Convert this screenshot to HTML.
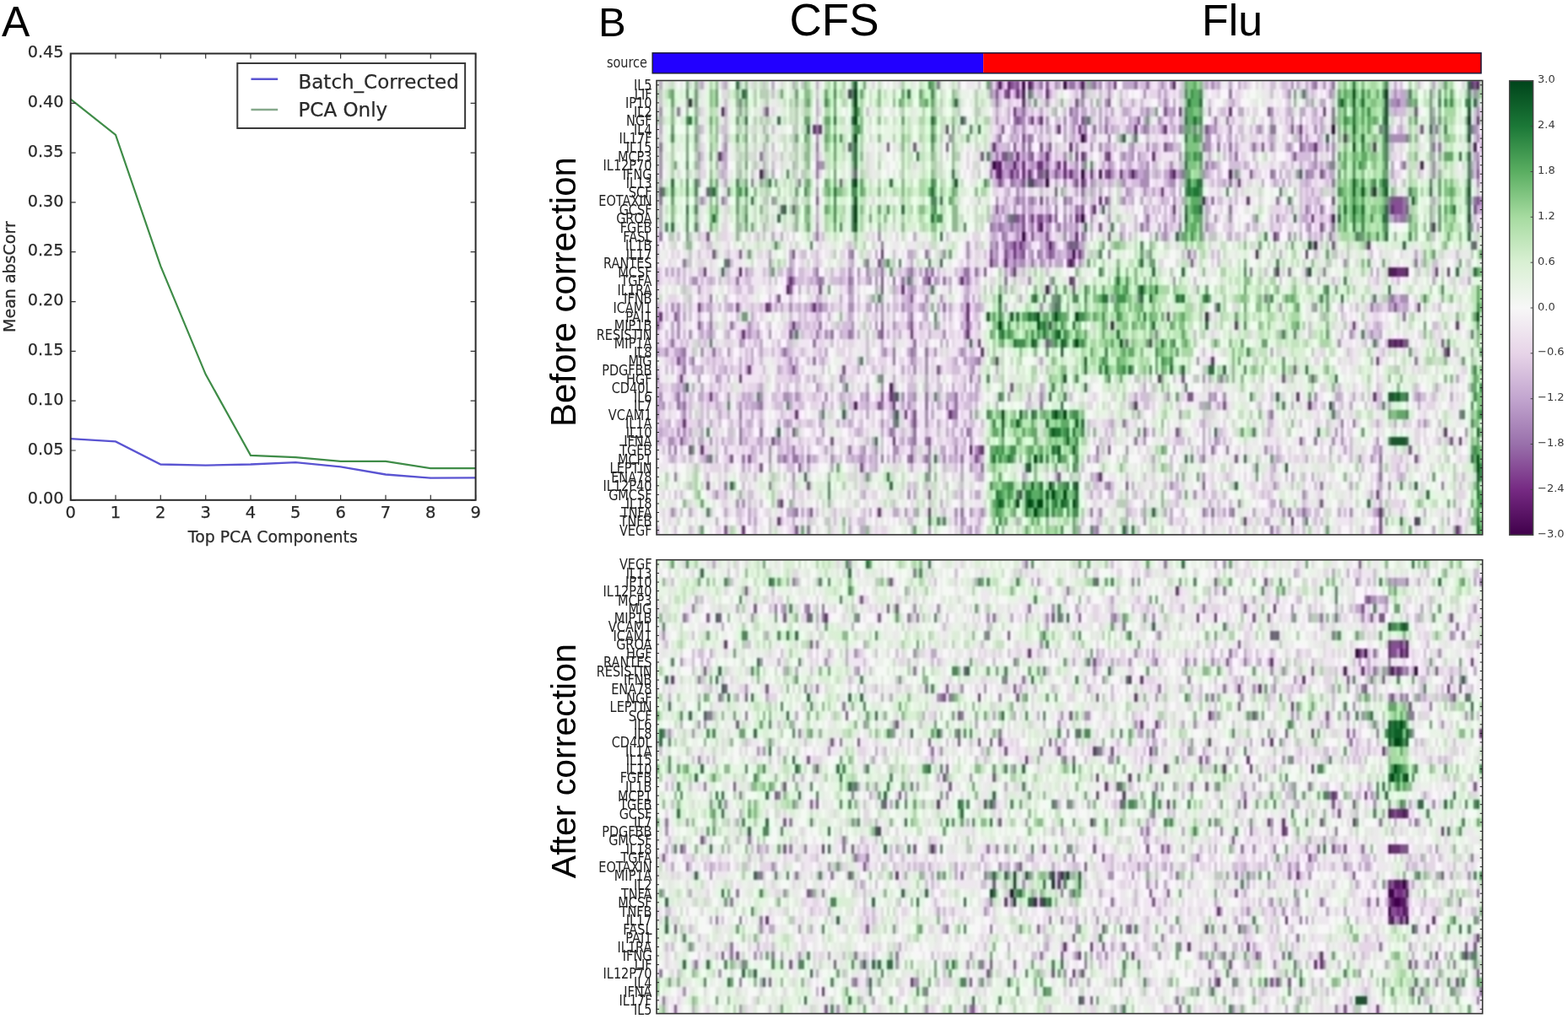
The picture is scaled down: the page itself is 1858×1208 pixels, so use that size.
<!DOCTYPE html><html><head><meta charset="utf-8"><style>html,body{margin:0;padding:0;background:#fff;width:1858px;height:1208px;overflow:hidden}svg{display:block}</style></head><body>
<svg width="1858" height="1208" viewBox="0 0 1858 1208">
<rect width="1858" height="1208" fill="#fff"/>
<defs><filter id="jpeg" filterUnits="userSpaceOnUse" x="770" y="90" width="995" height="1120" color-interpolation-filters="sRGB"><feGaussianBlur in="SourceGraphic" stdDeviation="4.5" result="c"/><feGaussianBlur in="SourceGraphic" stdDeviation="1.0" result="l"/><feBlend in="l" in2="c" mode="luminosity"/></filter></defs>
<text x="2" y="43" font-family="Liberation Sans,Arial,sans-serif" font-size="50" fill="#000">A</text>
<polyline fill="none" stroke="#3f8c48" stroke-width="2.2" points="83.7,117.6 137.0,160.0 190.3,315.4 243.7,443.8 297.0,539.9 350.3,542.2 403.6,546.9 457.0,546.9 510.3,555.2 563.6,555.2"/>
<polyline fill="none" stroke="#5a54d2" stroke-width="2.3" points="83.7,520.2 137.0,523.4 190.3,550.5 243.7,551.6 297.0,550.5 350.3,548.1 403.6,553.4 457.0,562.5 510.3,566.7 563.6,566.3"/>
<path d="M83.7 592.8v-6M83.7 63.5v6M137.0 592.8v-6M137.0 63.5v6M190.3 592.8v-6M190.3 63.5v6M243.7 592.8v-6M243.7 63.5v6M297.0 592.8v-6M297.0 63.5v6M350.3 592.8v-6M350.3 63.5v6M403.6 592.8v-6M403.6 63.5v6M457.0 592.8v-6M457.0 63.5v6M510.3 592.8v-6M510.3 63.5v6M563.6 592.8v-6M563.6 63.5v6M83.7 592.8h6M563.6 592.8h-6M83.7 534.0h6M563.6 534.0h-6M83.7 475.2h6M563.6 475.2h-6M83.7 416.4h6M563.6 416.4h-6M83.7 357.6h6M563.6 357.6h-6M83.7 298.7h6M563.6 298.7h-6M83.7 239.9h6M563.6 239.9h-6M83.7 181.1h6M563.6 181.1h-6M83.7 122.3h6M563.6 122.3h-6M83.7 63.5h6M563.6 63.5h-6" stroke="#333" stroke-width="1.2" fill="none"/>
<rect x="83.7" y="63.5" width="479.9" height="529.3" fill="none" stroke="#2a2a2a" stroke-width="2"/>
<text x="75.5" y="597.4" font-family="DejaVu Sans,sans-serif" fill="#2a2a2a" stroke="#2a2a2a" stroke-width="0.25" font-size="19.2" text-anchor="end">0.00</text>
<text x="75.5" y="538.6" font-family="DejaVu Sans,sans-serif" fill="#2a2a2a" stroke="#2a2a2a" stroke-width="0.25" font-size="19.2" text-anchor="end">0.05</text>
<text x="75.5" y="479.8" font-family="DejaVu Sans,sans-serif" fill="#2a2a2a" stroke="#2a2a2a" stroke-width="0.25" font-size="19.2" text-anchor="end">0.10</text>
<text x="75.5" y="421.0" font-family="DejaVu Sans,sans-serif" fill="#2a2a2a" stroke="#2a2a2a" stroke-width="0.25" font-size="19.2" text-anchor="end">0.15</text>
<text x="75.5" y="362.2" font-family="DejaVu Sans,sans-serif" fill="#2a2a2a" stroke="#2a2a2a" stroke-width="0.25" font-size="19.2" text-anchor="end">0.20</text>
<text x="75.5" y="303.3" font-family="DejaVu Sans,sans-serif" fill="#2a2a2a" stroke="#2a2a2a" stroke-width="0.25" font-size="19.2" text-anchor="end">0.25</text>
<text x="75.5" y="244.5" font-family="DejaVu Sans,sans-serif" fill="#2a2a2a" stroke="#2a2a2a" stroke-width="0.25" font-size="19.2" text-anchor="end">0.30</text>
<text x="75.5" y="185.7" font-family="DejaVu Sans,sans-serif" fill="#2a2a2a" stroke="#2a2a2a" stroke-width="0.25" font-size="19.2" text-anchor="end">0.35</text>
<text x="75.5" y="126.9" font-family="DejaVu Sans,sans-serif" fill="#2a2a2a" stroke="#2a2a2a" stroke-width="0.25" font-size="19.2" text-anchor="end">0.40</text>
<text x="75.5" y="68.1" font-family="DejaVu Sans,sans-serif" fill="#2a2a2a" stroke="#2a2a2a" stroke-width="0.25" font-size="19.2" text-anchor="end">0.45</text>
<text x="83.7" y="614" font-family="DejaVu Sans,sans-serif" fill="#2a2a2a" stroke="#2a2a2a" stroke-width="0.25" font-size="19.5" text-anchor="middle">0</text>
<text x="137.0" y="614" font-family="DejaVu Sans,sans-serif" fill="#2a2a2a" stroke="#2a2a2a" stroke-width="0.25" font-size="19.5" text-anchor="middle">1</text>
<text x="190.3" y="614" font-family="DejaVu Sans,sans-serif" fill="#2a2a2a" stroke="#2a2a2a" stroke-width="0.25" font-size="19.5" text-anchor="middle">2</text>
<text x="243.7" y="614" font-family="DejaVu Sans,sans-serif" fill="#2a2a2a" stroke="#2a2a2a" stroke-width="0.25" font-size="19.5" text-anchor="middle">3</text>
<text x="297.0" y="614" font-family="DejaVu Sans,sans-serif" fill="#2a2a2a" stroke="#2a2a2a" stroke-width="0.25" font-size="19.5" text-anchor="middle">4</text>
<text x="350.3" y="614" font-family="DejaVu Sans,sans-serif" fill="#2a2a2a" stroke="#2a2a2a" stroke-width="0.25" font-size="19.5" text-anchor="middle">5</text>
<text x="403.6" y="614" font-family="DejaVu Sans,sans-serif" fill="#2a2a2a" stroke="#2a2a2a" stroke-width="0.25" font-size="19.5" text-anchor="middle">6</text>
<text x="457.0" y="614" font-family="DejaVu Sans,sans-serif" fill="#2a2a2a" stroke="#2a2a2a" stroke-width="0.25" font-size="19.5" text-anchor="middle">7</text>
<text x="510.3" y="614" font-family="DejaVu Sans,sans-serif" fill="#2a2a2a" stroke="#2a2a2a" stroke-width="0.25" font-size="19.5" text-anchor="middle">8</text>
<text x="563.6" y="614" font-family="DejaVu Sans,sans-serif" fill="#2a2a2a" stroke="#2a2a2a" stroke-width="0.25" font-size="19.5" text-anchor="middle">9</text>
<text x="323.3" y="643" font-family="DejaVu Sans,sans-serif" fill="#2a2a2a" stroke="#2a2a2a" stroke-width="0.25" font-size="18.9" text-anchor="middle">Top PCA Components</text>
<text transform="translate(17.6 328.1) rotate(-90)" font-family="DejaVu Sans,sans-serif" fill="#2a2a2a" stroke="#2a2a2a" stroke-width="0.25" font-size="19" text-anchor="middle">Mean absCorr</text>
<rect x="281.3" y="75" width="269.8" height="77" fill="#fff" stroke="#3a3a3a" stroke-width="2"/>
<path d="M297.5 93.7H329.2" stroke="#5a54d2" stroke-width="2.4"/>
<path d="M297.5 130H329.2" stroke="#86a98c" stroke-width="2.6"/>
<text x="353.5" y="104.5" font-family="DejaVu Sans,sans-serif" fill="#2a2a2a" stroke="#2a2a2a" stroke-width="0.25" font-size="23">Batch_Corrected</text>
<text x="353.5" y="138" font-family="DejaVu Sans,sans-serif" fill="#2a2a2a" stroke="#2a2a2a" stroke-width="0.25" font-size="23">PCA Only</text>
<text x="709" y="43" font-family="Liberation Sans,Arial,sans-serif" fill="#000" font-size="49">B</text>
<text x="935.5" y="41.5" font-family="Liberation Sans,Arial,sans-serif" fill="#000" font-size="53">CFS</text>
<text x="1424" y="41.5" font-family="Liberation Sans,Arial,sans-serif" fill="#000" font-size="52">Flu</text>
<text transform="translate(767 80) scale(1 1.2)" font-family="DejaVu Sans,sans-serif" fill="#2a2a2a" font-size="14.5" text-anchor="end">source</text>
<rect x="773.2" y="62.8" width="392" height="24" fill="#2200ff"/>
<rect x="1165.2" y="62.8" width="590" height="24" fill="#ff0000"/>
<rect x="773.2" y="62.8" width="981.8" height="24" fill="none" stroke="#1a1a3a" stroke-width="1.5"/>
<defs><clipPath id="cl95"><rect x="778.00" y="95.50" width="978.70" height="538.40"/></clipPath></defs>
<g clip-path="url(#cl95)"><g filter="url(#jpeg)"><g transform="translate(778.00 100.78) scale(3.49536 10.55686)" fill="none" stroke-width="1" shape-rendering="crispEdges">
<path stroke="#40004b" d="M124 0h1M138 0h1M229 5h1M144 6h1M114 9h1M144 10h1M132 11h1M144 15h1M124 17h1M141 19h1"/>
<path stroke="#5b1567" d="M116 0h1M119 0h1M126 0h1M144 0h1M175 0h1M278 0h1M124 1h1M11 2h1M22 3h1M277 7h1M116 9h1M121 9h1M259 9h1M35 10h1M116 10h1M150 10h1M161 10h1M175 10h1M194 10h1M243 12h1M185 13h1M229 15h1M130 16h1M133 18h1M223 18h1M203 19h1M140 20h1M28 21h1M248 21h3M254 21h1M44 23h1M132 23h1M186 26h1M154 27h1M248 29h1M250 29h1M252 29h1M268 30h1M79 34h1M67 36h1M106 41h1"/>
<path stroke="#762a83" d="M155 0h1M276 0h1M65 1h1M119 1h1M122 1h1M132 1h1M124 2h1M121 3h1M177 3h1M194 3h1M226 3h1M127 4h1M130 4h1M278 4h1M53 5h1M55 5h1M98 5h1M136 5h1M143 5h1M162 5h1M172 5h1M218 5h1M233 6h1M114 7h1M140 7h1M223 7h1M243 7h1M21 8h1M122 8h1M132 8h1M144 8h1M153 8h1M168 8h1M115 9h1M124 9h1M129 9h2M136 9h1M138 9h1M115 10h1M120 10h1M124 10h1M126 10h1M132 10h1M138 10h1M140 10h1M147 10h1M153 10h1M157 10h1M127 11h1M144 11h1M197 11h1M171 12h1M150 13h1M200 13h1M148 14h1M175 14h1M249 14h1M127 15h1M133 15h1M142 15h1M222 15h1M263 16h1M142 17h1M209 17h1M121 18h1M123 18h1M241 18h1M76 19h1M121 19h1M143 19h1M220 19h1M113 20h1M118 20h1M16 21h1M121 21h1M210 21h1M251 21h3M264 21h1M268 21h1M45 22h1M92 22h1M103 22h1M140 22h1M83 23h1M14 25h1M37 25h1M53 25h1M105 25h1M258 25h1M1 26h1M105 26h1M173 26h1M46 27h1M133 27h1M196 27h1M236 27h1M271 27h1M29 28h1M86 28h1M105 28h1M109 29h1M167 29h1M249 29h1M251 29h1M110 30h1M115 31h1M188 31h1M244 31h1M31 32h1M8 33h1M28 33h1M170 33h1M18 35h1M79 35h1M217 35h1M243 35h1M80 36h1M162 36h1M221 36h1M47 37h1M84 37h1M99 37h1M9 38h1M267 39h1M80 40h1M272 40h1M15 41h1M110 41h1M150 44h1M123 46h1M244 46h1M42 47h1M75 48h1M92 48h1M245 48h1M41 49h1M199 49h1M215 49h1M257 49h1M29 50h1M271 50h1"/>
<path stroke="#884d97" d="M120 0h1M122 0h1M127 0h1M132 0h1M277 0h1M115 1h1M118 1h1M142 2h1M153 2h1M37 3h1M172 3h1M207 3h1M257 3h1M122 4h1M144 4h1M163 4h1M117 5h1M186 5h1M215 5h1M259 5h1M124 6h1M145 6h1M65 7h1M78 7h1M87 7h1M98 7h1M121 7h1M130 7h1M133 7h1M172 7h1M205 7h1M218 7h1M110 8h1M117 8h2M127 8h1M142 8h1M152 8h1M216 8h1M67 10h1M122 10h1M129 10h2M135 10h1M152 10h1M174 10h1M201 10h1M225 10h1M278 10h1M62 11h1M116 11h1M124 11h1M142 11h1M1 12h1M17 12h1M135 12h1M54 13h1M130 13h1M152 13h1M229 13h1M249 13h4M278 13h1M42 14h1M46 14h1M115 14h1M144 14h1M250 14h3M254 14h1M277 14h1M121 15h2M124 15h1M129 15h2M135 15h1M124 16h1M129 16h1M150 16h1M225 16h1M17 17h1M127 17h1M132 17h1M153 17h1M140 18h1M142 18h1M229 18h1M277 18h1M19 19h1M28 19h1M46 19h1M113 19h1M118 19h1M124 19h1M133 19h1M24 20h1M75 20h1M139 20h1M141 20h1M181 20h1M111 21h1M76 22h1M141 22h1M45 23h1M55 23h1M76 23h1M141 23h1M41 24h1M86 24h1M27 25h1M38 25h1M135 25h1M250 25h1M6 26h1M0 27h1M14 27h1M76 27h1M86 27h1M105 27h1M45 28h1M76 28h1M132 29h1M159 29h1M253 29h2M266 29h1M267 30h1M7 31h1M46 32h1M63 32h1M95 32h1M216 32h1M178 33h1M212 33h1M222 33h1M120 34h1M76 35h1M80 35h1M180 35h2M75 36h1M192 36h1M87 37h1M87 38h1M46 39h1M165 39h1M176 39h1M8 40h1M39 40h1M59 40h1M92 40h1M218 40h1M269 40h1M11 41h1M109 41h1M153 41h1M255 41h1M25 42h1M31 42h1M86 42h1M108 42h1M196 42h1M257 42h1M35 43h1M48 43h1M69 43h1M136 44h1M17 45h1M51 45h1M159 45h1M185 45h1M92 46h1M225 47h1M52 48h1M245 49h1M23 50h1M47 50h1M245 50h1"/>
<path stroke="#9970ab" d="M95 0h1M121 0h1M130 0h1M140 0h2M148 0h1M162 0h1M166 0h1M223 0h1M229 0h1M144 1h1M194 1h1M28 2h1M115 2h1M251 2h1M7 3h1M124 3h1M140 3h1M229 3h1M104 4h1M121 4h1M123 4h1M145 4h1M189 4h1M193 4h1M229 4h1M54 5h1M145 5h1M148 5h1M152 5h1M165 5h1M177 5h1M182 5h1M208 5h2M245 5h1M264 5h1M276 5h1M116 6h1M126 6h1M153 6h1M218 6h1M254 6h1M1 7h1M54 7h1M124 7h1M126 7h1M185 7h1M190 7h1M194 7h1M202 7h1M263 7h1M265 7h1M35 8h1M115 8h1M120 8h1M126 8h1M145 8h1M196 8h1M54 9h1M132 9h1M186 9h1M229 9h1M253 9h1M278 9h1M54 10h1M113 10h1M160 10h1M162 10h1M178 10h1M208 10h1M220 10h1M32 11h1M48 11h1M120 11h1M128 11h1M145 11h1M194 11h1M229 11h1M144 12h1M1 13h1M22 13h1M122 13h1M127 13h1M138 13h1M188 13h1M210 13h1M248 13h1M253 13h2M277 13h1M135 14h1M142 14h1M194 14h1M220 14h1M225 14h1M248 14h1M253 14h1M119 15h1M132 15h1M166 15h1M250 15h1M252 15h2M113 16h1M116 16h1M120 16h1M127 16h1M136 16h1M164 16h1M177 16h1M229 16h1M1 17h1M54 17h1M117 17h1M144 17h1M210 17h1M228 17h1M238 17h1M76 18h1M115 18h1M118 18h1M120 18h1M124 18h1M134 18h1M139 18h1M66 19h1M91 19h1M123 19h1M129 19h1M134 19h1M153 19h1M180 19h1M9 20h1M71 20h1M121 20h1M127 20h1M257 20h1M54 21h1M76 21h1M86 21h1M91 21h1M93 21h1M104 21h2M108 21h1M201 21h1M214 21h1M220 21h1M226 21h1M27 22h1M46 22h1M55 22h1M65 22h1M80 22h1M83 22h1M91 22h1M97 22h1M105 22h1M118 22h1M18 24h1M135 24h1M163 24h1M206 24h1M249 24h1M55 25h1M97 25h1M242 25h1M86 26h1M253 26h1M18 27h1M25 27h1M55 27h1M54 28h1M59 28h1M65 28h1M75 28h1M169 28h1M5 29h1M53 29h1M87 29h1M133 29h1M9 30h1M19 30h1M43 30h1M80 30h1M86 30h1M91 30h1M12 31h1M53 31h1M80 31h1M109 31h1M257 31h1M9 32h1M62 33h1M76 33h1M106 33h1M191 33h1M7 35h1M91 35h1M101 35h1M7 36h1M9 36h1M35 36h1M76 36h1M91 36h1M98 36h1M101 36h1M130 36h1M28 37h1M80 37h1M100 37h2M208 37h1M272 37h1M80 38h1M158 38h1M232 38h1M236 38h1M28 39h1M35 39h1M79 39h1M87 39h1M105 39h1M28 40h1M87 40h1M91 40h1M162 40h1M223 40h1M6 41h1M46 41h1M65 41h1M92 41h1M149 41h1M188 41h1M193 41h1M17 42h1M29 42h1M43 42h1M46 42h2M51 42h1M76 42h1M85 42h1M91 42h1M103 42h1M185 42h1M245 42h1M92 43h1M110 43h1M6 44h1M245 44h1M23 45h1M38 45h1M153 45h1M225 45h1M248 45h1M266 45h1M41 47h1M197 47h1M47 48h1M103 48h1M147 48h1M185 48h1M188 48h1M195 48h1M214 48h1M219 48h1M51 50h1M149 50h1M208 50h1"/>
<path stroke="#ae8abd" d="M113 0h1M115 0h1M135 0h1M143 0h1M147 0h1M150 0h1M153 0h1M171 0h1M174 0h1M188 0h1M215 0h1M222 0h1M226 0h1M113 1h1M127 1h1M153 1h1M165 1h1M214 1h1M228 1h1M250 1h1M277 1h1M132 2h1M144 2h1M152 2h1M172 2h1M249 2h2M254 2h1M1 3h1M28 3h1M142 3h1M166 3h1M175 3h1M187 3h1M208 3h1M278 3h1M115 4h1M124 4h1M126 4h1M129 4h1M132 4h1M138 4h1M141 4h2M152 4h1M170 4h1M215 4h1M263 4h1M121 5h1M124 5h1M141 5h1M166 5h1M171 5h1M178 5h1M187 5h1M189 5h1M194 5h1M204 5h1M223 5h1M277 5h1M54 6h1M99 6h1M127 6h1M157 6h1M186 6h2M220 6h1M248 6h6M278 6h1M23 7h1M142 7h1M147 7h1M150 7h1M161 7h1M166 7h1M173 7h2M186 7h2M208 7h1M214 7h1M219 7h1M221 7h2M227 7h1M229 7h1M1 8h1M14 8h1M22 8h1M54 8h1M124 8h1M130 8h1M138 8h1M158 8h1M161 8h1M163 8h1M177 8h1M223 8h1M229 8h1M278 8h1M1 9h1M55 9h2M118 9h3M122 9h1M127 9h1M135 9h1M142 9h1M144 9h1M153 9h1M166 9h1M174 9h1M188 9h1M223 9h1M263 9h1M1 10h1M36 10h1M117 10h1M119 10h1M121 10h1M127 10h1M136 10h1M141 10h2M154 10h1M165 10h2M177 10h1M185 10h1M209 10h1M217 10h1M221 10h2M226 10h1M263 10h1M276 10h1M14 11h1M117 11h1M121 11h1M123 11h1M129 11h2M138 11h1M141 11h1M147 11h1M158 11h1M164 11h3M174 11h2M278 11h1M54 12h1M122 12h1M159 12h1M165 12h1M15 13h1M39 13h1M115 13h1M124 13h1M126 13h1M132 13h1M140 13h1M153 13h1M158 13h1M175 13h1M279 13h1M117 14h1M121 14h1M124 14h1M147 14h1M123 15h1M126 15h1M138 15h1M140 15h1M143 15h1M147 15h1M153 15h1M175 15h1M189 15h1M194 15h1M210 15h1M251 15h1M254 15h1M54 16h1M114 16h1M117 16h1M122 16h1M132 16h1M138 16h1M142 16h1M166 16h1M172 16h1M186 16h1M221 16h1M276 16h1M278 16h1M75 17h1M118 17h1M122 17h1M138 17h1M157 17h1M172 17h1M214 17h1M105 18h1M113 18h1M119 18h1M122 18h1M132 18h1M65 19h1M97 19h1M105 19h1M115 19h1M119 19h1M122 19h1M127 19h1M130 19h1M132 19h1M139 19h2M144 19h1M38 20h1M114 20h2M123 20h2M130 20h1M133 20h1M143 20h1M233 20h1M30 21h1M45 21h1M65 21h1M68 21h1M71 21h1M85 21h1M120 21h1M12 22h2M44 22h1M54 22h1M56 22h1M66 22h1M72 22h1M74 22h1M86 22h1M90 22h1M94 22h1M126 22h1M175 22h1M14 23h1M65 23h1M86 23h1M91 24h1M96 24h1M154 24h1M248 24h1M252 24h3M5 25h1M7 25h1M45 25h1M52 25h1M65 25h2M74 25h1M76 25h1M83 25h1M90 25h1M130 25h1M189 25h1M211 25h1M223 25h1M248 25h1M7 26h1M18 26h1M76 26h1M7 27h1M31 27h1M66 27h1M74 27h1M80 27h1M85 27h1M7 28h1M11 28h1M18 28h1M31 28h1M34 28h1M38 28h1M57 28h1M66 28h1M97 28h1M104 28h1M235 28h1M242 28h1M28 29h1M231 29h1M0 30h1M3 30h1M8 30h1M15 30h1M24 30h1M77 30h1M87 30h1M94 30h1M103 30h1M9 31h1M45 31h1M86 31h1M91 31h1M104 31h1M108 31h1M183 31h1M87 32h1M91 32h1M107 32h1M0 33h1M14 33h1M20 33h1M109 33h1M185 33h1M9 34h1M54 34h1M76 34h1M1 35h1M24 35h1M35 35h1M43 35h2M47 35h1M57 35h1M71 35h1M83 35h1M87 35h1M119 35h1M130 35h1M173 35h1M187 35h1M189 35h1M192 35h1M223 35h1M258 35h1M2 36h1M28 36h1M34 36h1M56 36h1M85 36h1M187 36h1M229 36h1M0 37h1M9 37h1M91 37h1M106 37h1M177 37h1M28 38h1M44 38h1M76 38h1M86 38h1M91 38h1M260 38h1M7 39h1M9 39h1M56 39h1M80 39h1M106 39h1M230 39h1M274 39h1M4 40h2M18 40h1M41 40h1M86 40h1M106 40h1M165 40h1M189 40h1M229 40h1M232 40h1M244 40h1M4 41h1M38 41h1M70 41h1M74 41h1M80 41h2M86 41h1M101 41h1M108 41h1M159 41h1M206 41h1M245 41h1M38 42h1M41 42h1M59 42h1M69 42h1M80 42h1M92 42h1M97 42h1M109 42h1M149 42h1M238 42h1M242 42h1M106 43h1M245 43h1M46 44h1M92 44h1M149 44h1M185 44h1M152 45h1M174 45h1M209 45h1M20 46h1M85 46h1M182 46h1M219 46h1M27 47h1M29 47h1M211 47h1M5 48h1M46 48h1M84 48h1M101 48h1M106 48h1M110 48h1M150 48h1M194 48h1M212 48h1M235 48h1M244 48h1M103 49h1M165 49h1M92 50h1M106 50h1M148 50h1M159 50h1M272 50h1"/>
<path stroke="#c2a5cf" d="M1 0h1M15 0h1M23 0h1M39 0h1M46 0h1M54 0h1M117 0h1M129 0h1M136 0h1M139 0h1M145 0h1M158 0h4M186 0h1M190 0h1M194 0h1M197 0h1M217 0h1M220 0h1M250 0h1M263 0h1M114 1h1M121 1h1M123 1h1M133 1h1M170 1h1M172 1h1M220 1h1M229 1h1M252 1h3M54 2h1M126 2h1M147 2h1M157 2h1M161 2h1M175 2h1M195 2h1M220 2h1M225 2h2M248 2h1M252 2h2M278 2h1M23 3h1M36 3h1M54 3h1M115 3h1M119 3h1M122 3h2M130 3h1M135 3h1M141 3h1M144 3h2M150 3h1M154 3h1M158 3h2M164 3h1M173 3h2M197 3h2M214 3h1M218 3h2M223 3h1M250 3h1M263 3h1M1 4h1M119 4h1M150 4h1M160 4h1M162 4h1M165 4h1M174 4h1M208 4h1M218 4h1M225 4h1M1 5h1M14 5h1M36 5h1M130 5h1M132 5h1M135 5h1M138 5h1M144 5h1M150 5h1M154 5h1M159 5h2M164 5h1M175 5h1M188 5h1M203 5h1M217 5h1M225 5h1M252 5h1M263 5h1M278 5h1M23 6h1M115 6h1M120 6h1M122 6h1M138 6h1M141 6h1M161 6h1M190 6h1M194 6h1M208 6h1M224 6h1M229 6h1M263 6h1M36 7h1M115 7h1M119 7h1M132 7h1M152 7h2M160 7h1M168 7h2M196 7h1M213 7h1M23 8h1M113 8h1M131 8h1M133 8h1M157 8h1M160 8h1M187 8h1M194 8h1M215 8h1M263 8h1M277 8h1M14 9h1M23 9h1M36 9h1M46 9h1M113 9h1M126 9h1M128 9h1M131 9h1M151 9h1M154 9h1M160 9h1M164 9h1M189 9h1M199 9h1M218 9h1M222 9h1M225 9h1M227 9h1M249 9h1M252 9h1M276 9h1M22 10h1M28 10h1M39 10h1M118 10h1M134 10h1M139 10h1M145 10h1M158 10h1M163 10h2M169 10h1M172 10h2M176 10h1M186 10h1M197 10h1M211 10h1M228 10h2M249 10h1M1 11h1M23 11h1M115 11h1M122 11h1M135 11h1M148 11h1M153 11h1M157 11h1M173 11h1M192 11h1M205 11h1M209 11h1M212 11h1M220 11h1M119 12h1M124 12h1M142 12h1M147 12h1M150 12h1M160 12h1M168 12h1M175 12h1M177 12h1M222 12h1M23 13h1M118 13h1M121 13h1M123 13h1M128 13h1M135 13h1M139 13h1M144 13h1M157 13h1M161 13h1M164 13h1M171 13h1M178 13h1M186 13h1M224 13h1M263 13h1M1 14h1M54 14h1M126 14h2M132 14h1M138 14h1M143 14h1M153 14h1M165 14h1M186 14h1M215 14h1M221 14h1M278 14h2M1 15h1M54 15h1M114 15h1M116 15h1M118 15h1M131 15h1M177 15h1M186 15h1M202 15h1M219 15h2M228 15h1M248 15h2M1 16h1M28 16h1M36 16h1M115 16h1M118 16h2M121 16h1M123 16h1M126 16h1M133 16h1M135 16h1M140 16h1M147 16h1M170 16h1M200 16h1M220 16h1M226 16h1M39 17h1M42 17h1M87 17h1M114 17h1M125 17h1M130 17h1M140 17h1M145 17h1M171 17h1M177 17h1M185 17h1M194 17h1M218 17h1M221 17h1M225 17h1M114 18h1M125 18h2M130 18h1M143 18h2M38 19h1M45 19h1M74 19h1M85 19h2M114 19h1M120 19h1M126 19h1M136 19h1M142 19h1M166 19h1M182 19h1M211 19h1M257 19h1M45 20h1M66 20h1M76 20h1M86 20h1M119 20h2M122 20h1M131 20h1M135 20h3M0 21h1M3 21h1M5 21h1M7 21h1M38 21h1M44 21h1M53 21h1M74 21h1M89 21h1M118 21h1M242 21h1M244 21h1M0 22h1M18 22h1M52 22h1M62 22h1M68 22h1M71 22h1M95 22h1M99 22h1M102 22h1M104 22h1M133 22h1M224 22h1M263 22h1M275 22h1M48 23h1M66 23h1M74 23h1M80 23h1M85 23h1M87 23h1M105 23h1M118 23h1M133 23h1M54 24h1M62 24h1M65 24h2M76 24h1M85 24h1M104 24h2M107 24h1M123 24h1M250 24h1M0 25h1M15 25h1M17 25h2M24 25h2M40 25h1M42 25h1M48 25h1M50 25h1M54 25h1M56 25h2M71 25h2M78 25h1M85 25h2M89 25h1M95 25h1M99 25h1M103 25h1M108 25h2M118 25h1M133 25h1M232 25h1M244 25h1M249 25h1M251 25h1M253 25h2M0 26h1M9 26h1M14 26h1M32 26h1M54 26h1M58 26h1M65 26h1M85 26h1M91 26h1M104 26h1M226 26h1M5 27h1M15 27h1M45 27h1M47 27h2M89 27h1M95 27h1M103 27h1M106 27h1M109 27h1M244 27h1M5 28h1M15 28h1M17 28h1M24 28h1M46 28h1M62 28h1M68 28h1M78 28h1M82 28h1M92 28h1M211 28h1M245 28h1M29 29h1M35 29h1M76 29h1M96 29h1M98 29h1M244 29h1M6 30h2M32 30h1M35 30h1M42 30h1M44 30h1M57 30h1M76 30h1M85 30h1M104 30h1M208 30h1M8 31h1M11 31h1M28 31h1M32 31h1M47 31h1M56 31h1M68 31h1M87 31h1M101 31h1M106 31h2M130 31h1M12 32h1M15 32h1M23 32h1M28 32h1M30 32h1M41 32h1M45 32h1M47 32h1M68 32h1M83 32h1M106 32h1M115 32h1M21 33h1M24 33h1M53 33h1M63 33h1M80 33h1M91 33h1M187 33h1M271 33h1M7 34h1M12 34h1M15 34h1M35 34h1M63 34h1M71 34h1M80 34h1M91 34h1M100 34h1M104 34h1M108 34h1M130 34h1M165 34h1M264 34h1M6 35h1M9 35h1M14 35h2M20 35h1M29 35h1M31 35h1M45 35h1M48 35h1M62 35h1M69 35h1M85 35h2M95 35h1M98 35h3M106 35h1M108 35h1M126 35h1M162 35h1M188 35h1M230 35h2M236 35h1M257 35h1M269 35h1M0 36h2M8 36h1M20 36h1M30 36h1M32 36h2M45 36h1M71 36h1M79 36h1M83 36h1M95 36h1M115 36h1M184 36h2M190 36h1M215 36h1M235 36h1M248 36h1M258 36h1M21 37h1M24 37h1M32 37h1M55 37h1M71 37h1M86 37h1M93 37h1M207 37h1M4 38h1M14 38h1M18 38h1M31 38h1M35 38h1M41 38h1M43 38h1M45 38h1M55 38h1M61 38h1M65 38h1M95 38h1M101 38h1M104 38h1M154 38h1M185 38h1M244 38h1M250 38h1M258 38h1M1 39h1M11 39h1M15 39h1M68 39h1M76 39h1M98 39h1M100 39h1M103 39h1M168 39h1M177 39h1M185 39h1M207 39h1M232 39h1M0 40h1M9 40h1M14 40h2M22 40h1M30 40h1M34 40h2M40 40h1M44 40h1M54 40h1M73 40h1M83 40h1M85 40h1M101 40h1M104 40h1M185 40h1M190 40h1M23 41h1M32 41h1M35 41h1M44 41h1M57 41h1M69 41h1M96 41h2M175 41h1M185 41h1M228 41h1M233 41h1M243 41h1M5 42h1M16 42h1M20 42h1M42 42h1M44 42h1M49 42h1M53 42h1M66 42h1M68 42h1M70 42h1M72 42h1M74 42h1M78 42h1M90 42h1M99 42h1M101 42h1M146 42h1M168 42h1M184 42h1M210 42h1M220 42h1M29 43h1M38 43h1M51 43h1M59 43h1M74 43h1M86 43h1M103 43h1M209 43h1M103 44h1M109 44h2M124 44h1M135 44h1M147 44h1M176 44h1M215 44h1M222 44h1M252 44h1M46 45h1M161 45h1M235 45h1M245 45h1M46 46h1M70 46h1M87 46h1M103 46h1M108 46h2M147 46h1M177 46h1M242 46h1M96 47h1M165 47h1M187 47h1M208 47h2M245 47h1M11 48h1M23 48h1M31 48h1M44 48h2M49 48h1M51 48h1M72 48h1M80 48h2M87 48h1M159 48h1M172 48h1M174 48h1M186 48h1M192 48h1M202 48h1M217 48h1M220 48h1M231 48h1M243 48h1M260 48h1M272 48h1M20 49h1M31 49h1M33 49h1M46 49h1M101 49h1M104 49h1M109 49h1M122 49h1M159 49h1M174 49h1M206 49h2M219 49h1M268 49h1M0 50h1M65 50h1M69 50h2M103 50h1M108 50h1M143 50h1M185 50h1M210 50h1M215 50h1M263 50h1"/>
<path stroke="#d4bcdc" d="M14 0h1M22 0h1M28 0h1M36 0h1M49 0h1M102 0h1M109 0h1M128 0h1M142 0h1M149 0h1M152 0h1M154 0h1M164 0h2M170 0h1M172 0h1M178 0h1M185 0h1M189 0h1M199 0h1M208 0h2M212 0h2M228 0h1M252 0h1M258 0h1M266 0h1M1 1h1M36 1h1M39 1h1M54 1h1M116 1h1M129 1h2M142 1h1M145 1h1M150 1h1M157 1h1M177 1h2M208 1h1M213 1h1M218 1h1M222 1h1M249 1h1M251 1h1M263 1h1M276 1h1M1 2h1M23 2h1M102 2h1M114 2h1M116 2h1M119 2h1M150 2h1M164 2h1M170 2h1M173 2h1M187 2h1M194 2h1M214 2h1M221 2h1M229 2h1M14 3h1M71 3h1M102 3h1M109 3h1M125 3h1M127 3h1M138 3h1M147 3h2M152 3h1M160 3h1M165 3h1M167 3h2M178 3h1M191 3h2M213 3h1M215 3h1M222 3h1M248 3h2M251 3h3M277 3h1M23 4h1M54 4h1M135 4h2M140 4h1M147 4h1M153 4h1M161 4h1M171 4h1M177 4h2M195 4h1M213 4h1M222 4h2M252 4h1M277 4h1M15 5h1M22 5h2M28 5h1M39 5h1M46 5h1M102 5h1M116 5h1M120 5h1M122 5h1M128 5h1M133 5h1M140 5h1M155 5h2M161 5h1M168 5h1M170 5h1M174 5h1M185 5h1M197 5h2M201 5h1M205 5h1M214 5h1M220 5h1M226 5h1M248 5h1M251 5h1M1 6h1M14 6h1M46 6h1M121 6h1M125 6h1M129 6h2M133 6h1M140 6h1M143 6h1M147 6h2M166 6h1M175 6h1M193 6h1M196 6h1M198 6h1M207 6h1M209 6h1M217 6h1M225 6h1M277 6h1M14 7h1M22 7h1M39 7h1M46 7h1M113 7h1M116 7h3M135 7h1M155 7h1M175 7h3M192 7h1M201 7h1M203 7h1M209 7h1M215 7h1M220 7h1M224 7h2M248 7h2M279 7h1M15 8h1M28 8h1M36 8h1M42 8h1M102 8h1M114 8h1M116 8h1M121 8h1M123 8h1M125 8h1M129 8h1M135 8h1M159 8h1M164 8h2M192 8h1M202 8h1M217 8h5M248 8h1M22 9h1M28 9h1M39 9h1M117 9h1M123 9h1M133 9h1M140 9h2M157 9h1M159 9h1M163 9h1M165 9h1M168 9h2M177 9h2M187 9h1M190 9h1M194 9h4M200 9h1M203 9h1M212 9h1M215 9h1M221 9h1M277 9h1M14 10h1M21 10h1M23 10h1M32 10h1M46 10h1M49 10h1M109 10h1M114 10h1M125 10h1M133 10h1M137 10h1M148 10h1M155 10h1M159 10h1M168 10h1M170 10h1M187 10h1M190 10h1M195 10h1M202 10h1M213 10h2M258 10h1M277 10h1M28 11h1M36 11h1M54 11h1M114 11h1M125 11h1M131 11h1M150 11h2M154 11h1M161 11h3M172 11h1M177 11h2M188 11h1M190 11h2M196 11h1M210 11h1M214 11h1M218 11h2M221 11h1M227 11h1M250 11h1M253 11h1M118 12h1M130 12h1M138 12h1M145 12h1M148 12h1M153 12h1M161 12h1M166 12h1M170 12h1M174 12h1M196 12h1M218 12h1M220 12h1M225 12h1M229 12h1M278 12h1M14 13h1M16 13h1M36 13h1M46 13h1M109 13h1M134 13h1M145 13h1M147 13h2M160 13h1M167 13h1M172 13h2M190 13h2M194 13h1M196 13h1M215 13h1M218 13h1M220 13h2M223 13h1M276 13h1M114 14h1M116 14h1M118 14h2M130 14h1M133 14h1M140 14h1M150 14h1M166 14h1M168 14h1M170 14h1M172 14h1M174 14h1M177 14h1M187 14h1M213 14h1M218 14h1M223 14h1M226 14h1M229 14h1M263 14h1M113 15h1M115 15h1M128 15h1M134 15h1M145 15h1M162 15h1M165 15h1M169 15h1M172 15h1M174 15h1M208 15h1M212 15h1M218 15h1M225 15h1M263 15h1M277 15h1M14 16h1M46 16h1M139 16h1M141 16h1M144 16h1M157 16h2M162 16h1M165 16h1M174 16h1M187 16h2M194 16h1M202 16h2M208 16h1M211 16h1M218 16h1M228 16h1M4 17h1M7 17h1M11 17h1M14 17h1M34 17h1M36 17h1M53 17h1M56 17h1M98 17h1M113 17h1M115 17h1M121 17h1M123 17h1M128 17h2M131 17h1M133 17h1M141 17h1M147 17h1M158 17h1M160 17h1M167 17h1M173 17h1M187 17h1M189 17h1M193 17h1M196 17h2M199 17h1M223 17h1M229 17h1M263 17h1M0 18h1M17 18h2M65 18h1M108 18h1M117 18h1M131 18h1M135 18h1M138 18h1M0 19h1M11 19h1M14 19h1M24 19h1M49 19h2M54 19h1M80 19h1M87 19h1M92 19h1M111 19h1M135 19h1M137 19h2M147 19h1M149 19h1M178 19h1M188 19h1M190 19h1M223 19h1M229 19h1M242 19h1M271 19h1M11 20h1M25 20h1M46 20h1M54 20h1M65 20h1M80 20h1M105 20h1M117 20h1M126 20h1M128 20h1M144 20h1M190 20h1M228 20h1M259 20h1M263 20h2M275 20h1M9 21h1M14 21h2M23 21h2M31 21h2M36 21h1M41 21h2M46 21h1M48 21h2M59 21h1M62 21h2M66 21h1M72 21h1M75 21h1M82 21h1M84 21h1M87 21h1M92 21h1M95 21h1M101 21h1M103 21h1M109 21h1M124 21h1M132 21h1M206 21h1M258 21h1M263 21h1M7 22h1M9 22h1M11 22h1M15 22h1M17 22h1M19 22h1M21 22h1M24 22h1M30 22h2M38 22h1M40 22h1M47 22h3M51 22h1M53 22h1M59 22h3M63 22h1M84 22h1M106 22h1M108 22h1M121 22h1M182 22h1M211 22h1M220 22h1M229 22h1M244 22h1M251 22h1M9 23h1M27 23h2M31 23h2M51 23h1M81 23h1M90 23h1M92 23h1M99 23h1M104 23h1M113 23h1M11 24h1M23 24h1M38 24h1M40 24h1M45 24h1M55 24h1M68 24h1M72 24h1M80 24h1M83 24h2M109 24h1M242 24h1M251 24h1M3 25h1M9 25h1M11 25h1M21 25h1M23 25h1M28 25h1M32 25h1M35 25h1M47 25h1M51 25h1M59 25h1M62 25h1M68 25h1M80 25h2M84 25h1M91 25h1M104 25h1M110 25h1M237 25h1M243 25h1M245 25h1M252 25h1M257 25h1M265 25h1M3 26h1M11 26h1M27 26h1M45 26h1M48 26h1M50 26h1M55 26h1M66 26h1M74 26h1M80 26h1M90 26h1M97 26h1M99 26h1M108 26h1M232 26h1M1 27h1M17 27h1M26 27h1M32 27h1M34 27h1M38 27h1M50 27h2M53 27h1M61 27h1M63 27h3M72 27h1M81 27h1M92 27h1M104 27h1M221 27h1M240 27h1M243 27h1M245 27h1M263 27h2M0 28h1M3 28h1M9 28h1M14 28h1M19 28h1M23 28h1M28 28h1M30 28h1M32 28h2M49 28h1M52 28h1M55 28h1M58 28h1M63 28h2M71 28h1M80 28h1M182 28h1M221 28h1M232 28h1M236 28h1M241 28h1M243 28h2M0 29h1M4 29h1M8 29h1M10 29h1M14 29h1M16 29h1M33 29h1M41 29h1M44 29h2M59 29h1M71 29h1M80 29h1M91 29h1M104 29h1M240 29h1M247 29h1M1 30h2M12 30h1M21 30h1M30 30h1M39 30h1M45 30h1M49 30h1M55 30h1M71 30h1M102 30h1M106 30h2M185 30h1M234 30h1M246 30h1M271 30h1M5 31h1M17 31h1M19 31h1M22 31h1M30 31h1M35 31h1M44 31h1M51 31h1M55 31h1M71 31h1M100 31h1M105 31h1M203 31h1M0 32h1M3 32h1M5 32h1M8 32h1M13 32h2M19 32h1M21 32h2M25 32h1M36 32h1M42 32h1M44 32h1M56 32h1M73 32h1M76 32h1M85 32h1M96 32h1M100 32h3M185 32h1M250 32h1M7 33h1M45 33h1M47 33h2M51 33h1M86 33h1M95 33h1M104 33h1M162 33h1M165 33h1M175 33h1M182 33h1M192 33h1M0 34h2M5 34h2M8 34h1M18 34h1M21 34h1M34 34h1M41 34h1M44 34h1M47 34h1M55 34h1M59 34h1M85 34h3M95 34h2M106 34h1M109 34h1M131 34h1M168 34h1M231 34h1M244 34h1M257 34h1M275 34h1M0 35h1M11 35h1M17 35h1M19 35h1M30 35h1M32 35h1M39 35h2M53 35h1M63 35h1M65 35h1M70 35h1M78 35h1M103 35h1M105 35h1M107 35h1M131 35h1M140 35h1M164 35h3M172 35h1M208 35h1M232 35h1M239 35h1M244 35h2M259 35h2M263 35h1M4 36h1M11 36h1M15 36h1M17 36h1M21 36h1M27 36h1M31 36h1M40 36h3M48 36h2M59 36h1M62 36h1M65 36h2M69 36h2M74 36h1M86 36h2M93 36h1M96 36h1M100 36h1M104 36h3M108 36h1M125 36h2M160 36h1M165 36h2M204 36h1M222 36h2M226 36h1M232 36h1M240 36h1M244 36h2M8 37h1M11 37h1M15 37h1M17 37h1M35 37h1M42 37h1M64 37h1M66 37h1M76 37h1M79 37h1M98 37h1M185 37h1M230 37h2M1 38h1M3 38h1M7 38h2M15 38h1M21 38h1M25 38h1M30 38h1M32 38h1M48 38h1M51 38h2M56 38h1M63 38h1M66 38h1M69 38h1M78 38h1M98 38h1M100 38h1M106 38h2M110 38h1M146 38h1M153 38h1M159 38h1M165 38h1M184 38h1M207 38h2M218 38h1M227 38h1M253 38h1M261 38h1M265 38h1M0 39h1M2 39h2M5 39h1M24 39h2M29 39h1M31 39h1M40 39h1M44 39h1M67 39h1M69 39h1M78 39h1M83 39h1M86 39h1M91 39h1M95 39h1M146 39h1M152 39h1M154 39h1M159 39h1M166 39h1M187 39h1M190 39h2M1 40h1M6 40h1M10 40h1M12 40h1M20 40h1M24 40h2M29 40h1M37 40h1M48 40h1M55 40h1M71 40h1M76 40h1M82 40h1M100 40h1M150 40h1M153 40h1M176 40h3M180 40h1M187 40h1M192 40h1M219 40h1M235 40h1M265 40h1M268 40h1M2 41h1M8 41h1M20 41h1M33 41h1M41 41h2M45 41h1M49 41h1M51 41h1M59 41h1M73 41h1M76 41h1M87 41h1M103 41h2M181 41h1M183 41h1M189 41h1M208 41h1M210 41h1M235 41h1M244 41h1M250 41h1M4 42h1M6 42h1M9 42h1M11 42h1M15 42h1M24 42h1M32 42h2M48 42h1M52 42h1M54 42h1M60 42h1M62 42h1M64 42h2M67 42h1M73 42h1M82 42h1M87 42h1M95 42h1M100 42h1M106 42h2M110 42h1M148 42h1M159 42h1M174 42h1M209 42h1M211 42h1M228 42h1M231 42h1M235 42h1M243 42h1M252 42h1M258 42h1M268 42h1M23 43h1M31 43h1M44 43h3M49 43h1M70 43h1M72 43h2M97 43h1M101 43h1M107 43h2M144 43h1M168 43h1M174 43h1M202 43h1M208 43h1M239 43h1M251 43h1M254 43h1M17 44h1M33 44h1M70 44h1M72 44h1M108 44h1M125 44h1M140 44h1M143 44h1M148 44h1M159 44h1M165 44h1M193 44h1M208 44h1M213 44h1M219 44h1M238 44h1M244 44h1M251 44h1M253 44h1M273 44h1M11 45h1M29 45h1M85 45h1M87 45h1M91 45h1M103 45h1M145 45h1M148 45h2M154 45h1M172 45h1M175 45h2M195 45h1M210 45h1M215 45h1M223 45h1M244 45h1M255 45h1M272 45h1M6 46h1M8 46h1M19 46h1M23 46h1M31 46h2M69 46h1M101 46h1M106 46h1M150 46h1M153 46h2M159 46h1M162 46h1M176 46h1M185 46h1M188 46h2M192 46h1M205 46h1M207 46h1M220 46h1M245 46h1M248 46h1M31 47h1M35 47h1M46 47h1M80 47h1M92 47h1M103 47h1M156 47h1M159 47h1M176 47h1M190 47h1M194 47h1M219 47h1M253 47h1M6 48h1M8 48h1M18 48h1M27 48h2M33 48h1M54 48h1M60 48h1M70 48h1M97 48h1M107 48h1M109 48h1M111 48h1M160 48h1M164 48h1M169 48h1M178 48h1M190 48h1M208 48h1M218 48h1M221 48h1M223 48h2M233 48h1M248 48h1M252 48h1M275 48h1M28 49h1M38 49h1M42 49h1M51 49h1M57 49h1M60 49h1M65 49h1M68 49h3M85 49h2M96 49h1M144 49h1M149 49h2M179 49h1M188 49h1M223 49h1M225 49h1M6 50h1M11 50h1M14 50h1M33 50h1M38 50h1M46 50h1M86 50h1M105 50h1M109 50h1M154 50h1M163 50h1M178 50h1M194 50h1M199 50h1M219 50h1M239 50h1M242 50h2M252 50h1"/>
<path stroke="#e7d4e8" d="M4 0h1M11 0h1M32 0h1M42 0h1M73 0h1M82 0h1M114 0h1M118 0h1M123 0h1M133 0h2M163 0h1M167 0h1M177 0h1M187 0h1M198 0h1M200 0h1M203 0h1M205 0h1M211 0h1M214 0h1M218 0h1M221 0h1M225 0h1M248 0h1M273 0h1M14 1h1M22 1h2M28 1h1M46 1h1M102 1h1M117 1h1M120 1h1M128 1h1M134 1h2M141 1h1M147 1h2M152 1h1M154 1h1M159 1h1M167 1h3M173 1h1M175 1h1M185 1h1M190 1h1M196 1h2M212 1h1M221 1h1M223 1h1M227 1h1M248 1h1M36 2h1M46 2h1M49 2h1M120 2h1M122 2h1M130 2h1M133 2h1M135 2h2M140 2h1M158 2h1M160 2h1M162 2h1M171 2h1M177 2h2M193 2h1M196 2h2M213 2h1M263 2h1M15 3h1M39 3h1M46 3h1M49 3h1M55 3h1M82 3h1M95 3h1M114 3h1M116 3h1M118 3h1M126 3h1M129 3h1M132 3h1M157 3h1M185 3h1M190 3h1M200 3h1M202 3h2M210 3h1M254 3h1M279 3h1M28 4h1M36 4h1M46 4h1M113 4h2M116 4h3M128 4h1M148 4h1M154 4h2M157 4h2M167 4h1M173 4h1M175 4h1M188 4h1M190 4h1M194 4h1M198 4h1M205 4h1M209 4h1M211 4h1M214 4h1M220 4h1M224 4h1M226 4h1M266 4h1M21 5h1M32 5h1M49 5h1M107 5h1M113 5h1M115 5h1M123 5h1M125 5h1M142 5h1M147 5h1M151 5h1M153 5h1M158 5h1M167 5h1M169 5h1M176 5h1M190 5h2M193 5h1M213 5h1M219 5h1M228 5h1M249 5h1M253 5h1M258 5h1M22 6h1M32 6h1M36 6h1M42 6h1M114 6h1M119 6h1M132 6h1M142 6h1M169 6h1M172 6h2M185 6h1M191 6h1M199 6h1M201 6h3M205 6h1M212 6h2M215 6h1M221 6h1M258 6h1M279 6h1M15 7h1M28 7h1M49 7h1M82 7h1M109 7h1M122 7h2M136 7h1M138 7h1M144 7h1M151 7h1M154 7h1M157 7h1M162 7h3M170 7h1M188 7h1M197 7h1M204 7h1M207 7h1M230 7h1M252 7h1M258 7h1M276 7h1M31 8h2M39 8h2M46 8h1M49 8h1M55 8h1M71 8h1M98 8h1M105 8h1M109 8h1M136 8h2M139 8h1M147 8h1M150 8h1M154 8h1M166 8h1M169 8h2M175 8h1M178 8h1M186 8h1M195 8h1M198 8h2M209 8h1M225 8h1M227 8h1M249 8h2M252 8h1M254 8h1M266 8h1M276 8h1M15 9h1M21 9h1M32 9h1M34 9h1M42 9h1M71 9h1M87 9h1M95 9h1M105 9h1M107 9h1M109 9h1M125 9h1M134 9h1M148 9h1M150 9h1M152 9h1M155 9h1M161 9h1M172 9h2M175 9h1M185 9h1M198 9h1M208 9h1M211 9h1M213 9h1M219 9h1M224 9h1M226 9h1M230 9h1M254 9h1M258 9h1M264 9h1M273 9h1M7 10h1M11 10h1M15 10h2M42 10h1M55 10h1M71 10h1M82 10h1M95 10h1M102 10h1M107 10h1M146 10h1M156 10h1M188 10h1M191 10h1M203 10h2M219 10h1M223 10h1M227 10h1M248 10h1M250 10h2M259 10h1M264 10h1M266 10h1M22 11h1M118 11h1M133 11h1M136 11h1M140 11h1M152 11h1M155 11h1M159 11h2M169 11h1M185 11h1M187 11h1M193 11h1M198 11h1M200 11h2M208 11h1M223 11h1M226 11h1M228 11h1M248 11h2M263 11h1M23 12h1M36 12h1M114 12h2M123 12h1M126 12h2M132 12h1M141 12h1M157 12h1M164 12h1M167 12h1M169 12h1M172 12h1M190 12h1M198 12h1M212 12h1M219 12h1M221 12h1M223 12h2M228 12h1M254 12h1M263 12h1M28 13h1M49 13h1M73 13h1M82 13h1M95 13h1M102 13h1M117 13h1M119 13h2M142 13h1M159 13h1M166 13h1M170 13h1M176 13h2M204 13h1M211 13h1M219 13h1M222 13h1M225 13h1M264 13h1M14 14h1M23 14h1M28 14h1M36 14h1M122 14h1M125 14h1M128 14h2M141 14h1M159 14h1M161 14h1M169 14h1M185 14h1M191 14h1M208 14h4M214 14h1M219 14h1M228 14h1M14 15h1M23 15h1M28 15h1M36 15h1M39 15h1M46 15h1M102 15h1M109 15h1M148 15h1M152 15h1M157 15h1M167 15h1M171 15h1M185 15h1M190 15h1M211 15h1M213 15h1M217 15h1M221 15h1M223 15h2M226 15h2M276 15h1M22 16h2M39 16h1M102 16h1M128 16h1M131 16h1M137 16h1M153 16h1M173 16h1M175 16h2M185 16h1M189 16h1M192 16h2M195 16h1M199 16h1M205 16h1M209 16h2M214 16h2M223 16h1M15 17h2M21 17h3M28 17h1M31 17h1M33 17h1M44 17h1M46 17h1M55 17h1M71 17h1M73 17h1M81 17h1M107 17h3M119 17h2M126 17h1M135 17h2M170 17h1M203 17h1M222 17h1M224 17h1M230 17h1M277 17h1M2 18h1M5 18h1M9 18h1M15 18h1M24 18h1M45 18h1M55 18h1M64 18h1M66 18h1M90 18h1M92 18h1M109 18h1M176 18h1M202 18h1M235 18h1M5 19h1M7 19h1M17 19h1M23 19h1M27 19h1M30 19h1M32 19h1M34 19h2M37 19h1M48 19h1M52 19h2M59 19h1M62 19h2M71 19h2M95 19h1M106 19h1M108 19h2M117 19h1M131 19h1M181 19h1M208 19h1M224 19h1M232 19h1M241 19h1M245 19h1M252 19h1M259 19h1M265 19h1M4 20h1M14 20h2M18 20h1M49 20h1M53 20h1M55 20h1M62 20h1M85 20h1M95 20h1M103 20h1M108 20h1M112 20h1M125 20h1M132 20h1M134 20h1M166 20h1M170 20h2M176 20h1M182 20h1M188 20h1M194 20h1M237 20h1M248 20h1M271 20h1M1 21h1M11 21h1M18 21h1M21 21h1M27 21h1M37 21h1M50 21h2M57 21h1M77 21h1M80 21h2M83 21h1M97 21h1M102 21h1M106 21h1M119 21h1M123 21h1M153 21h1M219 21h1M224 21h1M275 21h1M1 22h1M4 22h1M6 22h1M23 22h1M25 22h2M29 22h1M36 22h1M50 22h1M58 22h1M64 22h1M69 22h2M78 22h1M82 22h1M87 22h1M98 22h1M109 22h1M113 22h2M123 22h2M144 22h1M191 22h1M205 22h1M231 22h1M235 22h1M241 22h1M243 22h1M249 22h1M257 22h1M269 22h1M272 22h2M0 23h1M11 23h1M15 23h1M17 23h2M24 23h1M26 23h1M38 23h1M46 23h1M53 23h1M62 23h1M64 23h1M68 23h1M82 23h1M89 23h1M91 23h1M94 23h1M106 23h1M108 23h2M121 23h1M182 23h1M0 24h1M4 24h3M9 24h1M14 24h2M17 24h1M27 24h1M29 24h2M48 24h1M52 24h1M57 24h1M71 24h1M74 24h1M81 24h1M87 24h1M92 24h1M97 24h1M226 24h1M245 24h1M257 24h1M1 25h1M6 25h1M16 25h1M19 25h1M30 25h2M33 25h2M36 25h1M39 25h1M41 25h1M43 25h2M46 25h1M49 25h1M60 25h2M75 25h1M87 25h2M92 25h1M100 25h1M106 25h2M121 25h1M141 25h1M182 25h1M195 25h2M228 25h1M231 25h1M235 25h1M240 25h2M246 25h2M263 25h1M272 25h1M23 26h1M28 26h1M33 26h1M35 26h1M42 26h1M49 26h1M52 26h2M64 26h1M68 26h1M71 26h1M73 26h1M78 26h1M83 26h1M95 26h1M103 26h1M107 26h1M109 26h1M189 26h1M233 26h1M243 26h2M9 27h1M19 27h1M23 27h1M30 27h1M33 27h1M37 27h1M43 27h2M49 27h1M52 27h1M54 27h1M57 27h1M59 27h1M62 27h1M69 27h1M78 27h1M82 27h3M87 27h1M90 27h2M97 27h1M99 27h1M108 27h1M147 27h1M229 27h1M235 27h1M237 27h1M241 27h1M265 27h1M16 28h1M27 28h1M35 28h1M42 28h2M48 28h1M50 28h2M53 28h1M74 28h1M81 28h1M85 28h1M87 28h1M89 28h2M93 28h4M99 28h2M102 28h1M106 28h1M108 28h2M188 28h1M201 28h1M217 28h1M228 28h1M240 28h1M258 28h2M263 28h1M265 28h1M268 28h1M275 28h1M277 28h1M1 29h1M3 29h1M6 29h1M9 29h1M12 29h1M15 29h1M17 29h1M20 29h1M23 29h3M31 29h1M34 29h1M39 29h1M47 29h1M55 29h2M61 29h1M63 29h1M65 29h2M73 29h1M86 29h1M89 29h1M100 29h1M105 29h1M107 29h2M239 29h1M242 29h1M264 29h1M4 30h2M17 30h2M20 30h1M25 30h1M28 30h1M31 30h1M34 30h1M36 30h2M41 30h1M46 30h1M48 30h1M50 30h1M53 30h2M61 30h3M65 30h1M78 30h2M92 30h2M96 30h1M98 30h1M188 30h1M192 30h1M211 30h1M225 30h2M235 30h1M245 30h1M253 30h1M256 30h2M3 31h2M6 31h1M15 31h2M18 31h1M20 31h2M24 31h2M31 31h1M41 31h1M43 31h1M57 31h1M64 31h2M72 31h2M75 31h3M82 31h2M85 31h1M88 31h2M93 31h1M98 31h2M110 31h1M129 31h1M187 31h1M223 31h2M231 31h1M235 31h1M245 31h1M250 31h1M260 31h1M264 31h1M272 31h1M7 32h1M17 32h2M26 32h2M32 32h1M43 32h1M49 32h1M66 32h2M70 32h1M74 32h1M77 32h1M80 32h1M89 32h1M93 32h1M98 32h2M105 32h1M109 32h1M130 32h1M133 32h1M194 32h1M244 32h1M253 32h1M256 32h1M258 32h1M260 32h1M264 32h1M273 32h2M9 33h1M18 33h1M35 33h1M37 33h1M40 33h5M46 33h1M50 33h1M55 33h1M59 33h1M65 33h2M71 33h1M74 33h1M83 33h1M85 33h1M87 33h1M93 33h1M100 33h2M103 33h1M107 33h2M114 33h2M155 33h1M204 33h1M214 33h1M244 33h1M2 34h2M19 34h1M23 34h1M25 34h1M29 34h1M31 34h3M36 34h1M40 34h1M43 34h1M48 34h1M50 34h1M56 34h1M66 34h1M68 34h1M92 34h1M98 34h1M102 34h2M126 34h1M139 34h1M146 34h1M164 34h1M178 34h1M185 34h1M187 34h1M189 34h3M203 34h1M208 34h1M225 34h2M230 34h1M236 34h1M245 34h1M258 34h1M265 34h1M269 34h1M5 35h1M12 35h1M16 35h1M23 35h1M27 35h2M33 35h1M36 35h1M41 35h2M46 35h1M49 35h1M51 35h2M54 35h2M59 35h1M61 35h1M64 35h1M66 35h1M74 35h2M82 35h1M92 35h2M96 35h1M109 35h1M115 35h1M129 35h1M139 35h1M148 35h1M154 35h1M160 35h2M168 35h1M177 35h2M205 35h1M209 35h1M211 35h2M235 35h1M256 35h1M262 35h1M264 35h1M271 35h1M273 35h1M5 36h1M10 36h1M12 36h1M14 36h1M18 36h2M22 36h2M29 36h1M36 36h1M39 36h1M46 36h2M52 36h3M57 36h1M68 36h1M72 36h2M77 36h2M82 36h1M99 36h1M102 36h2M127 36h1M143 36h1M146 36h2M153 36h1M158 36h1M168 36h1M176 36h2M189 36h1M191 36h1M193 36h1M203 36h1M208 36h1M218 36h1M220 36h1M225 36h1M231 36h1M242 36h1M247 36h1M254 36h1M261 36h3M269 36h1M1 37h2M4 37h1M14 37h1M20 37h1M22 37h2M30 37h1M34 37h1M43 37h1M45 37h2M59 37h1M69 37h1M73 37h1M78 37h1M82 37h2M103 37h1M109 37h1M154 37h1M162 37h1M164 37h1M168 37h1M187 37h2M214 37h1M224 37h1M228 37h1M235 37h1M260 37h1M264 37h1M0 38h1M2 38h1M6 38h1M10 38h4M17 38h1M19 38h1M24 38h1M27 38h1M34 38h1M36 38h1M47 38h1M49 38h2M53 38h1M64 38h1M68 38h1M73 38h1M75 38h1M77 38h1M82 38h2M85 38h1M88 38h1M92 38h2M96 38h1M105 38h1M130 38h1M147 38h2M151 38h2M155 38h1M162 38h1M173 38h1M177 38h1M186 38h2M192 38h1M202 38h1M213 38h1M223 38h2M228 38h1M231 38h1M234 38h1M237 38h1M242 38h2M245 38h1M249 38h1M254 38h2M259 38h1M4 39h1M10 39h1M12 39h1M14 39h1M19 39h2M30 39h1M32 39h1M43 39h1M48 39h1M53 39h1M65 39h1M71 39h1M82 39h1M84 39h1M92 39h1M99 39h1M109 39h2M130 39h1M173 39h1M183 39h1M192 39h1M196 39h1M203 39h1M206 39h1M208 39h1M213 39h1M223 39h1M228 39h1M234 39h2M244 39h1M250 39h1M257 39h2M260 39h1M264 39h1M3 40h1M7 40h1M11 40h1M23 40h1M26 40h1M31 40h3M36 40h1M42 40h2M45 40h1M49 40h1M51 40h1M56 40h1M62 40h1M66 40h1M70 40h1M93 40h1M95 40h2M98 40h2M102 40h2M107 40h1M130 40h1M148 40h1M152 40h1M155 40h1M164 40h1M172 40h2M175 40h1M194 40h1M210 40h1M225 40h1M233 40h1M243 40h1M257 40h2M260 40h1M264 40h1M274 40h1M14 41h1M16 41h3M27 41h1M29 41h1M31 41h1M43 41h1M47 41h2M56 41h1M62 41h1M64 41h1M66 41h1M68 41h1M72 41h1M78 41h1M82 41h2M88 41h1M91 41h1M99 41h2M107 41h1M150 41h1M163 41h1M166 41h1M197 41h1M199 41h1M207 41h1M211 41h1M214 41h1M219 41h1M225 41h1M239 41h1M254 41h1M261 41h1M8 42h1M12 42h1M14 42h1M19 42h1M23 42h1M45 42h1M57 42h1M61 42h1M71 42h1M81 42h1M89 42h1M96 42h1M102 42h1M150 42h1M156 42h1M165 42h1M180 42h1M188 42h1M200 42h1M204 42h1M212 42h1M214 42h1M216 42h2M219 42h1M222 42h1M224 42h3M239 42h1M249 42h3M254 42h1M265 42h1M272 42h1M275 42h1M6 43h1M12 43h1M14 43h1M16 43h1M18 43h4M24 43h1M33 43h2M41 43h1M80 43h2M85 43h1M91 43h1M99 43h2M109 43h1M124 43h1M131 43h1M137 43h1M178 43h1M194 43h1M228 43h1M249 43h2M257 43h1M262 43h1M16 44h1M21 44h1M23 44h1M28 44h2M38 44h1M41 44h1M51 44h1M65 44h2M69 44h1M80 44h1M97 44h1M100 44h1M132 44h1M168 44h1M172 44h1M184 44h1M188 44h1M192 44h1M194 44h1M199 44h1M205 44h1M209 44h1M216 44h1M226 44h1M235 44h1M242 44h1M248 44h1M261 44h1M271 44h1M277 44h1M21 45h1M31 45h1M45 45h1M69 45h2M86 45h1M92 45h1M97 45h1M106 45h1M150 45h1M163 45h1M168 45h2M178 45h1M188 45h1M201 45h2M205 45h2M208 45h1M219 45h1M228 45h1M242 45h1M259 45h1M275 45h1M2 46h1M4 46h1M21 46h2M27 46h1M29 46h1M41 46h2M44 46h1M48 46h2M51 46h1M65 46h1M73 46h2M78 46h1M82 46h1M91 46h1M96 46h1M102 46h1M146 46h1M149 46h1M164 46h1M168 46h1M186 46h1M202 46h1M204 46h1M206 46h1M208 46h1M224 46h2M235 46h1M241 46h1M250 46h1M258 46h2M271 46h3M11 47h1M22 47h2M33 47h1M49 47h1M54 47h1M59 47h1M68 47h1M86 47h1M148 47h1M152 47h1M160 47h1M172 47h1M174 47h2M188 47h1M207 47h1M220 47h1M231 47h1M243 47h1M248 47h4M272 47h1M2 48h1M4 48h1M12 48h1M24 48h1M29 48h1M32 48h1M37 48h2M42 48h1M56 48h1M59 48h1M62 48h1M64 48h2M69 48h1M74 48h1M76 48h1M82 48h1M85 48h1M91 48h1M96 48h1M108 48h1M146 48h1M149 48h1M155 48h1M161 48h2M166 48h1M191 48h1M205 48h1M210 48h1M226 48h1M228 48h1M239 48h1M241 48h2M266 48h1M268 48h1M271 48h1M2 49h1M4 49h1M23 49h1M27 49h1M44 49h1M49 49h1M53 49h1M74 49h1M82 49h1M99 49h1M106 49h1M108 49h1M110 49h1M134 49h1M147 49h1M173 49h1M176 49h2M185 49h1M190 49h2M195 49h1M200 49h2M204 49h1M211 49h1M222 49h1M235 49h1M243 49h1M271 49h1M274 49h2M12 50h1M20 50h2M24 50h1M45 50h1M54 50h1M59 50h1M72 50h1M74 50h1M76 50h2M101 50h1M168 50h1M181 50h1M188 50h1M196 50h1M202 50h1M205 50h1M211 50h1M217 50h1M224 50h1M226 50h1M231 50h1M235 50h1M257 50h1"/>
<path stroke="#efe6f0" d="M6 0h1M8 0h1M16 0h1M21 0h1M31 0h1M34 0h1M55 0h1M65 0h1M71 0h1M76 0h1M78 0h1M81 0h1M87 0h1M99 0h1M105 0h3M168 0h2M191 0h1M193 0h1M195 0h1M201 0h1M206 0h2M219 0h1M224 0h1M227 0h1M249 0h1M251 0h1M259 0h1M264 0h1M15 1h1M32 1h1M40 1h1M107 1h1M109 1h1M140 1h1M158 1h1M164 1h1M166 1h1M171 1h1M174 1h1M176 1h1M186 1h1M188 1h2M198 1h1M205 1h2M210 1h1M217 1h1M225 1h1M273 1h1M14 2h2M22 2h1M39 2h2M42 2h1M55 2h1M95 2h1M106 2h1M109 2h1M118 2h1M121 2h1M127 2h1M129 2h1M138 2h1M141 2h1M145 2h2M159 2h1M165 2h2M186 2h1M188 2h1M202 2h1M206 2h3M211 2h1M217 2h1M223 2h1M8 3h1M16 3h1M21 3h1M31 3h1M34 3h1M40 3h1M42 3h1M64 3h1M73 3h1M76 3h1M79 3h1M87 3h1M107 3h1M111 3h1M120 3h1M128 3h1M131 3h1M133 3h1M143 3h1M146 3h1M151 3h1M153 3h1M155 3h1M161 3h3M171 3h1M186 3h1M193 3h1M209 3h1M211 3h2M220 3h2M224 3h2M228 3h1M258 3h1M14 4h3M22 4h1M32 4h1M34 4h1M39 4h1M42 4h1M49 4h1M65 4h1M87 4h1M102 4h1M109 4h1M125 4h1M133 4h1M156 4h1M164 4h1M169 4h1M172 4h1M176 4h1M196 4h2M201 4h1M204 4h1M212 4h1M221 4h1M248 4h1M250 4h1M253 4h2M273 4h1M276 4h1M16 5h1M31 5h1M34 5h1M40 5h1M42 5h1M64 5h2M71 5h1M82 5h1M114 5h1M118 5h1M126 5h2M129 5h1M157 5h1M163 5h1M173 5h1M192 5h1M196 5h1M200 5h1M202 5h1M212 5h1M221 5h2M224 5h1M230 5h1M254 5h1M266 5h1M11 6h1M15 6h1M28 6h1M39 6h1M55 6h1M73 6h1M95 6h1M102 6h1M106 6h1M113 6h1M131 6h1M135 6h1M146 6h1M150 6h1M152 6h1M155 6h1M163 6h1M168 6h1M170 6h2M178 6h1M189 6h1M206 6h1M219 6h1M222 6h2M226 6h1M266 6h1M273 6h1M7 7h1M16 7h1M26 7h1M31 7h2M34 7h1M44 7h1M53 7h1M55 7h1M68 7h1M71 7h1M73 7h1M76 7h1M81 7h1M88 7h1M95 7h1M102 7h1M105 7h2M127 7h1M141 7h1M145 7h2M148 7h1M156 7h1M158 7h1M165 7h1M167 7h1M193 7h1M195 7h1M198 7h3M206 7h1M211 7h2M226 7h1M228 7h1M250 7h1M253 7h1M259 7h1M264 7h1M266 7h1M273 7h1M4 8h1M16 8h1M26 8h1M44 8h1M53 8h1M65 8h1M68 8h1M73 8h1M76 8h1M82 8h1M92 8h1M95 8h1M107 8h1M128 8h1M134 8h1M146 8h1M171 8h4M185 8h1M208 8h1M213 8h2M251 8h1M258 8h1M279 8h1M4 9h1M7 9h1M16 9h1M40 9h1M44 9h1M49 9h1M65 9h1M73 9h1M78 9h1M88 9h1M102 9h1M137 9h1M139 9h1M158 9h1M162 9h1M191 9h1M202 9h1M205 9h3M209 9h1M214 9h1M217 9h1M220 9h1M266 9h1M271 9h1M4 10h1M25 10h1M53 10h1M65 10h1M73 10h2M78 10h1M87 10h1M99 10h1M104 10h1M106 10h1M112 10h1M123 10h1M128 10h1M143 10h1M171 10h1M193 10h1M198 10h1M200 10h1M206 10h1M215 10h1M252 10h1M254 10h1M261 10h1M271 10h1M273 10h1M279 10h1M15 11h1M21 11h1M34 11h1M39 11h1M42 11h1M46 11h1M49 11h1M73 11h1M102 11h1M106 11h2M113 11h1M119 11h1M139 11h1M146 11h1M168 11h1M170 11h2M186 11h1M189 11h1M204 11h1M211 11h1M215 11h1M217 11h1M222 11h1M224 11h2M273 11h1M276 11h2M279 11h1M14 12h1M22 12h1M46 12h1M102 12h1M116 12h2M120 12h1M133 12h1M140 12h1M154 12h1M158 12h1M162 12h1M173 12h1M187 12h2M191 12h1M202 12h2M217 12h1M251 12h1M17 13h1M21 13h1M31 13h1M42 13h1M55 13h1M71 13h1M76 13h1M79 13h1M92 13h1M106 13h2M111 13h1M116 13h1M125 13h1M133 13h1M141 13h1M169 13h1M187 13h1M192 13h2M195 13h1M198 13h2M201 13h1M205 13h1M213 13h1M226 13h1M273 13h1M15 14h1M22 14h1M32 14h1M39 14h1M65 14h1M76 14h1M102 14h1M107 14h1M113 14h1M120 14h1M123 14h1M131 14h1M136 14h1M146 14h1M152 14h1M156 14h1M158 14h1M160 14h1M167 14h1M178 14h1M189 14h2M195 14h2M199 14h1M202 14h1M212 14h1M224 14h1M15 15h1M22 15h1M32 15h1M42 15h1M53 15h1M55 15h1M65 15h1M71 15h1M82 15h1M111 15h1M117 15h1M139 15h1M154 15h1M161 15h1M168 15h1M173 15h1M176 15h1M178 15h1M192 15h1M195 15h1M197 15h1M201 15h1M207 15h1M214 15h2M230 15h1M258 15h1M266 15h1M278 15h2M7 16h1M16 16h1M31 16h1M42 16h1M44 16h1M49 16h1M55 16h1M65 16h1M76 16h1M79 16h1M82 16h1M109 16h1M125 16h1M143 16h1M148 16h2M151 16h2M155 16h1M160 16h2M167 16h2M204 16h1M207 16h1M213 16h1M217 16h1M224 16h1M248 16h1M277 16h1M0 17h1M6 17h1M12 17h1M24 17h3M40 17h2M65 17h1M68 17h1M72 17h1M79 17h1M84 17h1M88 17h1M91 17h1M99 17h1M102 17h1M105 17h1M112 17h1M116 17h1M134 17h1M150 17h1M152 17h1M161 17h1M164 17h1M168 17h1M174 17h2M186 17h1M190 17h1M198 17h1M208 17h1M215 17h1M217 17h1M220 17h1M249 17h1M12 18h1M21 18h1M23 18h1M31 18h1M38 18h1M42 18h1M48 18h1M54 18h1M57 18h1M59 18h1M74 18h1M80 18h2M85 18h3M91 18h1M95 18h1M97 18h1M104 18h1M106 18h1M116 18h1M127 18h2M136 18h1M153 18h1M174 18h1M188 18h2M205 18h1M211 18h1M214 18h1M224 18h1M226 18h1M242 18h1M245 18h1M252 18h1M255 18h1M257 18h1M263 18h1M275 18h1M3 19h1M6 19h1M9 19h1M13 19h1M15 19h2M18 19h1M21 19h1M25 19h2M29 19h1M40 19h1M55 19h1M57 19h2M68 19h1M81 19h1M83 19h1M101 19h1M104 19h1M110 19h1M112 19h1M116 19h1M145 19h1M158 19h1M163 19h1M173 19h1M187 19h1M189 19h1M193 19h1M196 19h1M202 19h1M212 19h1M218 19h1M226 19h1M231 19h1M233 19h1M235 19h1M237 19h1M246 19h1M248 19h2M253 19h2M256 19h1M258 19h1M267 19h4M273 19h3M0 20h2M5 20h1M8 20h1M19 20h1M27 20h2M34 20h3M48 20h1M50 20h1M64 20h1M84 20h1M99 20h1M102 20h1M106 20h2M110 20h1M116 20h1M129 20h1M142 20h1M155 20h1M208 20h1M221 20h1M225 20h2M232 20h1M242 20h2M245 20h1M265 20h1M270 20h1M279 20h1M4 21h1M6 21h1M8 21h1M12 21h1M19 21h1M25 21h1M29 21h1M33 21h1M35 21h1M40 21h1M43 21h1M52 21h1M60 21h2M64 21h1M69 21h1M88 21h1M90 21h1M96 21h1M99 21h1M107 21h1M110 21h1M113 21h1M127 21h1M133 21h1M145 21h1M147 21h1M169 21h1M172 21h1M175 21h1M181 21h1M183 21h1M186 21h1M188 21h1M207 21h1M211 21h1M238 21h1M245 21h1M259 21h1M262 21h1M272 21h1M274 21h1M2 22h2M5 22h1M8 22h1M14 22h1M16 22h1M28 22h1M32 22h4M37 22h1M42 22h1M93 22h1M107 22h1M125 22h1M127 22h1M135 22h1M137 22h1M166 22h1M186 22h1M217 22h1M221 22h1M226 22h1M228 22h1M230 22h1M237 22h1M242 22h1M245 22h1M250 22h1M254 22h1M268 22h1M274 22h1M1 23h1M5 23h1M13 23h1M16 23h1M21 23h1M25 23h1M29 23h2M33 23h2M37 23h1M39 23h1M43 23h1M50 23h1M54 23h1M57 23h1M60 23h1M63 23h1M78 23h1M84 23h1M88 23h1M97 23h1M103 23h1M107 23h1M110 23h1M123 23h1M129 23h1M195 23h1M211 23h1M214 23h1M229 23h1M237 23h1M242 23h4M250 23h1M259 23h1M268 23h1M271 23h1M273 23h1M3 24h1M7 24h1M24 24h1M28 24h1M31 24h2M46 24h1M53 24h1M59 24h1M61 24h1M63 24h1M78 24h1M89 24h2M95 24h1M103 24h1M108 24h1M113 24h1M124 24h2M182 24h1M188 24h1M191 24h1M223 24h1M228 24h1M237 24h1M244 24h1M265 24h1M8 25h1M12 25h2M20 25h1M26 25h1M29 25h1M58 25h1M63 25h2M67 25h1M69 25h2M79 25h1M82 25h1M96 25h1M98 25h1M101 25h2M111 25h1M131 25h1M147 25h1M174 25h1M220 25h2M238 25h1M255 25h1M261 25h1M264 25h1M268 25h2M271 25h1M275 25h1M4 26h2M13 26h1M15 26h1M19 26h1M25 26h1M31 26h1M36 26h1M46 26h1M51 26h1M57 26h1M59 26h1M63 26h1M72 26h1M77 26h1M82 26h1M87 26h1M100 26h1M102 26h1M118 26h1M188 26h1M190 26h1M211 26h1M220 26h1M224 26h1M235 26h1M237 26h1M240 26h3M245 26h1M247 26h1M252 26h1M258 26h1M269 26h1M2 27h1M8 27h1M11 27h1M13 27h1M21 27h1M24 27h1M27 27h3M41 27h1M68 27h1M71 27h1M79 27h1M93 27h1M100 27h1M107 27h1M112 27h1M188 27h1M211 27h1M231 27h2M234 27h1M242 27h1M246 27h3M250 27h1M253 27h2M268 27h1M272 27h1M1 28h1M6 28h1M12 28h1M25 28h1M37 28h1M40 28h1M44 28h1M56 28h1M61 28h1M67 28h1M77 28h1M79 28h1M83 28h1M88 28h1M91 28h1M101 28h1M103 28h1M107 28h1M147 28h1M186 28h2M189 28h2M196 28h1M202 28h1M214 28h1M219 28h1M231 28h1M237 28h2M251 28h1M254 28h1M256 28h1M264 28h1M272 28h1M274 28h1M7 29h1M11 29h1M19 29h1M21 29h1M27 29h1M32 29h1M40 29h1M48 29h4M54 29h1M57 29h1M67 29h1M69 29h2M75 29h1M77 29h1M79 29h1M82 29h2M85 29h1M90 29h1M101 29h3M130 29h1M183 29h1M204 29h1M232 29h4M237 29h1M245 29h1M257 29h1M259 29h2M265 29h1M10 30h2M22 30h1M29 30h1M38 30h1M40 30h1M47 30h1M51 30h1M56 30h1M66 30h1M68 30h3M75 30h1M82 30h1M84 30h1M95 30h1M99 30h3M105 30h1M108 30h1M116 30h1M119 30h1M177 30h1M184 30h1M203 30h1M212 30h2M223 30h2M236 30h2M240 30h1M243 30h2M247 30h1M258 30h1M264 30h1M275 30h1M277 30h1M2 31h1M23 31h1M27 31h1M29 31h1M33 31h2M36 31h1M39 31h2M42 31h1M46 31h1M48 31h1M50 31h1M52 31h1M58 31h1M63 31h1M66 31h2M79 31h1M94 31h1M96 31h2M103 31h1M131 31h1M185 31h2M200 31h1M214 31h1M218 31h1M221 31h1M232 31h1M234 31h1M236 31h2M243 31h1M247 31h1M268 31h2M271 31h1M278 31h1M1 32h1M11 32h1M20 32h1M24 32h1M29 32h1M33 32h3M37 32h1M40 32h1M48 32h1M52 32h2M55 32h1M61 32h1M64 32h2M69 32h1M72 32h1M75 32h1M79 32h1M82 32h1M84 32h1M86 32h1M90 32h1M97 32h1M103 32h2M108 32h1M120 32h1M140 32h1M218 32h1M228 32h1M232 32h2M235 32h1M237 32h1M257 32h1M272 32h1M1 33h1M3 33h1M10 33h1M13 33h1M19 33h1M22 33h2M27 33h1M29 33h6M36 33h1M52 33h1M56 33h1M61 33h1M67 33h1M69 33h1M79 33h1M82 33h1M89 33h1M94 33h1M102 33h1M119 33h1M122 33h1M129 33h1M131 33h1M145 33h1M148 33h1M160 33h1M166 33h1M177 33h1M186 33h1M196 33h1M207 33h1M211 33h1M216 33h1M218 33h1M226 33h1M236 33h1M242 33h1M245 33h2M272 33h2M4 34h1M11 34h1M14 34h1M17 34h1M20 34h1M22 34h1M24 34h1M28 34h1M30 34h1M51 34h1M57 34h1M65 34h1M70 34h1M83 34h1M93 34h1M101 34h1M118 34h1M124 34h1M136 34h1M155 34h1M195 34h2M202 34h1M207 34h1M213 34h1M215 34h1M218 34h1M228 34h1M232 34h1M237 34h1M239 34h2M249 34h1M253 34h1M267 34h1M271 34h1M2 35h3M8 35h1M10 35h1M21 35h1M25 35h1M37 35h1M50 35h1M67 35h1M72 35h1M77 35h1M89 35h1M102 35h1M104 35h1M110 35h1M114 35h1M125 35h1M143 35h1M146 35h2M149 35h1M159 35h1M163 35h1M169 35h1M179 35h1M182 35h3M186 35h1M191 35h1M195 35h1M198 35h2M203 35h1M206 35h1M219 35h1M224 35h2M237 35h1M242 35h1M3 36h1M16 36h1M25 36h1M37 36h1M43 36h1M50 36h1M55 36h1M58 36h1M61 36h1M64 36h1M81 36h1M84 36h1M89 36h1M97 36h1M107 36h1M110 36h1M129 36h1M136 36h1M140 36h1M164 36h1M167 36h1M170 36h1M179 36h2M183 36h1M188 36h1M194 36h1M200 36h1M207 36h1M211 36h1M213 36h1M234 36h1M243 36h1M250 36h1M256 36h1M259 36h2M265 36h1M268 36h1M270 36h3M5 37h2M10 37h1M25 37h1M27 37h1M29 37h1M31 37h1M33 37h1M36 37h1M40 37h2M44 37h1M48 37h1M50 37h1M53 37h1M57 37h1M62 37h1M65 37h1M68 37h1M85 37h1M89 37h2M95 37h2M104 37h2M107 37h1M126 37h1M192 37h1M194 37h1M200 37h1M206 37h1M218 37h1M222 37h2M234 37h1M236 37h1M244 37h2M258 37h2M269 37h2M275 37h1M20 38h1M26 38h1M29 38h1M38 38h3M57 38h1M59 38h2M62 38h1M71 38h2M79 38h1M89 38h1M97 38h1M102 38h2M108 38h1M111 38h1M149 38h2M160 38h2M181 38h2M189 38h2M196 38h1M203 38h1M209 38h2M216 38h2M221 38h1M225 38h1M230 38h1M238 38h1M246 38h1M257 38h1M271 38h2M275 38h1M6 39h1M8 39h1M21 39h1M36 39h1M38 39h1M45 39h1M49 39h1M52 39h1M55 39h1M58 39h1M62 39h1M66 39h1M70 39h1M73 39h1M75 39h1M77 39h1M81 39h1M89 39h2M93 39h2M97 39h1M101 39h2M107 39h2M149 39h2M153 39h1M161 39h2M182 39h1M193 39h1M209 39h1M211 39h1M221 39h1M229 39h1M245 39h1M254 39h1M269 39h1M2 40h1M17 40h1M19 40h1M21 40h1M46 40h2M50 40h1M52 40h2M58 40h1M61 40h1M63 40h1M65 40h1M68 40h1M78 40h2M84 40h1M88 40h3M97 40h1M109 40h2M146 40h1M154 40h1M158 40h2M163 40h1M169 40h2M174 40h1M188 40h1M191 40h1M200 40h1M202 40h2M206 40h4M211 40h1M213 40h1M216 40h2M226 40h1M228 40h1M230 40h2M237 40h1M240 40h1M246 40h2M255 40h1M261 40h1M263 40h1M266 40h1M270 40h1M273 40h1M279 40h1M0 41h2M5 41h1M21 41h1M24 41h3M28 41h1M30 41h1M34 41h1M36 41h2M52 41h1M55 41h1M67 41h1M84 41h2M90 41h1M93 41h1M95 41h1M102 41h1M152 41h1M168 41h1M177 41h2M184 41h1M186 41h1M192 41h1M196 41h1M200 41h2M204 41h1M216 41h1M220 41h1M231 41h2M234 41h1M236 41h1M238 41h1M242 41h1M246 41h1M249 41h1M271 41h2M275 41h1M0 42h1M2 42h2M7 42h1M22 42h1M27 42h2M30 42h1M34 42h1M36 42h2M55 42h2M79 42h1M98 42h1M104 42h2M122 42h1M147 42h1M152 42h1M164 42h1M166 42h1M169 42h1M172 42h1M176 42h1M178 42h1M182 42h2M187 42h1M190 42h1M192 42h1M194 42h1M197 42h1M206 42h1M215 42h1M218 42h1M232 42h1M234 42h1M236 42h1M240 42h2M244 42h1M248 42h1M253 42h1M259 42h1M264 42h1M271 42h1M273 42h2M1 43h3M11 43h1M17 43h1M25 43h1M28 43h1M30 43h1M43 43h1M52 43h3M65 43h2M68 43h1M71 43h1M75 43h1M78 43h1M87 43h3M96 43h1M122 43h1M127 43h1M143 43h1M159 43h1M162 43h1M187 43h1M189 43h1M199 43h1M204 43h1M207 43h1M210 43h1M215 43h2M219 43h1M222 43h1M225 43h2M234 43h1M241 43h1M244 43h1M248 43h1M252 43h2M271 43h1M4 44h1M11 44h1M31 44h2M45 44h1M49 44h1M57 44h1M68 44h1M87 44h1M96 44h1M101 44h1M106 44h2M134 44h1M145 44h1M153 44h3M160 44h1M166 44h1M179 44h2M186 44h2M190 44h2M195 44h1M197 44h1M201 44h2M206 44h2M211 44h1M220 44h1M223 44h1M225 44h1M228 44h2M234 44h1M243 44h1M249 44h2M259 44h1M266 44h2M272 44h1M275 44h1M2 45h1M24 45h1M33 45h1M41 45h1M44 45h1M57 45h1M64 45h1M66 45h1M68 45h1M72 45h1M76 45h1M78 45h1M82 45h1M95 45h1M101 45h1M109 45h2M155 45h1M165 45h2M173 45h1M177 45h1M181 45h1M187 45h1M199 45h2M203 45h1M211 45h1M213 45h1M221 45h1M226 45h1M230 45h2M236 45h1M240 45h1M271 45h1M1 46h1M7 46h1M9 46h1M12 46h1M17 46h2M24 46h1M33 46h1M35 46h1M47 46h1M52 46h1M54 46h1M56 46h1M59 46h1M62 46h1M71 46h2M76 46h1M80 46h1M99 46h1M107 46h1M110 46h1M145 46h1M148 46h1M156 46h1M163 46h1M165 46h1M173 46h1M175 46h1M178 46h1M181 46h1M183 46h2M190 46h1M193 46h1M215 46h1M217 46h1M223 46h1M231 46h1M233 46h1M240 46h1M274 46h1M4 47h1M6 47h1M12 47h1M24 47h1M28 47h1M47 47h1M57 47h1M65 47h2M70 47h1M73 47h2M76 47h1M87 47h1M97 47h1M99 47h1M106 47h1M108 47h3M149 47h1M153 47h2M161 47h1M166 47h1M168 47h2M178 47h1M182 47h1M185 47h1M192 47h1M203 47h1M221 47h1M223 47h1M226 47h1M233 47h3M238 47h1M244 47h1M252 47h1M269 47h1M271 47h1M1 48h1M13 48h1M15 48h2M19 48h1M22 48h1M25 48h1M34 48h1M36 48h1M41 48h1M50 48h1M53 48h1M61 48h1M66 48h1M71 48h1M78 48h2M86 48h1M89 48h1M95 48h1M99 48h2M104 48h1M151 48h1M177 48h1M184 48h1M198 48h1M200 48h1M204 48h1M206 48h2M211 48h1M213 48h1M216 48h1M232 48h1M236 48h1M247 48h1M250 48h2M253 48h2M259 48h1M264 48h2M5 49h2M11 49h1M15 49h3M29 49h1M32 49h1M34 49h2M40 49h1M43 49h1M45 49h1M48 49h1M59 49h1M61 49h1M66 49h2M72 49h1M78 49h1M80 49h1M87 49h1M100 49h1M107 49h1M119 49h1M133 49h1M140 49h1M143 49h1M148 49h1M154 49h3M162 49h1M164 49h1M175 49h1M178 49h1M184 49h1M186 49h1M192 49h2M202 49h1M209 49h1M226 49h1M230 49h5M236 49h1M239 49h1M255 49h1M259 49h1M265 49h1M270 49h1M272 49h2M2 50h1M5 50h1M18 50h1M28 50h1M32 50h1M35 50h1M41 50h2M44 50h1M48 50h1M57 50h1M60 50h2M66 50h1M73 50h1M75 50h1M78 50h1M90 50h1M99 50h1M104 50h1M110 50h1M118 50h1M123 50h1M140 50h1M144 50h1M146 50h1M150 50h1M175 50h1M182 50h1M190 50h2M209 50h1M213 50h1M216 50h1M222 50h2M228 50h2M238 50h1M244 50h1M246 50h1M258 50h2M267 50h3M273 50h1M275 50h1"/>
<path stroke="#f7f7f7" d="M7 0h1M9 0h1M25 0h2M38 0h1M40 0h1M44 0h1M48 0h1M56 0h1M64 0h1M68 0h1M74 0h1M77 0h1M79 0h1M88 0h1M98 0h1M103 0h2M110 0h1M125 0h1M131 0h1M151 0h1M156 0h2M173 0h1M196 0h1M202 0h1M216 0h1M230 0h1M253 0h2M256 0h1M260 0h2M271 0h2M21 1h1M31 1h1M34 1h1M44 1h1M71 1h1M82 1h1M88 1h1M95 1h1M98 1h2M106 1h1M125 1h1M131 1h1M138 1h2M155 1h1M160 1h1M162 1h2M187 1h1M191 1h3M195 1h1M199 1h1M201 1h2M211 1h1M215 1h1M224 1h1M226 1h1M258 1h2M266 1h1M271 1h1M34 2h1M44 2h1M53 2h1M61 2h1M65 2h1M71 2h1M79 2h1M87 2h2M98 2h1M105 2h1M155 2h1M168 2h2M174 2h1M185 2h1M189 2h3M198 2h3M204 2h1M209 2h1M212 2h1M215 2h1M218 2h1M227 2h1M258 2h1M264 2h1M266 2h1M273 2h1M9 3h1M11 3h1M26 3h1M32 3h1M44 3h1M53 3h1M56 3h1M63 3h1M65 3h1M70 3h1M77 3h2M81 3h1M84 3h1M92 3h1M98 3h2M104 3h3M113 3h1M136 3h1M139 3h1M170 3h1M176 3h1M189 3h1M195 3h1M201 3h1M204 3h2M234 3h1M259 3h2M264 3h1M266 3h1M273 3h1M7 4h1M31 4h1M55 4h1M64 4h1M73 4h1M76 4h1M79 4h1M82 4h1M107 4h1M120 4h1M134 4h1M139 4h1M143 4h1M159 4h1M185 4h3M200 4h1M203 4h1M206 4h1M217 4h1M219 4h1M258 4h1M0 5h1M4 5h1M6 5h4M11 5h1M25 5h2M38 5h1M44 5h2M48 5h1M52 5h1M70 5h1M73 5h1M76 5h1M87 5h1M95 5h1M99 5h1M104 5h1M119 5h1M137 5h1M146 5h1M195 5h1M206 5h1M211 5h1M250 5h1M271 5h1M273 5h1M279 5h1M16 6h1M21 6h1M31 6h1M34 6h1M49 6h1M53 6h1M65 6h1M71 6h1M87 6h1M109 6h1M117 6h1M123 6h1M128 6h1M136 6h2M154 6h1M164 6h1M174 6h1M177 6h1M188 6h1M192 6h1M195 6h1M211 6h1M214 6h1M228 6h1M230 6h1M259 6h1M276 6h1M4 7h1M11 7h1M17 7h1M21 7h1M38 7h1M40 7h1M42 7h1M74 7h1M79 7h1M92 7h1M97 7h1M99 7h1M104 7h1M107 7h1M120 7h1M128 7h2M139 7h1M178 7h1M189 7h1M191 7h1M216 7h2M254 7h1M261 7h1M278 7h1M7 8h1M9 8h1M11 8h2M34 8h1M74 8h1M78 8h2M81 8h1M87 8h1M97 8h1M99 8h1M104 8h1M106 8h1M141 8h1M143 8h1M148 8h2M155 8h1M162 8h1M167 8h1M189 8h1M197 8h1M201 8h1M204 8h1M207 8h1M210 8h3M228 8h1M230 8h1M253 8h1M264 8h1M8 9h1M11 9h1M17 9h1M24 9h3M31 9h1M38 9h1M52 9h2M64 9h1M74 9h1M76 9h1M79 9h2M82 9h1M92 9h1M98 9h2M104 9h1M106 9h1M110 9h1M143 9h1M149 9h1M156 9h1M167 9h1M171 9h1M192 9h2M201 9h1M248 9h1M250 9h2M272 9h1M279 9h1M2 10h1M9 10h1M17 10h1M26 10h1M31 10h1M34 10h1M40 10h2M48 10h1M56 10h1M59 10h1M61 10h1M64 10h1M68 10h1M76 10h2M79 10h1M81 10h1M84 10h1M92 10h1M98 10h1M103 10h1M105 10h1M110 10h1M149 10h1M189 10h1M192 10h1M205 10h1M207 10h1M210 10h1M230 10h1M253 10h1M260 10h1M11 11h1M16 11h1M31 11h1M53 11h1M55 11h2M74 11h1M76 11h1M82 11h1M87 11h1M95 11h1M98 11h1M104 11h2M109 11h1M137 11h1M167 11h1M206 11h2M213 11h1M251 11h1M258 11h1M15 12h1M21 12h1M32 12h1M39 12h1M42 12h1M49 12h1M55 12h1M76 12h1M106 12h1M109 12h1M113 12h1M125 12h1M152 12h1M155 12h1M176 12h1M178 12h1M186 12h1M194 12h1M206 12h2M209 12h2M214 12h2M258 12h1M276 12h1M4 13h1M9 13h1M11 13h2M25 13h2M34 13h1M38 13h1M44 13h1M48 13h1M52 13h2M56 13h1M65 13h1M74 13h1M78 13h1M81 13h1M87 13h1M91 13h1M98 13h1M104 13h2M113 13h2M129 13h1M137 13h1M143 13h1M149 13h1M151 13h1M155 13h1M162 13h1M174 13h1M189 13h1M197 13h1M203 13h1M206 13h2M212 13h1M216 13h1M227 13h2M258 13h1M261 13h1M266 13h1M9 14h1M34 14h1M44 14h1M49 14h1M53 14h1M71 14h1M82 14h1M87 14h1M98 14h1M104 14h1M106 14h1M109 14h1M134 14h1M137 14h1M145 14h1M149 14h1M162 14h1M164 14h1M171 14h1M173 14h1M188 14h1M192 14h1M197 14h2M201 14h1M206 14h1M222 14h1M227 14h1M258 14h1M266 14h1M276 14h1M4 15h1M7 15h1M16 15h1M26 15h1M34 15h1M49 15h1M76 15h1M79 15h1M99 15h1M104 15h1M106 15h1M125 15h1M136 15h2M146 15h1M150 15h1M163 15h2M170 15h1M191 15h1M196 15h1M198 15h3M205 15h2M259 15h1M264 15h1M273 15h1M4 16h1M8 16h1M11 16h1M15 16h1M25 16h1M34 16h1M41 16h1M71 16h1M74 16h1M88 16h1M98 16h2M105 16h3M111 16h2M134 16h1M156 16h1M159 16h1M171 16h1M190 16h2M196 16h1M198 16h1M212 16h1M216 16h1M219 16h1M222 16h1M249 16h1M251 16h4M258 16h1M261 16h1M266 16h1M273 16h1M279 16h1M2 17h2M8 17h2M29 17h1M32 17h1M45 17h1M47 17h2M62 17h1M64 17h1M74 17h1M76 17h1M80 17h1M82 17h1M85 17h2M92 17h1M95 17h1M97 17h1M100 17h1M106 17h1M110 17h1M143 17h1M146 17h1M148 17h1M159 17h1M163 17h1M165 17h2M192 17h1M201 17h2M207 17h1M211 17h3M219 17h1M226 17h1M248 17h1M258 17h2M264 17h1M1 18h1M3 18h1M7 18h2M13 18h1M25 18h1M28 18h1M44 18h1M49 18h1M53 18h1M62 18h1M71 18h2M78 18h1M83 18h1M96 18h1M102 18h2M129 18h1M137 18h1M147 18h1M149 18h1M152 18h1M163 18h1M166 18h1M170 18h2M194 18h1M206 18h1M208 18h1M228 18h1M243 18h1M264 18h1M269 18h1M4 19h1M8 19h1M41 19h2M44 19h1M51 19h1M56 19h1M61 19h1M64 19h1M67 19h1M73 19h1M75 19h1M77 19h2M82 19h1M84 19h1M89 19h2M93 19h1M102 19h2M125 19h1M128 19h1M151 19h2M155 19h1M159 19h1M161 19h1M174 19h2M183 19h1M191 19h1M201 19h1M205 19h1M207 19h1M214 19h1M219 19h1M221 19h1M240 19h1M243 19h2M250 19h2M277 19h1M3 20h1M7 20h1M12 20h1M21 20h2M33 20h1M44 20h1M47 20h1M52 20h1M57 20h1M60 20h1M68 20h1M74 20h1M81 20h1M83 20h1M91 20h1M97 20h1M100 20h2M104 20h1M138 20h1M147 20h1M149 20h1M169 20h1M172 20h4M187 20h1M189 20h1M195 20h1M198 20h1M201 20h2M205 20h1M218 20h1M231 20h1M235 20h1M244 20h1M252 20h1M268 20h2M273 20h1M277 20h1M2 21h1M47 21h1M55 21h2M67 21h1M70 21h1M78 21h1M94 21h1M112 21h1M114 21h2M129 21h1M138 21h1M140 21h2M148 21h2M152 21h1M173 21h1M176 21h2M180 21h1M182 21h1M190 21h1M208 21h1M213 21h1M217 21h1M229 21h1M232 21h1M243 21h1M255 21h2M269 21h1M10 22h1M20 22h1M41 22h1M43 22h1M67 22h1M73 22h1M77 22h1M79 22h1M81 22h1M89 22h1M96 22h1M100 22h1M110 22h1M119 22h1M132 22h1M146 22h1M154 22h1M172 22h1M176 22h1M181 22h1M183 22h1M185 22h1M188 22h2M202 22h1M210 22h1M212 22h1M222 22h1M232 22h1M240 22h1M248 22h1M252 22h1M255 22h1M260 22h1M262 22h1M265 22h1M267 22h1M2 23h1M4 23h1M7 23h1M20 23h1M23 23h1M36 23h1M41 23h2M47 23h1M59 23h1M69 23h1M71 23h3M77 23h1M95 23h1M100 23h1M102 23h1M112 23h1M115 23h1M124 23h1M126 23h1M147 23h1M174 23h1M187 23h2M193 23h1M205 23h1M208 23h1M219 23h1M252 23h1M257 23h1M263 23h2M272 23h1M275 23h1M2 24h1M8 24h1M13 24h1M19 24h1M21 24h1M25 24h2M35 24h3M39 24h1M42 24h1M44 24h1M47 24h1M49 24h2M58 24h1M64 24h1M67 24h1M69 24h1M79 24h1M88 24h1M101 24h2M106 24h1M120 24h1M138 24h1M173 24h1M201 24h1M211 24h1M218 24h1M235 24h1M255 24h1M264 24h1M274 24h1M2 25h1M4 25h1M22 25h1M73 25h1M94 25h1M113 25h1M119 25h1M153 25h1M187 25h2M193 25h2M198 25h1M201 25h2M219 25h1M229 25h2M233 25h2M256 25h1M259 25h1M266 25h2M270 25h1M8 26h1M12 26h1M16 26h1M21 26h1M24 26h1M26 26h1M34 26h1M38 26h1M40 26h2M56 26h1M60 26h1M67 26h1M69 26h1M81 26h1M84 26h1M88 26h2M92 26h2M96 26h1M98 26h1M101 26h1M106 26h1M110 26h1M140 26h1M205 26h1M219 26h1M223 26h1M231 26h1M234 26h1M236 26h1M238 26h1M246 26h1M248 26h2M254 26h1M261 26h1M263 26h1M275 26h1M3 27h1M6 27h1M12 27h1M16 27h1M35 27h2M39 27h2M56 27h1M58 27h1M73 27h1M75 27h1M88 27h1M98 27h1M101 27h2M110 27h2M144 27h1M146 27h1M182 27h2M193 27h1M201 27h3M220 27h1M238 27h1M249 27h1M252 27h1M257 27h1M259 27h1M261 27h2M269 27h1M274 27h1M2 28h1M4 28h1M8 28h1M10 28h1M13 28h1M20 28h2M26 28h1M36 28h1M39 28h1M41 28h1M60 28h1M72 28h1M98 28h1M115 28h1M183 28h1M191 28h1M220 28h1M229 28h1M233 28h1M246 28h1M250 28h1M252 28h1M257 28h1M267 28h1M270 28h1M273 28h1M2 29h1M30 29h1M36 29h1M38 29h1M42 29h2M52 29h1M60 29h1M62 29h1M78 29h1M88 29h1M93 29h1M95 29h1M99 29h1M113 29h1M184 29h1M186 29h1M191 29h1M193 29h1M199 29h1M201 29h1M207 29h1M223 29h1M236 29h1M241 29h1M246 29h1M256 29h1M258 29h1M276 29h1M14 30h1M23 30h1M26 30h2M33 30h1M58 30h2M64 30h1M73 30h2M83 30h1M89 30h1M109 30h1M113 30h1M118 30h1M126 30h1M130 30h1M133 30h1M136 30h1M139 30h1M153 30h1M182 30h2M187 30h1M189 30h1M207 30h1M209 30h1M220 30h2M227 30h1M231 30h2M254 30h1M262 30h1M269 30h1M0 31h1M10 31h1M13 31h2M26 31h1M49 31h1M54 31h1M59 31h1M70 31h1M74 31h1M78 31h1M81 31h1M84 31h1M92 31h1M95 31h1M102 31h1M112 31h1M118 31h2M121 31h1M124 31h4M168 31h1M190 31h3M201 31h1M209 31h1M213 31h1M222 31h1M225 31h1M228 31h3M239 31h1M248 31h2M251 31h1M256 31h1M275 31h1M2 32h1M4 32h1M6 32h1M10 32h1M50 32h1M57 32h1M59 32h2M71 32h1M81 32h1M113 32h1M118 32h1M121 32h1M125 32h1M129 32h1M143 32h1M162 32h1M168 32h1M181 32h3M189 32h1M193 32h1M206 32h1M211 32h1M231 32h1M234 32h1M243 32h1M245 32h1M263 32h1M269 32h1M275 32h1M6 33h1M12 33h1M15 33h3M25 33h1M39 33h1M49 33h1M57 33h1M68 33h1M70 33h1M72 33h2M96 33h1M98 33h2M113 33h1M118 33h1M130 33h1M140 33h1M146 33h1M150 33h1M154 33h1M161 33h1M168 33h1M174 33h1M179 33h2M199 33h1M203 33h1M206 33h1M208 33h1M220 33h1M225 33h1M231 33h2M234 33h1M237 33h2M243 33h1M249 33h1M258 33h1M260 33h1M265 33h2M268 33h1M274 33h1M39 34h1M42 34h1M46 34h1M53 34h1M62 34h1M72 34h1M77 34h2M82 34h1M84 34h1M89 34h1M97 34h1M99 34h1M105 34h1M107 34h1M114 34h2M129 34h1M140 34h1M148 34h3M160 34h1M162 34h1M166 34h1M174 34h1M177 34h1M180 34h1M182 34h3M200 34h1M206 34h1M209 34h1M211 34h1M223 34h2M238 34h1M243 34h1M248 34h1M250 34h1M252 34h1M259 34h2M262 34h1M268 34h1M272 34h1M274 34h1M13 35h1M22 35h1M38 35h1M56 35h1M58 35h1M60 35h1M68 35h1M73 35h1M84 35h1M111 35h1M113 35h1M118 35h1M142 35h1M145 35h1M150 35h1M153 35h1M175 35h1M190 35h1M196 35h1M200 35h1M207 35h1M214 35h1M218 35h1M222 35h1M226 35h3M233 35h1M240 35h1M246 35h1M255 35h1M268 35h1M274 35h2M26 36h1M51 36h1M60 36h1M88 36h1M90 36h1M92 36h1M94 36h1M109 36h1M113 36h1M116 36h1M118 36h2M121 36h2M124 36h1M133 36h1M138 36h2M148 36h1M150 36h1M154 36h1M169 36h1M175 36h1M178 36h1M201 36h2M206 36h1M209 36h1M224 36h1M227 36h1M230 36h1M236 36h1M238 36h2M253 36h1M255 36h1M266 36h2M274 36h2M7 37h1M12 37h1M18 37h1M37 37h1M39 37h1M49 37h1M51 37h1M61 37h1M70 37h1M74 37h1M77 37h1M92 37h1M97 37h1M102 37h1M111 37h1M146 37h2M166 37h2M181 37h1M191 37h1M195 37h2M203 37h1M211 37h1M213 37h1M215 37h1M217 37h1M225 37h1M232 37h1M257 37h1M262 37h1M265 37h1M274 37h1M5 38h1M16 38h1M22 38h2M33 38h1M37 38h1M42 38h1M54 38h1M67 38h1M70 38h1M74 38h1M94 38h1M99 38h1M109 38h1M163 38h1M166 38h1M170 38h1M172 38h1M174 38h1M179 38h2M183 38h1M191 38h1M193 38h1M197 38h1M199 38h1M211 38h1M219 38h2M222 38h1M226 38h1M233 38h1M235 38h1M239 38h2M256 38h1M263 38h1M274 38h1M16 39h1M18 39h1M23 39h1M27 39h1M33 39h2M37 39h1M39 39h1M42 39h1M50 39h2M54 39h1M63 39h2M88 39h1M104 39h1M147 39h1M156 39h1M167 39h1M172 39h1M181 39h1M184 39h1M188 39h1M194 39h1M204 39h1M212 39h1M215 39h2M218 39h1M220 39h1M222 39h1M233 39h1M236 39h2M240 39h1M243 39h1M247 39h2M251 39h1M253 39h1M261 39h1M263 39h1M268 39h1M271 39h3M57 40h1M64 40h1M67 40h1M77 40h1M94 40h1M105 40h1M108 40h1M115 40h1M147 40h1M149 40h1M160 40h1M166 40h2M171 40h1M179 40h1M183 40h2M195 40h2M204 40h1M214 40h1M220 40h2M224 40h1M234 40h1M239 40h1M242 40h1M245 40h1M259 40h1M262 40h1M7 41h1M10 41h1M22 41h1M40 41h1M50 41h1M53 41h2M61 41h1M77 41h1M79 41h1M98 41h1M105 41h1M112 41h1M147 41h2M154 41h1M156 41h2M162 41h1M165 41h1M173 41h2M176 41h1M187 41h1M190 41h2M195 41h1M198 41h1M209 41h1M212 41h1M217 41h1M223 41h2M226 41h2M230 41h1M241 41h1M259 41h2M264 41h1M268 41h2M273 41h2M1 42h1M13 42h1M21 42h1M26 42h1M63 42h1M77 42h1M84 42h1M124 42h1M140 42h1M145 42h1M154 42h2M157 42h1M160 42h4M171 42h1M173 42h1M175 42h1M177 42h1M189 42h1M191 42h1M202 42h1M205 42h1M207 42h1M213 42h1M233 42h1M246 42h1M256 42h1M260 42h1M266 42h1M269 42h2M0 43h1M4 43h1M7 43h3M27 43h1M32 43h1M36 43h2M40 43h1M42 43h1M47 43h1M55 43h3M60 43h1M63 43h2M76 43h1M84 43h1M90 43h1M95 43h1M102 43h1M104 43h1M119 43h1M133 43h1M140 43h1M146 43h1M148 43h2M154 43h1M163 43h1M165 43h1M175 43h2M185 43h2M190 43h1M193 43h1M196 43h1M198 43h1M200 43h1M211 43h1M214 43h1M230 43h1M232 43h1M235 43h1M240 43h1M243 43h1M259 43h1M261 43h1M264 43h1M272 43h1M0 44h1M2 44h1M5 44h1M8 44h2M15 44h1M18 44h1M27 44h1M36 44h1M42 44h1M44 44h1M53 44h1M56 44h1M82 44h1M86 44h1M93 44h1M99 44h1M112 44h2M118 44h1M123 44h1M127 44h1M133 44h1M139 44h1M144 44h1M152 44h1M156 44h1M163 44h1M171 44h1M175 44h1M177 44h1M182 44h1M189 44h1M196 44h1M198 44h1M200 44h1M204 44h1M212 44h1M214 44h1M217 44h1M221 44h1M227 44h1M230 44h2M236 44h2M241 44h1M247 44h1M257 44h2M260 44h1M262 44h1M264 44h2M268 44h1M4 45h1M6 45h1M8 45h1M14 45h1M20 45h1M27 45h2M30 45h1M42 45h1M59 45h1M61 45h1M74 45h1M89 45h1M96 45h1M99 45h1M108 45h1M111 45h1M144 45h1M158 45h1M182 45h2M186 45h1M190 45h1M192 45h1M204 45h1M220 45h1M222 45h1M232 45h2M239 45h1M243 45h1M258 45h1M261 45h1M263 45h1M265 45h1M0 46h1M3 46h1M5 46h1M10 46h2M15 46h2M26 46h1M36 46h1M43 46h1M45 46h1M50 46h1M66 46h1M75 46h1M84 46h1M86 46h1M97 46h1M104 46h2M151 46h2M155 46h1M160 46h1M166 46h1M169 46h1M172 46h1M174 46h1M187 46h1M194 46h2M197 46h1M199 46h2M209 46h1M213 46h1M216 46h1M226 46h1M228 46h1M236 46h1M238 46h1M246 46h1M249 46h1M252 46h2M257 46h1M268 46h2M275 46h1M0 47h1M2 47h1M7 47h2M18 47h1M20 47h1M36 47h3M44 47h1M53 47h1M55 47h1M61 47h1M63 47h1M69 47h1M72 47h1M82 47h1M85 47h1M91 47h1M100 47h2M112 47h1M144 47h1M146 47h1M162 47h2M193 47h1M202 47h1M204 47h3M210 47h1M229 47h2M236 47h1M239 47h1M254 47h1M256 47h1M265 47h1M274 47h1M0 48h1M9 48h1M14 48h1M20 48h2M30 48h1M35 48h1M43 48h1M48 48h1M68 48h1M73 48h1M105 48h1M152 48h1M163 48h1M175 48h2M179 48h3M183 48h1M193 48h1M201 48h1M222 48h1M225 48h1M229 48h1M234 48h1M238 48h1M255 48h1M258 48h1M261 48h1M269 48h1M273 48h1M276 48h1M1 49h1M8 49h2M12 49h1M14 49h1M22 49h1M25 49h2M30 49h1M36 49h2M50 49h1M55 49h1M64 49h1M73 49h1M77 49h1M79 49h1M81 49h1M89 49h1M102 49h1M105 49h1M111 49h2M115 49h1M124 49h1M131 49h1M145 49h2M160 49h1M163 49h1M182 49h1M187 49h1M189 49h1M194 49h1M196 49h1M205 49h1M214 49h1M216 49h1M218 49h1M221 49h1M228 49h1M241 49h2M244 49h1M246 49h1M248 49h1M256 49h1M263 49h2M269 49h1M1 50h1M4 50h1M7 50h2M16 50h2M19 50h1M22 50h1M30 50h2M34 50h1M37 50h1M43 50h1M53 50h1M56 50h1M64 50h1M67 50h1M81 50h2M85 50h1M91 50h1M93 50h1M96 50h3M100 50h1M107 50h1M111 50h1M116 50h1M121 50h1M127 50h1M156 50h1M164 50h2M170 50h1M172 50h2M177 50h1M180 50h1M183 50h1M187 50h1M193 50h1M195 50h1M198 50h1M204 50h1M206 50h1M218 50h1M225 50h1M232 50h3M236 50h1M240 50h1M249 50h2M254 50h1M256 50h1M260 50h2M264 50h1"/>
<path stroke="#e8f4e5" d="M2 0h1M12 0h1M17 0h1M41 0h1M52 0h2M59 0h1M61 0h1M72 0h1M84 0h2M91 0h1M97 0h1M108 0h1M111 0h1M137 0h1M176 0h1M192 0h1M204 0h1M210 0h1M234 0h1M270 0h1M6 1h2M9 1h1M11 1h1M16 1h2M48 1h2M53 1h1M55 1h1M73 1h2M76 1h1M78 1h2M81 1h1M87 1h1M103 1h3M111 1h1M136 1h1M143 1h1M149 1h1M161 1h1M200 1h1M203 1h2M209 1h1M261 1h1M264 1h1M4 2h1M7 2h3M16 2h2M21 2h1M25 2h2M31 2h2M38 2h1M73 2h1M76 2h1M81 2h1M104 2h1M107 2h1M112 2h1M123 2h1M134 2h1M148 2h1M151 2h1M154 2h1M163 2h1M167 2h1M176 2h1M201 2h1M210 2h1M230 2h1M259 2h1M279 2h1M2 3h3M6 3h1M12 3h1M17 3h1M24 3h2M38 3h1M41 3h1M48 3h1M59 3h1M61 3h2M72 3h1M74 3h1M85 3h1M88 3h2M91 3h1M97 3h1M103 3h1M112 3h1M117 3h1M149 3h1M156 3h1M188 3h1M196 3h1M199 3h1M206 3h1M217 3h1M227 3h1M230 3h1M261 3h1M271 3h1M276 3h1M25 4h2M40 4h1M44 4h1M48 4h1M53 4h1M70 4h2M84 4h1M95 4h1M98 4h1M105 4h2M131 4h1M137 4h1M149 4h1M151 4h1M168 4h1M191 4h1M207 4h1M210 4h1M216 4h1M227 4h1M251 4h1M261 4h1M271 4h1M2 5h2M12 5h1M17 5h1M41 5h1M43 5h1M56 5h1M59 5h1M61 5h1M74 5h1M77 5h3M81 5h1M84 5h1M88 5h1M91 5h2M103 5h1M105 5h1M110 5h1M131 5h1M134 5h1M139 5h1M149 5h1M199 5h1M210 5h1M260 5h1M272 5h1M2 6h2M7 6h1M9 6h1M17 6h1M40 6h1M44 6h1M68 6h1M74 6h1M76 6h4M81 6h2M88 6h1M97 6h2M107 6h1M118 6h1M134 6h1M149 6h1M151 6h1M159 6h1M165 6h1M176 6h1M197 6h1M204 6h1M260 6h1M264 6h1M271 6h1M3 7h1M6 7h1M8 7h2M24 7h2M41 7h1M45 7h1M48 7h1M56 7h1M59 7h1M64 7h1M70 7h1M72 7h1M77 7h1M84 7h1M86 7h1M91 7h1M110 7h1M125 7h1M131 7h1M134 7h1M149 7h1M159 7h1M171 7h1M210 7h1M260 7h1M270 7h3M274 7h1M2 8h1M6 8h1M8 8h1M17 8h1M19 8h1M24 8h2M38 8h1M48 8h1M52 8h1M56 8h1M64 8h1M70 8h1M77 8h1M84 8h1M103 8h1M111 8h1M156 8h1M176 8h1M191 8h1M193 8h1M200 8h1M222 8h1M224 8h1M259 8h2M273 8h1M2 9h2M9 9h1M19 9h1M41 9h1M45 9h1M48 9h1M61 9h1M68 9h1M77 9h1M81 9h1M84 9h1M91 9h1M97 9h1M103 9h1M112 9h1M146 9h1M204 9h1M210 9h1M216 9h1M241 9h1M260 9h2M0 10h1M3 10h1M6 10h1M8 10h1M12 10h1M24 10h1M38 10h1M43 10h1M52 10h1M62 10h1M88 10h1M111 10h1M151 10h1M199 10h1M212 10h1M232 10h1M240 10h1M268 10h1M272 10h1M2 11h1M4 11h1M6 11h2M9 11h1M17 11h1M26 11h1M44 11h1M65 11h1M71 11h1M81 11h1M84 11h1M88 11h1M99 11h1M134 11h1M176 11h1M199 11h1M202 11h1M254 11h1M260 11h1M266 11h1M272 11h1M26 12h1M34 12h1M40 12h1M44 12h1M53 12h1M65 12h1M78 12h1M95 12h1M98 12h1M105 12h1M107 12h1M121 12h1M128 12h1M136 12h1M143 12h1M149 12h1M163 12h1M185 12h1M189 12h1M192 12h1M197 12h1M201 12h1M208 12h1M248 12h1M253 12h1M260 12h1M264 12h1M266 12h1M273 12h1M279 12h1M2 13h2M6 13h3M19 13h1M24 13h1M59 13h1M61 13h1M64 13h1M72 13h1M80 13h1M86 13h1M88 13h1M103 13h1M110 13h1M131 13h1M136 13h1M163 13h1M165 13h1M168 13h1M202 13h1M208 13h2M217 13h1M230 13h1M259 13h2M2 14h1M4 14h1M7 14h1M11 14h1M16 14h1M26 14h1M31 14h1M38 14h1M40 14h1M55 14h2M64 14h1M73 14h1M95 14h1M99 14h1M103 14h1M111 14h1M139 14h1M157 14h1M163 14h1M203 14h1M230 14h1M259 14h1M273 14h1M2 15h1M8 15h2M11 15h2M17 15h1M21 15h1M24 15h1M31 15h1M38 15h1M40 15h1M44 15h1M56 15h1M64 15h1M73 15h1M81 15h1M84 15h1M87 15h1M91 15h1M98 15h1M105 15h1M107 15h1M141 15h1M151 15h1M158 15h1M188 15h1M209 15h1M261 15h1M272 15h1M0 16h1M2 16h1M17 16h1M21 16h1M24 16h1M26 16h1M40 16h1M48 16h1M53 16h1M56 16h1M61 16h1M64 16h1M73 16h1M78 16h1M81 16h1M95 16h1M169 16h1M178 16h1M201 16h1M206 16h1M227 16h1M250 16h1M18 17h2M37 17h2M43 17h1M49 17h2M52 17h1M59 17h1M78 17h1M89 17h2M101 17h1M103 17h2M111 17h1M139 17h1M195 17h1M200 17h1M251 17h2M260 17h1M266 17h1M270 17h1M273 17h1M276 17h1M14 18h1M22 18h1M27 18h1M30 18h1M32 18h1M36 18h1M46 18h1M50 18h2M56 18h1M58 18h1M61 18h1M68 18h1M75 18h1M77 18h1M79 18h1M82 18h1M107 18h1M111 18h2M161 18h1M165 18h1M175 18h1M182 18h1M186 18h1M190 18h1M193 18h1M196 18h1M200 18h1M210 18h1M212 18h1M217 18h2M231 18h2M246 18h1M248 18h1M258 18h1M265 18h1M271 18h1M273 18h2M279 18h1M1 19h2M12 19h1M22 19h1M33 19h1M36 19h1M39 19h1M47 19h1M79 19h1M100 19h1M107 19h1M154 19h1M157 19h1M160 19h1M169 19h3M176 19h2M194 19h2M197 19h2M200 19h1M206 19h1M210 19h1M217 19h1M222 19h1M225 19h1M236 19h1M255 19h1M264 19h1M2 20h1M17 20h1M20 20h1M26 20h1M29 20h3M37 20h1M40 20h1M56 20h1M59 20h1M67 20h1M69 20h1M72 20h1M87 20h1M98 20h1M150 20h1M152 20h1M154 20h1M158 20h2M162 20h1M183 20h1M185 20h2M196 20h1M200 20h1M203 20h1M206 20h1M209 20h1M211 20h1M213 20h2M216 20h1M220 20h1M229 20h1M236 20h1M240 20h1M249 20h2M253 20h3M258 20h1M267 20h1M276 20h1M10 21h1M13 21h1M17 21h1M20 21h1M26 21h1M34 21h1M98 21h1M100 21h1M134 21h1M137 21h1M139 21h1M144 21h1M146 21h1M157 21h2M160 21h1M163 21h1M165 21h1M187 21h1M193 21h1M196 21h1M198 21h1M200 21h1M202 21h2M216 21h1M218 21h1M222 21h1M228 21h1M230 21h2M235 21h1M237 21h1M265 21h1M267 21h1M270 21h1M39 22h1M57 22h1M75 22h1M101 22h1M112 22h1M115 22h1M117 22h1M136 22h1M139 22h1M142 22h1M147 22h1M149 22h1M151 22h2M161 22h1M164 22h1M171 22h1M173 22h1M179 22h1M184 22h1M187 22h1M190 22h1M193 22h1M195 22h1M198 22h1M206 22h1M213 22h2M223 22h1M225 22h1M234 22h1M236 22h1M238 22h2M253 22h1M258 22h2M271 22h1M276 22h4M12 23h1M19 23h1M35 23h1M40 23h1M49 23h1M52 23h1M61 23h1M67 23h1M70 23h1M96 23h1M98 23h1M101 23h1M119 23h1M127 23h1M134 23h1M137 23h1M149 23h1M161 23h1M180 23h1M184 23h2M196 23h1M198 23h1M212 23h2M223 23h3M228 23h1M232 23h1M238 23h2M247 23h1M249 23h1M251 23h1M253 23h1M258 23h1M260 23h2M267 23h1M269 23h1M12 24h1M16 24h1M33 24h1M43 24h1M70 24h1M77 24h1M82 24h1M93 24h1M98 24h1M118 24h1M121 24h1M130 24h1M132 24h2M144 24h1M147 24h1M174 24h1M183 24h1M190 24h1M193 24h1M202 24h1M209 24h1M220 24h1M230 24h2M233 24h1M238 24h1M240 24h2M256 24h1M258 24h1M262 24h2M270 24h1M273 24h1M77 25h1M112 25h1M120 25h1M122 25h3M127 25h1M137 25h2M140 25h1M144 25h1M159 25h1M171 25h1M183 25h1M208 25h2M212 25h1M214 25h1M218 25h1M224 25h1M226 25h1M236 25h1M262 25h1M273 25h1M2 26h1M10 26h1M17 26h1M20 26h1M37 26h1M44 26h1M47 26h1M61 26h1M75 26h1M79 26h1M185 26h1M201 26h1M213 26h1M222 26h1M228 26h1M250 26h1M257 26h1M259 26h1M262 26h1M264 26h2M270 26h1M274 26h1M4 27h1M10 27h1M42 27h1M67 27h1M77 27h1M96 27h1M113 27h1M140 27h1M153 27h1M160 27h1M166 27h1M173 27h1M179 27h1M185 27h1M187 27h1M192 27h1M195 27h1M198 27h1M206 27h1M210 27h1M218 27h1M223 27h1M226 27h1M239 27h1M258 27h1M266 27h1M270 27h1M273 27h1M275 27h1M279 27h1M22 28h1M69 28h1M84 28h1M110 28h1M112 28h1M123 28h1M149 28h1M171 28h1M193 28h1M195 28h1M208 28h1M226 28h1M234 28h1M247 28h1M249 28h1M255 28h1M37 29h1M68 29h1M72 29h1M74 29h1M84 29h1M92 29h1M94 29h1M97 29h1M110 29h1M173 29h1M176 29h1M181 29h1M187 29h1M192 29h1M197 29h1M200 29h1M202 29h1M208 29h2M218 29h1M222 29h1M229 29h1M238 29h1M261 29h1M271 29h4M279 29h1M16 30h1M52 30h1M60 30h1M67 30h1M81 30h1M88 30h1M90 30h1M111 30h1M115 30h1M120 30h1M122 30h1M129 30h1M131 30h1M138 30h1M143 30h1M165 30h1M168 30h1M186 30h1M190 30h1M199 30h1M230 30h1M239 30h1M251 30h2M259 30h2M265 30h1M272 30h3M278 30h1M1 31h1M37 31h2M60 31h3M90 31h1M128 31h1M132 31h1M136 31h1M139 31h3M176 31h2M179 31h1M181 31h2M184 31h1M189 31h1M193 31h1M198 31h1M204 31h1M211 31h1M215 31h1M238 31h1M240 31h2M246 31h1M254 31h1M259 31h1M270 31h1M274 31h1M279 31h1M16 32h1M38 32h2M51 32h1M54 32h1M78 32h1M88 32h1M92 32h1M114 32h1M119 32h1M123 32h1M126 32h1M131 32h1M139 32h1M184 32h1M197 32h1M200 32h1M207 32h1M223 32h3M230 32h1M240 32h1M246 32h1M252 32h1M254 32h2M262 32h1M265 32h1M267 32h2M271 32h1M2 33h1M4 33h2M11 33h1M58 33h1M77 33h2M81 33h1M84 33h1M88 33h1M92 33h1M105 33h1M110 33h2M125 33h2M139 33h1M144 33h1M149 33h1M151 33h1M159 33h1M169 33h1M173 33h1M176 33h1M181 33h1M184 33h1M189 33h1M197 33h1M200 33h1M209 33h1M217 33h1M219 33h1M233 33h1M235 33h1M240 33h1M253 33h2M259 33h1M261 33h2M270 33h1M275 33h1M16 34h1M38 34h1M45 34h1M49 34h1M52 34h1M60 34h2M67 34h1M69 34h1M73 34h2M94 34h1M110 34h2M113 34h1M116 34h1M119 34h1M128 34h1M132 34h1M142 34h2M147 34h1M157 34h1M159 34h1M170 34h1M175 34h2M181 34h1M188 34h1M192 34h3M201 34h1M210 34h1M212 34h1M217 34h1M219 34h2M233 34h1M235 34h1M242 34h1M247 34h1M254 34h2M261 34h1M266 34h1M270 34h1M273 34h1M278 34h1M26 35h1M90 35h1M112 35h1M127 35h1M134 35h2M141 35h1M151 35h2M156 35h2M170 35h1M193 35h2M213 35h1M216 35h1M220 35h1M234 35h1M247 35h1M261 35h1M265 35h1M267 35h1M270 35h1M272 35h1M6 36h1M38 36h1M111 36h1M120 36h1M123 36h1M131 36h2M142 36h1M155 36h2M159 36h1M173 36h1M181 36h2M196 36h2M205 36h1M214 36h1M216 36h1M219 36h1M233 36h1M237 36h1M241 36h1M252 36h1M257 36h1M264 36h1M277 36h1M3 37h1M16 37h1M26 37h1M38 37h1M52 37h1M54 37h1M60 37h1M67 37h1M72 37h1M75 37h1M88 37h1M94 37h1M110 37h1M122 37h1M145 37h1M148 37h1M150 37h3M155 37h1M159 37h2M165 37h1M169 37h2M173 37h4M182 37h3M190 37h1M199 37h1M202 37h1M209 37h2M219 37h1M226 37h1M239 37h2M243 37h1M247 37h1M261 37h1M263 37h1M271 37h1M46 38h1M84 38h1M90 38h1M112 38h1M145 38h1M164 38h1M167 38h1M175 38h2M178 38h1M194 38h1M198 38h1M201 38h1M204 38h1M206 38h1M214 38h1M247 38h1M251 38h2M264 38h1M266 38h1M268 38h3M273 38h1M279 38h1M57 39h1M60 39h2M72 39h1M74 39h1M111 39h1M118 39h1M151 39h1M158 39h1M169 39h1M174 39h2M180 39h1M186 39h1M217 39h1M219 39h1M231 39h1M238 39h1M241 39h1M255 39h2M259 39h1M262 39h1M265 39h1M277 39h1M13 40h1M27 40h1M60 40h1M75 40h1M81 40h1M113 40h1M118 40h2M125 40h2M143 40h1M168 40h1M181 40h2M186 40h1M193 40h1M197 40h2M201 40h1M212 40h1M215 40h1M222 40h1M227 40h1M241 40h1M256 40h1M275 40h1M3 41h1M9 41h1M13 41h1M60 41h1M71 41h1M143 41h1M146 41h1M155 41h1M158 41h1M160 41h2M164 41h1M180 41h1M182 41h1M194 41h1M202 41h2M205 41h1M213 41h1M215 41h1M222 41h1M247 41h2M251 41h1M257 41h1M262 41h2M265 41h1M10 42h1M35 42h1M39 42h2M50 42h1M58 42h1M75 42h1M83 42h1M111 42h2M135 42h1M153 42h1M193 42h1M198 42h1M221 42h1M223 42h1M227 42h1M229 42h2M255 42h1M261 42h3M5 43h1M15 43h1M22 43h1M26 43h1M50 43h1M105 43h1M111 43h1M123 43h1M136 43h1M145 43h1M147 43h1M153 43h1M155 43h1M160 43h2M180 43h4M197 43h1M201 43h1M217 43h1M220 43h2M231 43h1M233 43h1M236 43h1M238 43h1M242 43h1M256 43h1M260 43h1M267 43h1M269 43h1M1 44h1M14 44h1M19 44h2M22 44h1M24 44h2M34 44h1M37 44h1M47 44h1M52 44h1M54 44h2M59 44h2M73 44h4M81 44h1M84 44h2M89 44h1M95 44h1M98 44h1M104 44h2M111 44h1M119 44h1M122 44h1M126 44h1M129 44h3M137 44h2M146 44h1M158 44h1M162 44h1M169 44h2M173 44h1M181 44h1M232 44h1M239 44h2M246 44h1M254 44h1M256 44h1M269 44h1M0 45h1M5 45h1M16 45h1M18 45h1M22 45h1M32 45h1M34 45h1M37 45h1M43 45h1M49 45h1M53 45h1M62 45h1M65 45h1M73 45h1M80 45h1M84 45h1M100 45h1M104 45h2M131 45h1M140 45h1M143 45h1M156 45h2M160 45h1M162 45h1M167 45h1M170 45h1M179 45h2M193 45h1M197 45h2M212 45h1M216 45h1M224 45h1M229 45h1M238 45h1M241 45h1M247 45h1M249 45h1M251 45h1M254 45h1M262 45h1M264 45h1M267 45h2M274 45h1M34 46h1M38 46h1M53 46h1M57 46h1M61 46h1M63 46h2M67 46h2M77 46h1M81 46h1M89 46h1M95 46h1M111 46h1M143 46h2M170 46h1M180 46h1M196 46h1M201 46h1M203 46h1M210 46h1M214 46h1M218 46h1M221 46h2M229 46h1M234 46h1M239 46h1M247 46h1M251 46h1M254 46h2M262 46h5M16 47h2M21 47h1M25 47h1M30 47h1M34 47h1M43 47h1M50 47h3M60 47h1M62 47h1M78 47h1M83 47h2M95 47h1M102 47h1M105 47h1M107 47h1M123 47h1M147 47h1M150 47h2M164 47h1M170 47h1M177 47h1M181 47h1M183 47h1M186 47h1M189 47h1M191 47h1M195 47h2M199 47h3M213 47h3M217 47h2M227 47h2M240 47h1M246 47h1M255 47h1M260 47h2M266 47h2M273 47h1M275 47h1M3 48h1M7 48h1M10 48h1M26 48h1M39 48h1M55 48h1M57 48h1M67 48h1M77 48h1M83 48h1M90 48h1M98 48h1M102 48h1M112 48h1M122 48h2M138 48h1M143 48h1M145 48h1M148 48h1M153 48h1M156 48h2M173 48h1M182 48h1M187 48h1M196 48h1M199 48h1M209 48h1M230 48h1M237 48h1M240 48h1M256 48h1M263 48h1M267 48h1M274 48h1M0 49h1M3 49h1M18 49h2M21 49h1M24 49h1M47 49h1M54 49h1M56 49h1M62 49h1M71 49h1M75 49h1M84 49h1M90 49h2M125 49h1M153 49h1M166 49h1M168 49h1M170 49h1M172 49h1M180 49h2M183 49h1M197 49h1M208 49h1M210 49h1M213 49h1M217 49h1M224 49h1M229 49h1M238 49h1M240 49h1M250 49h1M261 49h2M267 49h1M9 50h2M13 50h1M27 50h1M36 50h1M50 50h1M55 50h1M62 50h1M79 50h2M83 50h1M88 50h1M95 50h1M131 50h1M138 50h2M145 50h1M151 50h2M160 50h1M166 50h1M174 50h1M176 50h1M179 50h1M184 50h1M186 50h1M201 50h1M207 50h1M212 50h1M220 50h1M230 50h1M241 50h1M248 50h1M251 50h1M262 50h1M276 50h1"/>
<path stroke="#d9f0d3" d="M0 0h1M3 0h1M19 0h1M24 0h1M29 0h1M43 0h1M45 0h1M62 0h1M69 0h1M80 0h1M86 0h1M90 0h1M96 0h1M101 0h1M238 0h1M240 0h1M245 0h1M274 0h1M2 1h1M8 1h1M12 1h1M25 1h1M38 1h1M43 1h1M45 1h1M56 1h1M59 1h1M61 1h1M64 1h1M68 1h1M84 1h1M86 1h1M91 1h2M97 1h1M110 1h1M137 1h1M151 1h1M156 1h1M207 1h1M230 1h1M268 1h1M272 1h1M0 2h1M2 2h2M6 2h1M24 2h1M35 2h1M41 2h1M48 2h1M56 2h1M59 2h1M62 2h1M68 2h1M70 2h1M77 2h2M84 2h1M92 2h1M97 2h1M99 2h1M103 2h1M111 2h1M117 2h1M139 2h1M156 2h1M192 2h1M203 2h1M205 2h1M219 2h1M224 2h1M228 2h1M271 2h1M276 2h1M0 3h1M33 3h1M35 3h1M43 3h1M52 3h1M80 3h1M86 3h1M110 3h1M137 3h1M216 3h1M272 3h1M274 3h1M3 4h2M6 4h1M8 4h2M12 4h1M17 4h1M21 4h1M24 4h1M52 4h1M59 4h1M61 4h1M74 4h1M78 4h1M81 4h1M86 4h1M88 4h1M91 4h2M99 4h1M110 4h1M192 4h1M199 4h1M228 4h1M245 4h1M259 4h2M264 4h1M272 4h1M19 5h1M24 5h1M29 5h1M35 5h1M62 5h2M72 5h1M75 5h1M80 5h1M86 5h1M101 5h1M108 5h1M111 5h2M216 5h1M227 5h1M232 5h1M243 5h2M256 5h1M261 5h1M268 5h1M270 5h1M0 6h1M4 6h1M6 6h1M8 6h1M12 6h1M25 6h2M35 6h1M38 6h1M41 6h1M48 6h1M52 6h1M56 6h1M61 6h1M64 6h1M70 6h1M86 6h1M91 6h2M101 6h1M104 6h1M110 6h1M112 6h1M139 6h1M160 6h1M167 6h1M200 6h1M210 6h1M256 6h1M261 6h1M0 7h1M2 7h1M12 7h1M29 7h1M35 7h1M52 7h1M61 7h2M75 7h1M80 7h1M89 7h1M103 7h1M112 7h1M137 7h1M143 7h1M232 7h1M235 7h1M238 7h1M244 7h1M251 7h1M256 7h1M268 7h1M0 8h1M3 8h1M41 8h1M43 8h1M59 8h1M61 8h2M72 8h1M80 8h1M91 8h1M108 8h1M151 8h1M188 8h1M203 8h1M205 8h1M226 8h1M270 8h2M0 9h1M12 9h1M29 9h1M35 9h1M43 9h1M59 9h1M62 9h2M70 9h1M72 9h1M86 9h1M89 9h1M101 9h1M111 9h1M170 9h1M176 9h1M234 9h1M268 9h1M270 9h1M274 9h1M19 10h1M29 10h1M33 10h1M45 10h1M57 10h1M63 10h1M72 10h1M75 10h1M80 10h1M85 10h2M89 10h1M91 10h1M97 10h1M108 10h1M167 10h1M224 10h1M234 10h1M242 10h1M256 10h2M267 10h1M270 10h1M274 10h1M3 11h1M24 11h2M33 11h1M41 11h1M59 11h1M61 11h1M64 11h1M68 11h1M77 11h2M80 11h1M85 11h1M92 11h1M108 11h1M110 11h1M143 11h1M195 11h1M203 11h1M216 11h1M244 11h1M252 11h1M259 11h1M261 11h1M264 11h1M4 12h1M7 12h1M9 12h1M11 12h1M16 12h1M31 12h1M43 12h1M48 12h1M52 12h1M68 12h1M71 12h1M73 12h2M79 12h1M82 12h1M84 12h1M87 12h2M103 12h2M112 12h1M129 12h1M131 12h1M134 12h1M139 12h1M151 12h1M195 12h1M199 12h2M205 12h1M230 12h1M252 12h1M277 12h1M0 13h1M29 13h1M35 13h1M41 13h1M45 13h1M62 13h2M68 13h1M75 13h1M77 13h1M84 13h1M89 13h1M97 13h1M108 13h1M112 13h1M146 13h1M154 13h1M268 13h1M271 13h2M0 14h1M8 14h1M17 14h1M21 14h1M25 14h1M52 14h1M68 14h1M74 14h1M79 14h1M81 14h1M84 14h1M92 14h1M105 14h1M110 14h1M154 14h2M176 14h1M193 14h1M200 14h1M205 14h1M207 14h1M216 14h2M260 14h2M264 14h1M271 14h1M3 15h1M6 15h1M25 15h1M45 15h1M48 15h1M52 15h1M61 15h1M68 15h1M70 15h1M74 15h1M78 15h1M86 15h1M88 15h1M92 15h1M97 15h1M149 15h1M155 15h1M159 15h2M187 15h1M204 15h1M271 15h1M6 16h1M9 16h1M12 16h1M35 16h1M38 16h1M45 16h1M52 16h1M59 16h1M63 16h1M68 16h1M70 16h1M84 16h4M92 16h1M103 16h1M146 16h1M163 16h1M197 16h1M230 16h1M235 16h1M259 16h1M264 16h1M13 17h1M30 17h1M35 17h1M57 17h2M61 17h1M63 17h1M66 17h1M69 17h2M77 17h1M149 17h1M154 17h3M191 17h1M205 17h1M253 17h2M256 17h1M265 17h1M271 17h1M274 17h1M279 17h1M4 18h1M16 18h1M19 18h2M26 18h1M33 18h1M35 18h1M37 18h1M43 18h1M60 18h1M63 18h1M69 18h1M84 18h1M88 18h2M98 18h2M101 18h1M146 18h1M148 18h1M159 18h2M169 18h1M177 18h2M180 18h1M195 18h1M198 18h1M203 18h1M216 18h1M220 18h1M233 18h1M236 18h2M244 18h1M247 18h1M249 18h3M254 18h1M256 18h1M259 18h3M268 18h1M270 18h1M278 18h1M10 19h1M43 19h1M70 19h1M88 19h1M94 19h1M98 19h1M156 19h1M168 19h1M172 19h1M179 19h1M186 19h1M199 19h1M213 19h1M228 19h1M238 19h2M247 19h1M261 19h1M272 19h1M6 20h1M13 20h1M16 20h1M42 20h1M58 20h1M61 20h1M63 20h1M73 20h1M89 20h2M93 20h2M109 20h1M111 20h1M145 20h1M153 20h1M157 20h1M165 20h1M177 20h1M191 20h3M204 20h1M223 20h2M230 20h1M238 20h1M247 20h1M251 20h1M262 20h1M266 20h1M278 20h1M58 21h1M117 21h1M125 21h1M131 21h1M135 21h2M154 21h2M161 21h1M166 21h2M171 21h1M179 21h1M184 21h1M189 21h1M194 21h2M205 21h1M215 21h1M223 21h1M227 21h1M236 21h1M240 21h2M246 21h1M260 21h1M273 21h1M22 22h1M88 22h1M111 22h1M120 22h1M122 22h1M128 22h2M131 22h1M138 22h1M145 22h1M150 22h1M163 22h1M168 22h1M170 22h1M174 22h1M178 22h1M180 22h1M192 22h1M203 22h1M207 22h1M218 22h2M227 22h1M246 22h1M256 22h1M261 22h1M264 22h1M3 23h1M6 23h1M22 23h1M56 23h1M114 23h1M122 23h1M136 23h1M139 23h1M142 23h1M144 23h1M150 23h1M181 23h1M190 23h1M194 23h1M200 23h3M217 23h2M231 23h1M233 23h1M235 23h1M246 23h1M254 23h1M256 23h1M274 23h1M22 24h1M34 24h1M51 24h1M56 24h1M60 24h1M94 24h1M99 24h2M110 24h1M112 24h1M115 24h1M117 24h1M119 24h1M126 24h1M140 24h1M143 24h1M165 24h2M179 24h1M181 24h1M189 24h1M194 24h1M210 24h1M219 24h1M221 24h1M236 24h1M267 24h1M271 24h1M275 24h1M10 25h1M115 25h1M117 25h1M128 25h2M132 25h1M154 25h1M165 25h2M169 25h1M172 25h1M175 25h4M186 25h1M191 25h1M200 25h1M205 25h1M215 25h1M239 25h1M274 25h1M276 25h1M22 26h1M39 26h1M43 26h1M111 26h1M153 26h1M160 26h1M170 26h1M174 26h1M182 26h2M194 26h2M198 26h1M203 26h1M206 26h1M210 26h1M218 26h1M221 26h1M229 26h1M260 26h1M267 26h2M272 26h1M279 26h1M22 27h1M118 27h1M121 27h1M123 27h1M125 27h1M139 27h1M149 27h1M169 27h1M171 27h1M176 27h1M190 27h1M194 27h1M200 27h1M208 27h2M212 27h1M214 27h1M222 27h1M224 27h2M228 27h1M230 27h1M256 27h1M276 27h1M70 28h1M111 28h1M141 28h1M160 28h1M163 28h2M166 28h1M172 28h1M174 28h1M180 28h2M192 28h1M198 28h1M203 28h1M206 28h1M209 28h1M215 28h1M218 28h1M224 28h1M230 28h1M248 28h1M253 28h1M261 28h1M266 28h1M269 28h1M271 28h1M22 29h1M26 29h1M58 29h1M64 29h1M81 29h1M111 29h2M115 29h1M118 29h1M140 29h1M146 29h1M149 29h1M177 29h1M185 29h1M195 29h1M203 29h1M212 29h1M214 29h1M221 29h1M224 29h1M230 29h1M255 29h1M263 29h1M269 29h1M275 29h1M72 30h1M97 30h1M121 30h1M124 30h2M127 30h1M135 30h1M140 30h1M142 30h1M146 30h1M150 30h2M163 30h1M166 30h2M191 30h1M193 30h2M196 30h1M214 30h1M216 30h4M233 30h1M238 30h1M242 30h1M249 30h1M111 31h1M133 31h1M138 31h1M143 31h1M146 31h1M149 31h1M153 31h3M162 31h1M167 31h1M170 31h1M175 31h1M178 31h1M194 31h1M196 31h1M199 31h1M205 31h1M207 31h2M210 31h1M217 31h1M219 31h1M233 31h1M252 31h1M255 31h1M258 31h1M62 32h1M94 32h1M110 32h2M116 32h1M124 32h1M135 32h1M147 32h1M149 32h1M170 32h1M173 32h1M176 32h1M179 32h1M196 32h1M198 32h1M204 32h1M210 32h1M213 32h1M219 32h1M221 32h2M236 32h1M239 32h1M241 32h2M247 32h1M259 32h1M261 32h1M266 32h1M270 32h1M278 32h1M26 33h1M38 33h1M54 33h1M60 33h1M64 33h1M90 33h1M97 33h1M120 33h2M123 33h2M132 33h1M143 33h1M147 33h1M158 33h1M164 33h1M172 33h1M194 33h1M201 33h1M210 33h1M224 33h1M227 33h1M239 33h1M247 33h1M250 33h2M255 33h3M263 33h2M279 33h1M13 34h1M26 34h2M37 34h1M58 34h1M75 34h1M81 34h1M88 34h1M121 34h1M138 34h1M151 34h2M154 34h1M161 34h1M163 34h1M167 34h1M172 34h1M186 34h1M197 34h1M199 34h1M204 34h2M214 34h1M216 34h1M221 34h1M227 34h1M234 34h1M246 34h1M88 35h1M97 35h1M120 35h3M124 35h1M128 35h1M132 35h1M144 35h1M171 35h1M174 35h1M185 35h1M197 35h1M204 35h1M229 35h1M238 35h1M266 35h1M13 36h1M114 36h1M117 36h1M128 36h1M134 36h2M141 36h1M145 36h1M149 36h1M152 36h1M163 36h1M171 36h1M195 36h1M198 36h2M217 36h1M249 36h1M251 36h1M273 36h1M19 37h1M119 37h1M129 37h1M149 37h1M153 37h1M156 37h1M158 37h1M189 37h1M205 37h1M212 37h1M220 37h2M227 37h1M233 37h1M246 37h1M255 37h2M266 37h1M268 37h1M58 38h1M115 38h1M119 38h1M129 38h1M131 38h1M140 38h1M156 38h2M168 38h2M188 38h1M212 38h1M229 38h1M241 38h1M262 38h1M22 39h1M59 39h1M85 39h1M96 39h1M112 39h1M129 39h1M145 39h1M157 39h1M160 39h1M164 39h1M170 39h1M178 39h2M195 39h1M199 39h1M210 39h1M225 39h2M242 39h1M246 39h1M249 39h1M252 39h1M275 39h1M16 40h1M38 40h1M69 40h1M72 40h1M111 40h1M114 40h1M120 40h2M124 40h1M127 40h1M131 40h1M156 40h2M161 40h1M205 40h1M236 40h1M238 40h1M271 40h1M19 41h1M39 41h1M58 41h1M63 41h1M75 41h1M111 41h1M137 41h1M144 41h2M167 41h1M179 41h1M218 41h1M221 41h1M229 41h1M237 41h1M240 41h1M252 41h1M256 41h1M266 41h1M88 42h1M93 42h1M127 42h1M131 42h1M133 42h1M143 42h1M151 42h1M186 42h1M195 42h1M201 42h1M247 42h1M10 43h1M39 43h1M58 43h1M62 43h1M77 43h1M79 43h1M82 43h2M93 43h1M117 43h1M120 43h2M129 43h2M150 43h1M152 43h1M156 43h1M164 43h1M166 43h2M169 43h2M184 43h1M188 43h1M195 43h1M205 43h2M212 43h1M218 43h1M223 43h2M227 43h1M246 43h1M255 43h1M258 43h1M263 43h1M265 43h1M268 43h1M273 43h4M7 44h1M10 44h1M26 44h1M35 44h1M48 44h1M62 44h3M88 44h1M90 44h1M102 44h1M115 44h1M117 44h1M120 44h1M151 44h1M157 44h1M161 44h1M164 44h1M167 44h1M210 44h1M255 44h1M274 44h1M276 44h1M1 45h1M7 45h1M9 45h1M19 45h1M35 45h2M40 45h1M48 45h1M50 45h1M54 45h3M60 45h1M75 45h1M77 45h1M81 45h1M107 45h1M112 45h1M123 45h1M135 45h1M147 45h1M151 45h1M164 45h1M171 45h1M184 45h1M189 45h1M207 45h1M214 45h1M218 45h1M227 45h1M234 45h1M246 45h1M250 45h1M253 45h1M256 45h1M260 45h1M269 45h1M273 45h1M279 45h1M25 46h1M30 46h1M37 46h1M40 46h1M60 46h1M79 46h1M83 46h1M88 46h1M90 46h1M93 46h1M114 46h1M158 46h1M191 46h1M198 46h1M211 46h2M227 46h1M230 46h1M232 46h1M237 46h1M243 46h1M256 46h1M260 46h1M267 46h1M277 46h1M1 47h1M3 47h1M5 47h1M13 47h2M19 47h1M26 47h1M32 47h1M40 47h1M48 47h1M64 47h1M71 47h1M75 47h1M81 47h1M89 47h1M94 47h1M104 47h1M143 47h1M145 47h1M155 47h1M167 47h1M179 47h2M184 47h1M222 47h1M242 47h1M262 47h1M40 48h1M58 48h1M63 48h1M93 48h1M154 48h1M158 48h1M170 48h1M189 48h1M197 48h1M203 48h1M215 48h1M249 48h1M257 48h1M262 48h1M270 48h1M10 49h1M13 49h1M39 49h1M76 49h1M83 49h1M88 49h1M94 49h1M98 49h1M113 49h1M120 49h1M130 49h1M135 49h1M137 49h1M151 49h1M169 49h1M171 49h1M237 49h1M251 49h1M254 49h1M3 50h1M39 50h1M52 50h1M68 50h1M84 50h1M89 50h1M102 50h1M114 50h1M119 50h2M155 50h1M157 50h1M189 50h1M192 50h1M197 50h1M200 50h1M203 50h1M214 50h1M237 50h1M247 50h1M265 50h1M277 50h1"/>
<path stroke="#c0e6ba" d="M5 0h1M33 0h1M35 0h1M37 0h1M57 0h1M75 0h1M89 0h1M100 0h1M232 0h1M241 0h1M244 0h1M257 0h1M262 0h1M265 0h1M268 0h1M279 0h1M3 1h1M24 1h1M26 1h1M41 1h1M52 1h1M58 1h1M63 1h1M70 1h1M72 1h1M77 1h1M96 1h1M112 1h1M146 1h1M238 1h1M242 1h1M245 1h1M256 1h1M260 1h1M270 1h1M12 2h1M43 2h1M52 2h1M64 2h1M72 2h1M74 2h1M86 2h1M110 2h1M113 2h1M125 2h1M131 2h1M234 2h1M260 2h2M272 2h1M19 3h2M29 3h1M45 3h1M75 3h1M96 3h1M100 3h2M235 3h1M238 3h1M244 3h2M255 3h2M2 4h1M19 4h1M38 4h1M43 4h1M45 4h1M56 4h1M62 4h2M68 4h1M72 4h1M77 4h1M80 4h1M85 4h1M96 4h2M101 4h1M202 4h1M240 4h1M249 4h1M256 4h1M268 4h1M270 4h1M279 4h1M33 5h1M37 5h1M85 5h1M89 5h2M96 5h2M207 5h1M234 5h1M238 5h1M240 5h1M257 5h1M269 5h1M274 5h1M19 6h1M24 6h1M43 6h1M45 6h1M59 6h1M63 6h1M72 6h1M84 6h1M90 6h1M103 6h1M108 6h1M111 6h1M232 6h1M240 6h2M245 6h1M272 6h1M19 7h1M33 7h1M37 7h1M43 7h1M85 7h1M90 7h1M94 7h1M96 7h1M101 7h1M108 7h1M111 7h1M231 7h1M234 7h1M245 7h1M255 7h1M257 7h1M267 7h1M269 7h1M27 8h1M29 8h1M33 8h1M37 8h1M45 8h1M57 8h2M63 8h1M75 8h1M85 8h2M89 8h2M96 8h1M190 8h1M206 8h1M232 8h1M234 8h1M245 8h1M256 8h1M261 8h1M37 9h1M57 9h2M69 9h1M85 9h1M90 9h1M96 9h1M108 9h1M235 9h1M244 9h2M255 9h3M265 9h1M269 9h1M13 10h1M20 10h1M47 10h1M51 10h1M58 10h1M70 10h1M90 10h1M96 10h1M101 10h1M181 10h1M216 10h1M235 10h1M237 10h2M241 10h1M244 10h2M269 10h1M0 11h1M12 11h1M19 11h1M43 11h1M45 11h1M52 11h1M63 11h1M70 11h1M72 11h1M86 11h1M91 11h1M97 11h1M103 11h1M149 11h1M230 11h1M234 11h1M240 11h1M256 11h2M268 11h1M270 11h2M0 12h1M6 12h1M8 12h1M12 12h1M25 12h1M35 12h1M38 12h1M45 12h1M56 12h1M59 12h1M64 12h1M72 12h1M77 12h1M81 12h1M86 12h1M91 12h1M97 12h1M99 12h1M146 12h1M156 12h1M204 12h1M213 12h1M226 12h2M261 12h1M271 12h2M33 13h1M43 13h1M50 13h1M57 13h1M69 13h2M85 13h1M90 13h1M101 13h1M156 13h1M234 13h1M240 13h1M242 13h1M255 13h1M270 13h1M3 14h1M6 14h1M12 14h1M24 14h1M33 14h1M37 14h1M41 14h1M48 14h1M59 14h1M61 14h2M70 14h1M77 14h1M85 14h1M88 14h1M91 14h1M97 14h1M108 14h1M204 14h1M232 14h1M241 14h1M257 14h1M272 14h1M274 14h1M0 15h1M33 15h1M35 15h1M43 15h1M58 15h2M63 15h1M85 15h1M90 15h1M103 15h1M108 15h1M110 15h1M193 15h1M232 15h1M234 15h1M244 15h1M260 15h1M268 15h1M274 15h1M19 16h1M29 16h1M33 16h1M37 16h1M43 16h1M58 16h1M72 16h1M77 16h1M80 16h1M89 16h1M91 16h1M96 16h2M108 16h1M110 16h1M234 16h1M238 16h1M240 16h1M242 16h2M245 16h1M270 16h3M274 16h1M20 17h1M51 17h1M60 17h1M83 17h1M93 17h1M137 17h1M151 17h1M162 17h1M183 17h1M204 17h1M227 17h1M231 17h1M235 17h1M245 17h1M267 17h1M269 17h1M278 17h1M6 18h1M29 18h1M34 18h1M39 18h1M47 18h1M73 18h1M93 18h2M100 18h1M110 18h1M145 18h1M162 18h1M172 18h2M185 18h1M187 18h1M191 18h2M197 18h1M201 18h1M219 18h1M225 18h1M230 18h1M238 18h1M262 18h1M69 19h1M146 19h1M148 19h1M162 19h1M165 19h1M184 19h1M192 19h1M204 19h1M209 19h1M215 19h1M266 19h1M278 19h1M32 20h1M39 20h1M43 20h1M51 20h1M79 20h1M88 20h1M160 20h2M178 20h3M184 20h1M197 20h1M207 20h1M212 20h1M215 20h1M217 20h1M219 20h1M256 20h1M261 20h1M274 20h1M73 21h1M122 21h1M126 21h1M130 21h1M143 21h1M164 21h1M170 21h1M197 21h1M204 21h1M212 21h1M225 21h1M233 21h2M247 21h1M257 21h1M261 21h1M266 21h1M276 21h1M116 22h1M130 22h1M143 22h1M148 22h1M158 22h1M194 22h1M196 22h2M201 22h1M215 22h1M247 22h1M270 22h1M8 23h1M10 23h1M75 23h1M79 23h1M117 23h1M125 23h1M130 23h2M140 23h1M143 23h1M152 23h2M160 23h1M162 23h1M177 23h3M189 23h1M192 23h1M197 23h1M203 23h2M207 23h1M220 23h1M222 23h1M240 23h2M255 23h1M265 23h1M270 23h1M276 23h2M1 24h1M10 24h1M20 24h1M111 24h1M122 24h1M137 24h1M146 24h1M153 24h1M161 24h1M170 24h3M175 24h1M180 24h1M184 24h1M195 24h1M205 24h1M217 24h1M222 24h1M229 24h1M234 24h1M268 24h1M272 24h1M276 24h2M114 25h1M126 25h1M142 25h1M146 25h1M148 25h1M150 25h1M161 25h1M167 25h1M173 25h1M185 25h1M197 25h1M206 25h1M210 25h1M213 25h1M277 25h1M70 26h1M115 26h1M121 26h1M123 26h1M133 26h1M141 26h1M147 26h1M155 26h1M161 26h1M164 26h1M166 26h1M172 26h1M181 26h1M192 26h2M197 26h1M200 26h1M202 26h1M204 26h1M209 26h1M214 26h1M230 26h1M251 26h1M255 26h1M266 26h1M273 26h1M20 27h1M60 27h1M120 27h1M127 27h2M136 27h1M145 27h1M148 27h1M150 27h1M155 27h1M163 27h1M170 27h1M172 27h1M180 27h2M184 27h1M189 27h1M197 27h1M213 27h1M251 27h1M255 27h1M277 27h1M73 28h1M122 28h1M124 28h1M137 28h1M146 28h1M148 28h1M150 28h1M152 28h2M155 28h1M157 28h1M159 28h1M162 28h1M170 28h1M175 28h3M184 28h1M194 28h1M197 28h1M199 28h2M204 28h2M207 28h1M222 28h2M13 29h1M46 29h1M119 29h1M131 29h1M155 29h1M160 29h1M163 29h2M168 29h1M196 29h1M210 29h2M213 29h1M215 29h3M219 29h1M228 29h1M262 29h1M267 29h1M270 29h1M277 29h1M13 30h1M112 30h1M117 30h1M134 30h1M141 30h1M145 30h1M149 30h1M156 30h1M162 30h1M173 30h1M175 30h1M202 30h1M204 30h3M210 30h1M215 30h1M228 30h2M248 30h1M250 30h1M261 30h1M266 30h1M270 30h1M116 31h2M120 31h1M122 31h1M137 31h1M142 31h1M160 31h2M163 31h1M165 31h1M180 31h1M202 31h1M220 31h1M226 31h2M253 31h1M263 31h1M265 31h2M277 31h1M58 32h1M112 32h1M117 32h1M122 32h1M134 32h1M136 32h1M141 32h1M146 32h1M148 32h1M151 32h1M155 32h1M163 32h1M166 32h1M175 32h1M180 32h1M191 32h1M208 32h1M217 32h1M229 32h1M238 32h1M248 32h2M116 33h1M128 33h1M136 33h1M156 33h1M188 33h1M202 33h1M213 33h1M228 33h2M276 33h1M90 34h1M112 34h1M122 34h1M125 34h1M127 34h1M133 34h1M135 34h1M141 34h1M144 34h1M153 34h1M156 34h1M158 34h1M169 34h1M241 34h1M256 34h1M263 34h1M123 35h1M137 35h1M155 35h1M167 35h1M215 35h1M241 35h1M276 35h1M112 36h1M144 36h1M151 36h1M157 36h1M172 36h1M174 36h1M13 37h1M58 37h1M114 37h1M139 37h1M157 37h1M171 37h1M178 37h2M186 37h1M193 37h1M197 37h2M216 37h1M237 37h2M241 37h2M267 37h1M116 38h1M124 38h3M195 38h1M200 38h1M205 38h1M248 38h1M267 38h1M13 39h1M26 39h1M119 39h2M123 39h1M140 39h1M155 39h1M197 39h1M200 39h1M205 39h1M266 39h1M270 39h1M151 40h1M199 40h1M267 40h1M89 41h1M94 41h1M122 41h1M124 41h1M128 41h1M131 41h1M133 41h1M139 41h1M170 41h1M253 41h1M258 41h1M267 41h1M144 42h1M167 42h1M170 42h1M237 42h1M267 42h1M67 43h1M94 43h1M98 43h1M112 43h1M115 43h2M118 43h1M134 43h1M138 43h1M158 43h1M173 43h1M177 43h1M179 43h1M191 43h2M229 43h1M266 43h1M12 44h1M30 44h1M40 44h1M43 44h1M61 44h1M67 44h1M77 44h1M79 44h1M83 44h1M121 44h1M141 44h2M174 44h1M218 44h1M224 44h1M3 45h1M10 45h1M12 45h1M15 45h1M39 45h1M47 45h1M52 45h1M67 45h1M71 45h1M83 45h1M88 45h1M90 45h1M93 45h2M102 45h1M122 45h1M191 45h1M194 45h1M217 45h1M270 45h1M276 45h1M55 46h1M94 46h1M98 46h1M100 46h1M112 46h2M121 46h1M157 46h1M161 46h1M270 46h1M10 47h1M56 47h1M67 47h1M77 47h1M79 47h1M88 47h1M90 47h1M93 47h1M98 47h1M111 47h1M120 47h1M133 47h1M140 47h1M173 47h1M198 47h1M212 47h1M224 47h1M232 47h1M237 47h1M257 47h1M263 47h2M277 47h1M94 48h1M118 48h2M133 48h1M167 48h1M171 48h1M227 48h1M279 48h1M7 49h1M52 49h1M93 49h1M121 49h1M126 49h1M136 49h1M152 49h1M161 49h1M167 49h1M203 49h1M227 49h1M249 49h1M253 49h1M260 49h1M26 50h1M40 50h1M94 50h1M112 50h2M122 50h1M124 50h1M129 50h1M136 50h1M153 50h1M162 50h1M167 50h1M169 50h1M253 50h1M266 50h1M274 50h1"/>
<path stroke="#a6dba0" d="M18 0h1M47 0h1M51 0h1M58 0h1M63 0h1M83 0h1M94 0h1M183 0h1M231 0h1M235 0h1M237 0h1M242 0h2M255 0h1M269 0h1M0 1h1M19 1h1M33 1h1M35 1h1M37 1h1M62 1h1M80 1h1M90 1h1M94 1h1M101 1h1M108 1h1M232 1h1M240 1h1M243 1h1M257 1h1M274 1h1M279 1h1M19 2h1M29 2h1M33 2h1M37 2h1M45 2h1M63 2h1M69 2h1M85 2h1M94 2h1M96 2h1M108 2h1M143 2h1M237 2h1M240 2h2M244 2h2M268 2h1M270 2h1M18 3h1M27 3h1M47 3h1M50 3h2M57 3h2M69 3h1M83 3h1M90 3h1M94 3h1M108 3h1M134 3h1M232 3h1M240 3h1M242 3h2M267 3h4M0 4h1M29 4h1M33 4h1M35 4h1M37 4h1M47 4h1M89 4h2M108 4h1M111 4h2M230 4h1M232 4h1M238 4h1M269 4h1M27 5h1M47 5h1M50 5h1M83 5h1M94 5h1M183 5h1M235 5h1M242 5h1M255 5h1M265 5h1M18 6h1M29 6h1M33 6h1M69 6h1M80 6h1M85 6h1M89 6h1M96 6h1M156 6h1M216 6h1M235 6h1M237 6h2M242 6h1M244 6h1M265 6h1M269 6h2M274 6h1M5 7h1M20 7h1M27 7h1M47 7h1M50 7h1M58 7h1M63 7h1M69 7h1M184 7h1M237 7h1M240 7h1M242 7h1M5 8h1M13 8h1M20 8h1M47 8h1M83 8h1M94 8h1M101 8h1M235 8h1M238 8h1M241 8h1M244 8h1M255 8h1M274 8h1M5 9h1M18 9h1M27 9h1M33 9h1M47 9h1M50 9h1M75 9h1M83 9h1M93 9h2M183 9h1M231 9h1M237 9h1M242 9h1M262 9h1M267 9h1M5 10h1M27 10h1M30 10h1M37 10h1M50 10h1M69 10h1M83 10h1M94 10h1M182 10h2M243 10h1M255 10h1M262 10h1M8 11h1M29 11h1M47 11h1M75 11h1M89 11h2M96 11h1M156 11h1M232 11h1M238 11h1M241 11h1M255 11h1M274 11h1M3 12h1M29 12h1M37 12h1M41 12h1M63 12h1M80 12h1M85 12h1M89 12h2M110 12h2M216 12h1M234 12h1M241 12h1M244 12h1M250 12h1M259 12h1M37 13h1M47 13h1M51 13h1M58 13h1M83 13h1M180 13h1M231 13h2M238 13h1M241 13h1M243 13h3M262 13h1M265 13h1M267 13h1M19 14h1M29 14h1M45 14h1M63 14h1M72 14h1M80 14h1M86 14h1M96 14h1M112 14h1M234 14h1M240 14h1M244 14h1M255 14h2M268 14h1M29 15h1M37 15h1M57 15h1M62 15h1M69 15h1M75 15h1M80 15h1M83 15h1M89 15h1M112 15h1M156 15h1M181 15h1M240 15h2M243 15h1M245 15h1M256 15h2M269 15h1M20 16h1M50 16h1M57 16h1M69 16h1M90 16h1M183 16h1M232 16h1M237 16h1M241 16h1M244 16h1M256 16h1M267 16h2M5 17h1M94 17h1M180 17h1M188 17h1M232 17h3M236 17h1M240 17h1M242 17h2M262 17h1M41 18h1M67 18h1M70 18h1M150 18h1M154 18h1M157 18h2M168 18h1M181 18h1M183 18h2M207 18h1M209 18h1M213 18h1M227 18h1M234 18h1M239 18h1M266 18h1M272 18h1M20 19h1M60 19h1M96 19h1M185 19h1M216 19h1M230 19h1M234 19h1M262 19h1M276 19h1M10 20h1M41 20h1M148 20h1M151 20h1M227 20h1M234 20h1M116 21h1M128 21h1M174 21h1M191 21h2M239 21h1M153 22h1M157 22h1M160 22h1M169 22h1M177 22h1M204 22h1M208 22h2M216 22h1M266 22h1M111 23h1M120 23h1M154 23h1M157 23h1M166 23h1M170 23h4M176 23h1M191 23h1M206 23h1M209 23h1M215 23h1M221 23h1M236 23h1M262 23h1M279 23h1M114 24h1M129 24h1M139 24h1M162 24h1M169 24h1M192 24h1M196 24h2M200 24h1M203 24h1M212 24h1M224 24h1M239 24h1M246 24h2M259 24h1M261 24h1M279 24h1M125 25h1M143 25h1M149 25h1M157 25h2M170 25h1M179 25h3M184 25h1M192 25h1M225 25h1M260 25h1M113 26h1M119 26h1M130 26h1M150 26h1M152 26h1M154 26h1M158 26h2M162 26h1M176 26h1M179 26h2M184 26h1M187 26h1M191 26h1M207 26h2M212 26h1M215 26h3M225 26h1M227 26h1M239 26h1M256 26h1M276 26h1M70 27h1M124 27h1M126 27h1M142 27h1M156 27h2M191 27h1M205 27h1M219 27h1M233 27h1M267 27h1M121 28h1M126 28h1M128 28h1M133 28h1M140 28h1M144 28h1M154 28h1M158 28h1M161 28h1M165 28h1M168 28h1M173 28h1M179 28h1M185 28h1M210 28h1M213 28h1M225 28h1M262 28h1M279 28h1M114 29h1M120 29h1M126 29h1M129 29h1M136 29h1M147 29h2M150 29h2M153 29h1M156 29h1M162 29h1M165 29h1M170 29h1M180 29h1M182 29h1M188 29h1M190 29h1M220 29h1M225 29h3M114 30h1M144 30h1M148 30h1M154 30h2M159 30h1M172 30h1M178 30h4M197 30h2M201 30h1M222 30h1M241 30h1M263 30h1M113 31h1M123 31h1M135 31h1M144 31h1M147 31h2M159 31h1M164 31h1M166 31h1M206 31h1M216 31h1M261 31h2M276 31h1M127 32h2M132 32h1M142 32h1M144 32h1M154 32h1M159 32h1M164 32h1M186 32h1M190 32h1M201 32h1M203 32h1M209 32h1M214 32h2M226 32h1M251 32h1M117 33h1M127 33h1M134 33h2M141 33h1M163 33h1M167 33h1M183 33h1M205 33h1M215 33h1M241 33h1M117 34h1M123 34h1M173 34h1M198 34h1M222 34h1M136 35h1M158 35h1M202 35h1M210 36h1M118 37h1M120 37h1M133 37h1M143 37h1M161 37h1M172 37h1M180 37h1M201 37h1M277 37h1M113 38h1M118 38h1M128 38h1M133 38h2M136 38h1M141 38h1M143 38h1M113 39h1M116 39h1M122 39h1M125 39h1M131 39h2M171 39h1M201 39h1M214 39h1M227 39h1M276 39h1M112 40h1M116 40h1M129 40h1M132 40h1M134 40h1M136 40h2M144 40h2M277 40h1M118 41h1M123 41h1M138 41h1M151 41h1M169 41h1M270 41h1M115 42h1M125 42h1M139 42h1M158 42h1M203 42h1M13 43h1M113 43h1M132 43h1M151 43h1M172 43h1M237 43h1M247 43h1M270 43h1M3 44h1M13 44h1M39 44h1M114 44h1M270 44h1M13 45h1M63 45h1M98 45h1M116 45h1M121 45h1M132 45h1M146 45h1M237 45h1M13 46h1M39 46h1M124 46h1M131 46h1M167 46h1M276 46h1M39 47h1M113 47h1M118 47h1M124 47h1M131 47h1M157 47h2M216 47h1M247 47h1M259 47h1M113 48h1M124 48h1M140 48h1M144 48h1M58 49h1M117 49h1M123 49h1M128 49h1M138 49h2M142 49h1M157 49h2M198 49h1M212 49h1M266 49h1M25 50h1M58 50h1M63 50h1M126 50h1M128 50h1M130 50h1M133 50h2M171 50h1M221 50h1"/>
<path stroke="#80c480" d="M13 0h1M20 0h1M30 0h1M50 0h1M146 0h1M180 0h2M184 0h1M233 0h1M239 0h1M246 0h1M4 1h1M18 1h1M27 1h1M50 1h2M75 1h1M100 1h1M180 1h1M234 1h2M237 1h1M267 1h1M278 1h1M10 2h1M18 2h1M27 2h1M47 2h1M50 2h1M58 2h1M75 2h1M80 2h1M83 2h1M89 2h2M100 2h1M137 2h1M149 2h1M179 2h1M216 2h1M222 2h1M235 2h1M238 2h1M242 2h2M246 2h1M256 2h1M5 3h1M10 3h1M13 3h1M30 3h1M66 3h1M93 3h1M182 3h2M231 3h1M237 3h1M265 3h1M5 4h1M20 4h1M69 4h1M75 4h1M100 4h1M231 4h1M235 4h1M237 4h1M242 4h1M244 4h1M255 4h1M267 4h1M274 4h1M10 5h1M13 5h1M18 5h1M20 5h1M30 5h1M57 5h2M60 5h1M66 5h1M69 5h1M181 5h1M231 5h1M237 5h1M239 5h1M20 6h1M37 6h1M51 6h1M58 6h1M75 6h1M83 6h1M94 6h1M100 6h1M180 6h2M231 6h1M234 6h1M243 6h1M255 6h1M257 6h1M262 6h1M267 6h2M13 7h1M18 7h1M30 7h1M51 7h1M57 7h1M83 7h1M100 7h1M180 7h4M233 7h1M241 7h1M262 7h1M275 7h1M30 8h1M50 8h2M69 8h1M93 8h1M100 8h1M140 8h1M181 8h1M237 8h1M242 8h2M257 8h1M262 8h1M265 8h1M13 9h1M20 9h1M51 9h1M60 9h1M66 9h1M100 9h1M180 9h3M232 9h1M240 9h1M243 9h1M246 9h1M10 10h1M18 10h1M66 10h1M93 10h1M184 10h1M233 10h1M239 10h1M265 10h1M35 11h1M37 11h1M50 11h1M58 11h1M83 11h1M100 11h1M112 11h1M181 11h1M231 11h1M233 11h1M235 11h1M267 11h1M269 11h1M20 12h1M33 12h1M51 12h1M57 12h1M61 12h2M70 12h1M75 12h1M83 12h1M94 12h1M96 12h1M101 12h1M108 12h1M137 12h1M233 12h1M235 12h1M237 12h2M240 12h1M245 12h1M249 12h1M256 12h2M267 12h2M270 12h1M274 12h1M10 13h1M13 13h1M18 13h1M20 13h1M30 13h1M40 13h1M66 13h1M100 13h1M179 13h1M235 13h1M237 13h1M246 13h1M257 13h1M269 13h1M274 13h1M5 14h1M18 14h1M35 14h1M47 14h1M50 14h1M58 14h1M69 14h1M89 14h2M100 14h2M180 14h1M235 14h1M238 14h1M242 14h2M245 14h1M262 14h1M5 15h1M13 15h1M18 15h1M20 15h1M27 15h1M47 15h1M50 15h2M77 15h1M94 15h1M100 15h2M180 15h1M235 15h1M237 15h2M262 15h1M267 15h1M270 15h1M27 16h1M47 16h1M75 16h1M83 16h1M93 16h2M100 16h2M180 16h1M231 16h1M255 16h1M257 16h1M260 16h1M269 16h1M27 17h1M67 17h1M182 17h1M216 17h1M246 17h1M250 17h1M257 17h1M261 17h1M272 17h1M10 18h2M155 18h2M167 18h1M179 18h1M199 18h1M222 18h1M240 18h1M267 18h1M260 19h1M70 20h1M77 20h1M156 20h1M163 20h1M222 20h1M239 20h1M260 20h1M142 21h1M151 21h1M159 21h1M162 21h1M185 21h1M279 21h1M155 22h1M162 22h1M165 22h1M167 22h1M199 22h2M116 23h1M128 23h1M146 23h1M148 23h1M168 23h1M175 23h1M183 23h1M210 23h1M216 23h1M234 23h1M73 24h1M148 24h2M155 24h1M159 24h2M168 24h1M198 24h2M204 24h1M207 24h1M214 24h1M216 24h1M266 24h1M269 24h1M93 25h1M139 25h1M151 25h2M160 25h1M162 25h2M168 25h1M203 25h2M216 25h1M222 25h1M279 25h1M62 26h1M117 26h1M139 26h1M146 26h1M149 26h1M168 26h2M175 26h1M177 26h1M199 26h1M271 26h1M114 27h2M122 27h1M134 27h1M138 27h1M143 27h1M152 27h1M158 27h2M162 27h1M164 27h2M167 27h1M175 27h1M177 27h2M204 27h1M207 27h1M215 27h2M227 27h1M114 28h1M118 28h1M130 28h1M143 28h1M167 28h1M260 28h1M278 28h1M116 29h1M125 29h1M139 29h1M145 29h1M152 29h1M158 29h1M161 29h1M169 29h1M172 29h1M178 29h1M194 29h1M278 29h1M123 30h1M128 30h1M157 30h1M164 30h1M170 30h2M174 30h1M195 30h1M276 30h1M114 31h1M134 31h1M150 31h1M157 31h2M173 31h1M195 31h1M242 31h1M267 31h1M137 32h2M153 32h1M165 32h1M172 32h1M177 32h1M195 32h1M202 32h1M205 32h1M227 32h1M276 32h1M279 32h1M133 33h1M137 33h1M152 33h1M171 33h1M190 33h1M193 33h1M195 33h1M198 33h1M221 33h1M223 33h1M248 33h1M252 33h1M267 33h1M269 33h1M278 33h1M137 34h1M171 34h1M229 34h1M251 34h1M278 35h2M63 36h1M161 36h1M186 36h1M278 36h2M108 37h1M115 37h2M121 37h1M124 37h1M130 37h1M132 37h1M144 37h1M163 37h1M204 37h1M249 37h2M276 37h1M121 38h1M135 38h1M171 38h1M215 38h1M277 38h2M47 39h1M121 39h1M126 39h1M142 39h2M148 39h1M279 39h1M123 40h1M133 40h1M135 40h1M140 40h2M276 40h1M119 41h1M125 41h1M129 41h1M132 41h1M140 41h1M172 41h1M279 41h1M117 42h1M121 42h1M123 42h1M129 42h1M134 42h1M141 42h1M279 42h1M114 43h1M128 43h1M139 43h1M157 43h1M171 43h1M277 43h1M58 44h1M94 44h1M128 44h1M178 44h1M233 44h1M26 45h1M114 45h2M125 45h2M128 45h1M277 45h1M14 46h1M28 46h1M118 46h1M133 46h1M137 46h1M139 46h2M171 46h1M9 47h1M45 47h1M58 47h1M136 47h1M171 47h1M258 47h1M270 47h1M88 48h1M114 48h1M117 48h1M120 48h1M127 48h1M131 48h1M135 48h1M165 48h1M246 48h1M277 48h1M63 49h1M114 49h1M132 49h1M247 49h1M276 49h2M279 49h1M71 50h1M117 50h1M132 50h1M135 50h1M142 50h1M270 50h1"/>
<path stroke="#5aae61" d="M10 0h1M60 0h1M66 0h1M70 0h1M93 0h1M112 0h1M179 0h1M182 0h1M267 0h1M5 1h1M13 1h1M20 1h1M42 1h1M47 1h1M57 1h1M69 1h1M83 1h1M89 1h1M182 1h2M216 1h1M231 1h1M233 1h1M241 1h1M244 1h1M262 1h1M265 1h1M269 1h1M5 2h1M13 2h1M20 2h1M30 2h1M51 2h1M60 2h1M66 2h1M82 2h1M91 2h1M93 2h1M128 2h1M181 2h3M233 2h1M255 2h1M257 2h1M262 2h1M60 3h1M68 3h1M169 3h1M180 3h2M184 3h1M233 3h1M239 3h1M246 3h1M262 3h1M13 4h1M18 4h1M27 4h1M50 4h2M57 4h2M83 4h1M94 4h1M166 4h1M180 4h2M183 4h1M234 4h1M239 4h1M241 4h1M243 4h1M257 4h1M262 4h1M265 4h1M5 5h1M93 5h1M100 5h1M179 5h2M184 5h1M233 5h1M241 5h1M246 5h1M10 6h1M13 6h1M27 6h1M30 6h1M47 6h1M50 6h1M57 6h1M66 6h1M105 6h1M183 6h2M246 6h1M10 7h1M60 7h1M66 7h1M93 7h1M179 7h1M246 7h1M10 8h1M18 8h1M60 8h1M66 8h1M119 8h1M180 8h1M183 8h1M231 8h1M233 8h1M236 8h1M239 8h2M246 8h1M267 8h3M6 9h1M30 9h1M145 9h1M184 9h1M228 9h1M233 9h1M239 9h1M60 10h1M131 10h1M179 10h2M196 10h1M231 10h1M246 10h2M18 11h1M20 11h1M30 11h1M40 11h1M51 11h1M57 11h1M60 11h1M69 11h1M94 11h1M179 11h1M182 11h1M237 11h1M242 11h1M245 11h1M265 11h1M27 12h1M47 12h1M58 12h1M69 12h1M92 12h1M100 12h1M232 12h1M265 12h1M269 12h1M5 13h1M27 13h1M99 13h1M181 13h4M233 13h1M239 13h1M247 13h1M20 14h1M27 14h1M30 14h1M51 14h1M57 14h1M75 14h1M93 14h1M181 14h1M231 14h1M237 14h1M246 14h1M265 14h1M267 14h1M269 14h1M72 15h1M182 15h3M203 15h1M233 15h1M255 15h1M265 15h1M18 16h1M30 16h1M32 16h1M51 16h1M60 16h1M181 16h2M184 16h1M233 16h1M246 16h1M262 16h1M265 16h1M10 17h1M169 17h1M178 17h2M184 17h1M239 17h1M241 17h1M268 17h1M151 18h1M204 18h1M215 18h1M31 19h1M99 19h1M164 19h1M167 19h1M227 19h1M263 19h1M279 19h1M146 20h1M167 20h2M199 20h1M241 20h1M246 20h1M272 20h1M39 21h1M79 21h1M156 21h1M209 21h1M278 21h1M134 22h1M58 23h1M135 23h1M138 23h1M151 23h1M155 23h2M158 23h1M165 23h1M167 23h1M186 23h1M199 23h1M226 23h1M230 23h1M278 23h1M134 24h1M150 24h1M187 24h1M213 24h1M215 24h1M227 24h1M278 24h1M134 25h1M145 25h1M155 25h2M164 25h1M199 25h1M207 25h1M217 25h1M227 25h1M29 26h2M114 26h1M124 26h2M131 26h2M137 26h2M145 26h1M148 26h1M157 26h1M163 26h1M167 26h1M171 26h1M178 26h1M196 26h1M277 26h1M94 27h1M117 27h1M132 27h1M135 27h1M151 27h1M161 27h1M174 27h1M217 27h1M260 27h1M113 28h1M120 28h1M125 28h1M132 28h1M134 28h1M139 28h1M142 28h1M145 28h1M151 28h1M178 28h1M227 28h1M117 29h1M134 29h1M143 29h1M154 29h1M166 29h1M174 29h1M179 29h1M189 29h1M198 29h1M205 29h2M132 30h1M147 30h1M158 30h1M160 30h2M176 30h1M255 30h1M279 30h1M152 31h1M156 31h1M169 31h1M172 31h1M197 31h1M212 31h1M273 31h1M156 32h2M161 32h1M169 32h1M171 32h1M212 32h1M75 33h1M157 33h1M277 33h1M276 34h2M117 35h1M176 35h1M221 35h1M113 37h1M125 37h1M131 37h1M137 37h1M140 37h1M248 37h1M251 37h3M278 37h1M120 38h1M123 38h1M127 38h1M137 38h3M114 39h2M124 39h1M127 39h2M137 39h1M163 39h1M198 39h1M239 39h1M117 40h1M122 40h1M128 40h1M138 40h1M278 40h1M12 41h1M113 41h2M116 41h1M126 41h2M130 41h1M142 41h1M171 41h1M276 41h1M278 41h1M113 42h1M118 42h1M126 42h1M137 42h2M208 42h1M277 42h1M61 43h1M135 43h1M142 43h1M71 44h1M91 44h1M116 44h1M183 44h1M203 44h1M263 44h1M117 45h2M129 45h1M136 45h2M117 46h1M120 46h1M127 46h3M136 46h1M141 46h1M179 46h1M279 46h1M15 47h1M114 47h1M119 47h1M121 47h1M128 47h1M268 47h1M276 47h1M278 47h1M116 48h1M121 48h1M126 48h1M130 48h1M136 48h2M118 49h1M127 49h1M129 49h1M141 49h1M15 50h1M49 50h1M87 50h1M125 50h1M141 50h1M227 50h1M255 50h1M279 50h1"/>
<path stroke="#3a934c" d="M92 0h1M247 0h1M10 1h1M30 1h1M60 1h1M66 1h1M93 1h1M126 1h1M179 1h1M181 1h1M184 1h1M219 1h1M239 1h1M246 1h1M255 1h1M275 1h1M57 2h1M231 2h1M265 2h1M267 2h1M269 2h1M274 2h1M179 3h1M241 3h1M10 4h1M146 4h1M184 4h1M233 4h1M246 4h1M67 5h2M106 5h1M267 5h1M5 6h1M60 6h1M62 6h1M93 6h1M162 6h1M182 6h1M236 6h1M239 7h1M247 7h1M112 8h1M179 8h1M182 8h1M184 8h1M247 8h1M10 9h1M147 9h1M236 9h1M238 9h1M247 9h1M275 9h1M44 10h1M236 10h1M275 10h1M10 11h1M13 11h1M27 11h1M93 11h1M111 11h1M239 11h1M243 11h1M262 11h1M2 12h1M5 12h1M10 12h1M13 12h1M18 12h1M24 12h1M28 12h1M50 12h1M66 12h2M179 12h1M181 12h1M184 12h1M193 12h1M211 12h1M231 12h1M242 12h1M246 12h1M255 12h1M60 13h1M93 13h2M214 13h1M236 13h1M13 14h1M60 14h1M66 14h1M78 14h1M94 14h1M182 14h2M10 15h1M30 15h1M60 15h1M66 15h1M95 15h2M120 15h1M239 15h1M242 15h1M3 16h1M10 16h1M13 16h1M62 16h1M66 16h1M104 16h1M154 16h1M179 16h1M239 16h1M247 16h1M275 16h1M181 17h1M206 17h1M237 17h1M244 17h1M255 17h1M40 18h1M52 18h1M141 18h1M164 18h1M276 18h1M150 19h1M23 20h1M78 20h1M82 20h1M92 20h1M210 20h1M150 21h1M199 21h1M85 22h1M159 22h1M233 22h1M93 23h1M145 23h1M159 23h1M163 23h1M227 23h1M266 23h1M75 24h1M127 24h1M131 24h1M136 24h1M141 24h2M145 24h1M156 24h3M177 24h1M185 24h1M208 24h1M225 24h1M243 24h1M260 24h1M116 25h1M136 25h1M278 25h1M94 26h1M116 26h1M127 26h1M134 26h1M136 26h1M143 26h2M151 26h1M156 26h1M119 27h1M130 27h1M137 27h1M199 27h1M278 27h1M47 28h1M116 28h1M119 28h1M127 28h1M129 28h1M138 28h1M212 28h1M216 28h1M239 28h1M276 28h1M18 29h1M122 29h3M135 29h1M141 29h1M144 29h1M175 29h1M243 29h1M268 29h1M152 30h1M169 30h1M200 30h1M69 31h1M151 31h1M171 31h1M174 31h1M150 32h1M158 32h1M167 32h1M199 32h1M277 32h1M112 33h1M142 33h1M153 33h1M64 34h1M134 34h1M179 34h1M279 34h1M34 35h1M94 35h1M116 35h1M138 35h1M201 35h1M252 35h2M277 35h1M24 36h1M44 36h1M212 36h1M246 36h1M276 36h1M56 37h1M112 37h1M128 37h1M136 37h1M141 37h2M229 37h1M254 37h1M273 37h1M279 37h1M81 38h1M114 38h1M276 38h1M17 39h1M133 39h1M138 39h1M144 39h1M202 39h1M142 40h1M248 40h1M115 41h1M117 41h1M120 41h2M135 41h1M277 41h1M18 42h1M116 42h1M120 42h1M132 42h1M142 42h1M181 42h1M141 43h1M203 43h1M279 43h1M279 44h1M58 45h1M113 45h1M119 45h2M124 45h1M134 45h1M138 45h1M252 45h1M58 46h1M116 46h1M119 46h1M122 46h1M130 46h1M135 46h1M115 47h1M132 47h1M134 47h1M139 47h1M279 47h1M17 48h1M115 48h1M129 48h1M134 48h1M139 48h1M141 48h2M278 48h1M95 49h1M97 49h1M116 49h1M220 49h1M137 50h1M147 50h1"/>
<path stroke="#1b7837" d="M27 0h1M236 0h1M275 0h1M29 1h1M85 1h1M101 2h1M180 2h1M184 2h1M239 2h1M275 2h1M277 2h1M236 3h1M11 4h1M30 4h1M41 4h1M60 4h1M66 4h1M93 4h1M103 4h1M179 4h1M182 4h1M236 4h1M51 5h1M109 5h1M247 5h1M262 5h1M275 5h1M158 6h1M179 6h1M227 6h1M239 6h1M247 6h1M67 7h1M67 8h1M88 8h1M272 8h1M275 8h1M67 9h1M179 9h1M100 10h1M218 10h1M5 11h1M38 11h1M66 11h1M79 11h1M126 11h1M180 11h1M183 11h2M246 11h2M275 11h1M19 12h1M30 12h1M60 12h1M93 12h1M180 12h1M182 12h2M262 12h1M32 13h1M96 13h1M275 13h1M10 14h1M43 14h1M83 14h1M151 14h1M179 14h1M184 14h1M233 14h1M239 14h1M247 14h1M270 14h1M275 14h1M19 15h1M41 15h1M93 15h1M216 15h1M231 15h1M236 15h1M246 15h2M5 16h1M145 16h1M236 16h1M96 17h1M176 17h1M247 17h1M275 17h1M253 18h1M96 20h1M164 20h1M22 21h1M168 21h1M178 21h1M271 21h1M277 21h1M156 22h1M169 23h1M248 23h1M116 24h1M128 24h1M151 24h2M164 24h1M176 24h1M178 24h1M186 24h1M232 24h1M190 25h1M122 26h1M126 26h1M128 26h1M165 26h1M131 27h1M141 27h1M168 27h1M186 27h1M117 28h1M131 28h1M135 28h1M156 28h1M106 29h1M121 29h1M128 29h1M138 29h1M171 29h1M145 32h1M152 32h1M160 32h1M174 32h1M178 32h1M187 32h2M192 32h1M220 32h1M230 33h1M10 34h1M145 34h1M81 35h1M133 35h1M210 35h1M250 35h1M254 35h1M137 36h1M63 37h1M81 37h1M127 37h1M134 37h1M132 38h1M144 38h1M41 39h1M117 39h1M135 39h2M139 39h1M141 39h1M189 39h1M224 39h1M74 40h1M254 40h1M134 41h1M94 42h1M114 42h1M119 42h1M130 42h1M136 42h1M179 42h1M199 42h1M276 42h1M125 43h1M50 44h1M78 44h1M25 45h1M79 45h1M130 45h1M139 45h1M141 45h1M196 45h1M257 45h1M278 45h1M115 46h1M125 46h2M142 46h1M261 46h1M278 46h1M117 47h1M125 47h1M135 47h1M138 47h1M142 47h1M241 47h1M125 48h1M132 48h1M168 48h1M92 49h1M252 49h1M258 49h1M278 49h1M115 50h1M158 50h1M161 50h1"/>
<path stroke="#0e5e29" d="M67 0h1M232 2h1M236 2h1M247 2h1M67 3h1M247 3h1M275 3h1M247 4h1M236 5h1M275 6h1M101 11h1M236 11h1M236 12h1M239 12h1M247 12h1M275 12h1M67 13h1M256 13h1M236 14h1M179 15h1M275 15h1M67 16h1M221 18h1M221 21h1M164 23h1M167 24h1M112 26h1M120 26h1M136 28h1M127 29h1M137 29h1M137 30h1M145 31h1M138 33h1M248 35h2M251 35h1M228 36h1M123 37h1M117 38h1M122 38h1M142 38h1M134 39h1M278 39h1M139 40h1M249 40h5M136 41h1M141 41h1M126 43h1M213 43h1M278 44h1M127 45h1M142 45h1M132 46h1M116 47h1M127 47h1M137 47h1M278 50h1"/>
<path stroke="#00441b" d="M67 1h1M236 1h1M247 1h1M67 2h1M67 4h1M275 4h1M67 6h1M236 7h1M67 11h1M67 14h1M67 15h1M129 26h1M135 26h1M142 26h1M278 26h1M116 27h1M129 27h1M142 29h1M157 29h1M117 37h1M135 37h1M138 37h1M128 42h1M278 42h1M278 43h1M133 45h1M134 46h1M138 46h1M122 47h1M126 47h1M129 47h2M141 47h1M128 48h1"/>
</g></g></g>
<defs><clipPath id="cl663"><rect x="778.00" y="663.70" width="978.70" height="537.90"/></clipPath></defs>
<g clip-path="url(#cl663)"><g filter="url(#jpeg)"><g transform="translate(778.00 668.97) scale(3.49536 10.54706)" fill="none" stroke-width="1" shape-rendering="crispEdges">
<path stroke="#40004b" d="M237 10h1M240 10h1M257 12h1M253 36h1M120 37h1M248 37h2M250 38h2M248 39h1M254 40h1"/>
<path stroke="#5b1567" d="M254 9h1M252 10h1M254 10h1M233 12h1M249 12h1M248 28h1M253 28h1M248 32h1M137 35h1M250 36h2M254 37h1M128 38h1M249 38h1M252 38h2M253 39h1M249 40h1M252 40h1"/>
<path stroke="#762a83" d="M176 3h1M209 5h1M57 6h1M183 6h1M189 6h1M23 9h1M248 9h1M252 9h1M126 10h1M238 10h1M248 10h1M208 11h1M276 11h1M239 12h1M251 12h1M5 13h1M160 13h1M164 13h1M219 13h1M197 14h1M204 14h1M268 14h1M109 15h1M162 15h1M215 16h1M187 17h1M164 18h1M169 18h1M222 19h1M279 19h1M187 20h1M208 20h1M148 21h1M167 21h1M246 21h1M125 22h1M200 22h1M172 23h1M192 23h1M201 23h1M222 23h1M149 24h1M160 24h1M152 25h1M149 26h1M158 26h1M229 26h1M240 26h1M95 27h1M111 27h1M173 27h1M199 27h1M249 28h1M251 28h2M254 28h1M147 29h1M207 29h1M212 29h1M236 29h1M75 30h1M212 30h1M266 30h1M56 32h1M93 32h1M249 32h3M81 35h1M217 35h1M136 36h1M248 36h1M252 36h1M251 37h2M118 38h1M130 38h1M190 39h1M251 39h1M254 39h1M37 40h1M213 40h1M248 40h1M263 40h1M278 42h1M138 43h1M147 43h1M180 43h1M143 44h1M161 44h1M225 44h1M264 44h1M274 44h1M223 45h1M225 45h1M141 46h1M86 47h1M190 47h1M56 48h1M244 50h1"/>
<path stroke="#884d97" d="M238 0h1M79 2h1M149 2h1M189 2h1M206 2h1M30 3h1M69 4h1M241 4h1M33 5h1M78 5h1M81 5h1M199 5h1M239 5h1M17 6h1M21 6h1M43 6h1M51 6h1M75 6h1M134 6h1M143 6h1M202 6h1M207 6h1M242 6h1M245 6h2M269 6h1M119 8h1M208 8h1M210 8h1M52 9h1M197 9h1M249 9h3M249 10h2M253 10h1M148 11h1M193 11h1M16 12h1M104 12h1M222 12h1M248 12h1M252 12h1M264 12h1M234 13h1M246 13h1M23 14h1M37 14h1M98 14h1M121 14h1M240 14h1M272 14h1M30 15h1M97 15h1M122 15h1M149 15h1M249 15h1M270 15h1M274 15h1M197 16h1M255 16h1M64 17h1M102 17h1M140 17h1M202 17h1M227 17h1M27 18h1M81 18h1M102 19h1M143 19h1M213 19h1M234 19h1M59 20h1M68 20h1M92 20h1M102 20h1M109 20h1M113 20h1M116 20h1M133 20h1M118 21h1M136 21h1M154 21h1M51 22h1M141 22h1M184 22h1M54 23h1M98 23h1M97 24h1M114 24h1M26 25h1M43 25h1M99 25h1M156 25h1M181 25h1M186 25h1M277 25h1M40 26h1M82 26h1M230 26h1M52 27h1M54 27h1M77 27h1M157 27h1M229 27h1M236 27h1M231 28h1M250 28h1M43 29h1M116 29h1M225 29h1M213 30h1M15 31h1M195 31h1M8 32h1M43 32h1M66 32h1M87 32h1M131 32h1M148 32h1M166 32h1M171 32h1M173 32h1M224 32h1M229 32h1M233 32h1M252 32h3M2 33h1M151 33h1M221 33h1M70 34h1M123 34h1M145 34h1M65 35h1M133 35h1M136 35h1M236 35h1M266 35h1M114 36h1M249 36h1M254 36h1M51 37h1M167 37h1M173 37h1M196 37h1M250 37h1M253 37h1M168 38h1M244 38h1M248 38h1M249 39h2M252 39h1M6 41h1M71 41h1M129 41h1M151 41h1M160 41h1M186 41h1M197 41h1M261 41h1M141 42h1M151 43h1M200 43h1M274 43h1M277 43h1M22 44h1M27 44h1M137 44h1M203 44h1M45 45h1M60 45h1M113 45h1M121 45h1M187 45h1M194 45h1M255 45h1M112 46h1M134 46h1M144 46h1M278 46h1M38 47h1M106 47h1M208 47h1M210 47h1M214 47h1M271 47h1M256 48h1M144 49h1M147 49h1M6 50h1M57 50h1M107 50h1M177 50h1M233 50h1"/>
<path stroke="#9970ab" d="M125 0h1M172 0h1M87 1h1M46 2h1M161 2h1M254 2h1M279 2h1M139 3h1M192 3h1M240 4h1M12 5h1M40 5h1M51 5h1M56 5h1M126 5h1M185 5h1M9 6h1M56 6h1M68 6h1M85 6h1M88 6h1M114 6h1M137 6h1M155 6h1M225 6h1M158 7h1M271 7h1M112 8h1M229 8h1M273 8h1M54 9h1M253 9h1M194 10h1M239 10h1M243 10h1M121 11h1M169 11h1M179 11h1M199 11h1M248 11h1M87 12h1M243 12h1M250 12h1M254 12h1M14 13h1M118 13h1M124 13h1M180 13h1M242 13h1M50 14h1M54 14h1M91 14h1M170 14h1M192 14h1M239 14h1M21 15h1M96 15h1M99 15h1M188 15h1M252 15h1M254 15h1M63 16h1M262 16h1M17 17h2M30 17h1M103 17h1M234 17h1M255 17h2M48 19h1M116 19h1M139 19h1M168 19h1M236 19h1M244 19h1M62 20h1M205 20h1M235 20h1M93 21h1M130 21h1M150 21h1M193 21h1M14 22h1M138 22h1M186 22h1M215 22h1M16 25h1M66 25h1M169 25h1M221 25h1M28 26h1M41 26h1M66 26h1M98 26h1M199 26h1M228 26h1M114 27h1M135 27h1M139 27h1M168 28h1M3 29h1M45 29h1M189 29h1M245 29h1M257 29h1M166 30h1M191 30h1M201 30h1M230 30h1M31 31h1M63 31h1M45 32h1M50 32h1M63 32h1M112 32h1M115 32h1M139 32h1M198 32h1M209 32h1M239 32h1M67 33h1M71 33h1M141 33h1M183 33h1M276 33h1M10 34h1M34 35h2M47 35h1M59 35h1M103 35h1M111 35h1M176 35h1M196 35h1M214 35h1M27 37h1M52 37h1M56 37h1M137 37h1M278 37h1M25 38h1M113 38h1M154 38h1M225 38h1M241 38h1M254 38h1M272 38h1M20 40h1M28 40h1M35 40h1M133 40h1M137 40h1M218 40h1M251 40h1M253 40h1M98 41h1M113 41h1M159 41h1M192 41h1M257 41h1M171 42h1M217 42h1M25 43h1M158 43h1M177 43h1M189 43h1M245 43h1M25 44h1M39 44h1M67 44h1M81 44h1M130 44h1M192 44h1M212 44h1M13 45h1M29 45h1M110 45h1M145 45h1M209 45h1M257 45h1M270 45h1M1 46h1M28 47h1M67 47h1M157 47h1M189 47h1M195 47h1M264 47h1M91 48h1M259 48h1M279 48h1M2 49h1M176 49h1M278 49h1M106 50h1M230 50h1"/>
<path stroke="#ae8abd" d="M65 0h1M192 0h1M129 2h1M237 2h1M248 2h1M250 2h1M242 4h2M247 4h1M43 5h1M50 5h1M87 5h1M95 5h1M134 5h1M215 5h1M277 5h1M32 6h1M112 6h1M132 6h1M154 6h1M168 6h1M215 6h1M239 6h1M2 8h1M170 8h1M269 8h1M130 9h1M278 9h1M67 10h1M87 10h1M162 10h1M251 10h1M265 10h1M8 11h1M35 11h1M57 11h1M160 11h1M182 11h1M188 11h1M238 11h1M68 12h1M148 12h1M208 12h1M212 12h1M246 12h1M253 12h1M151 13h1M216 13h1M269 13h1M272 13h1M30 14h1M103 14h1M111 14h1M202 14h1M209 14h1M234 14h1M95 15h1M116 15h1M169 15h1M198 15h1M248 15h1M258 15h1M269 15h1M236 16h1M137 17h1M145 17h2M188 17h1M215 17h1M239 17h1M274 17h1M14 18h1M16 18h1M70 18h1M136 18h1M162 18h1M182 18h1M227 18h1M266 18h1M4 19h1M12 19h1M80 19h1M96 19h1M256 19h1M135 20h1M181 20h1M34 21h1M36 21h1M58 21h1M96 21h1M180 21h1M153 22h2M212 22h1M46 24h1M106 24h1M204 24h1M74 25h1M88 25h1M175 25h1M189 25h1M216 25h1M84 26h1M242 26h1M23 27h1M243 27h1M263 27h1M10 29h1M125 29h1M208 29h1M3 30h1M164 30h1M226 31h1M9 32h1M34 32h1M94 32h1M118 32h1M202 32h1M220 32h1M264 32h1M39 34h1M58 34h1M116 34h1M122 34h1M163 34h1M214 34h1M217 34h1M233 34h1M18 35h1M113 35h1M119 35h1M153 35h2M161 35h1M193 35h1M221 35h1M275 35h1M124 36h1M166 36h1M169 36h1M43 37h1M140 37h1M120 38h1M208 38h1M217 38h1M111 39h1M200 39h1M212 39h1M149 40h1M220 40h1M250 40h1M278 40h1M35 41h1M48 41h1M142 41h1M199 41h1M33 44h1M48 44h1M58 44h1M106 44h1M142 44h1M152 44h1M170 44h1M184 44h1M204 44h1M275 44h1M69 45h1M81 45h1M105 45h1M226 45h1M261 45h1M21 46h1M138 46h1M238 46h1M66 47h1M87 47h2M140 47h1M187 47h1M9 48h1M270 48h1M28 50h1M61 50h1M91 50h1M195 50h1"/>
<path stroke="#c2a5cf" d="M19 0h1M189 0h1M145 1h1M216 1h1M229 1h1M234 1h1M47 2h1M108 2h1M127 2h1M249 2h1M251 2h3M258 2h1M277 2h1M189 3h1M13 4h1M154 4h1M202 4h1M210 4h1M245 4h2M27 5h1M42 5h1M142 5h1M178 5h1M230 5h1M237 5h2M247 5h1M259 5h1M10 6h1M54 6h1M120 6h1M125 6h1M221 6h1M258 6h1M22 7h1M66 7h1M132 7h1M37 8h1M270 8h1M70 9h1M18 10h1M58 10h1M64 10h1M93 10h2M149 10h1M168 10h1M199 10h1M41 11h1M64 11h1M141 11h1M145 11h1M154 11h1M168 11h1M204 11h1M207 11h1M241 11h1M43 12h1M47 12h1M67 12h1M241 12h1M244 12h1M256 12h1M261 12h1M272 12h1M277 12h1M198 13h1M209 13h1M274 13h1M123 14h1M146 14h1M218 14h1M229 14h1M4 15h1M14 15h1M27 15h1M37 15h1M76 15h1M79 15h1M253 15h1M260 15h1M47 17h1M90 17h1M114 17h1M121 17h1M129 17h1M217 17h1M8 18h1M46 18h1M108 18h1M170 18h1M178 18h1M163 19h2M138 20h1M168 20h1M201 20h1M74 21h1M168 21h1M185 21h1M247 21h1M73 22h1M93 22h1M70 23h1M120 23h1M209 23h1M95 24h1M68 25h1M118 25h1M198 25h1M202 25h1M212 25h1M241 25h1M72 26h1M260 26h1M47 27h1M79 27h1M90 27h1M146 27h1M217 27h1M255 27h1M28 28h1M27 29h1M67 29h1M74 29h1M105 29h1M166 29h1M250 29h1M255 29h1M258 29h1M137 30h1M178 30h1M208 30h1M16 31h1M165 31h1M221 31h1M3 32h1M24 32h1M37 32h1M81 32h1M178 32h1M189 32h1M231 32h1M68 33h1M110 33h1M127 33h1M138 33h1M160 33h1M167 33h1M223 33h1M259 33h1M5 34h1M18 34h1M92 34h1M101 34h1M119 34h1M134 34h1M166 34h1M172 34h1M174 34h1M199 34h1M238 34h1M240 34h2M254 34h1M90 35h1M93 35h1M101 35h1M127 35h1M140 35h1M198 35h1M202 35h1M264 35h1M269 35h1M69 36h1M172 36h1M200 36h1M207 36h1M237 36h1M243 36h1M256 36h1M2 37h1M11 37h1M150 37h1M199 37h1M269 37h1M189 38h1M58 39h1M95 39h1M191 39h1M209 39h1M227 39h1M233 39h1M18 40h1M142 40h1M172 40h1M196 40h1M38 41h2M52 41h1M97 41h1M174 41h1M177 41h1M277 42h1M12 43h1M34 43h1M82 43h1M119 43h1M132 43h1M154 43h1M202 43h1M255 43h1M35 44h1M42 44h1M147 44h1M149 44h1M236 44h1M256 44h1M200 45h1M247 45h1M54 46h1M121 46h1M189 46h1M35 47h1M71 47h1M109 47h1M146 47h1M54 48h1M128 48h1M187 48h1M73 49h1M12 50h1M157 50h1M213 50h1"/>
<path stroke="#d4bcdc" d="M124 0h1M154 0h1M24 1h1M101 1h1M123 1h1M166 1h1M217 1h1M238 1h1M243 1h1M261 1h1M277 1h2M5 2h1M25 2h1M54 2h1M74 2h1M94 2h1M232 2h1M238 2h1M241 2h1M243 2h1M39 3h1M85 3h1M133 3h1M156 3h1M187 3h1M266 3h1M15 4h1M138 4h1M146 4h1M163 4h1M187 4h1M198 4h1M217 4h2M244 4h1M262 4h1M38 5h1M154 5h1M161 5h1M166 5h1M198 5h1M221 5h1M232 5h1M235 5h1M262 5h1M98 6h1M156 6h1M224 6h1M229 6h1M231 6h1M241 6h1M254 6h1M257 6h1M268 6h1M275 6h1M54 7h1M97 7h1M112 7h1M177 7h1M193 7h1M201 7h1M225 7h1M275 7h1M12 8h1M169 8h1M238 8h1M3 9h1M30 9h2M110 9h1M183 9h1M189 9h1M261 9h1M12 10h1M14 10h2M42 10h1M68 10h1M74 10h1M81 10h1M119 10h1M129 10h1M133 10h1M135 10h1M151 10h1M166 10h1M179 10h1M188 10h1M191 10h1M196 10h1M203 10h1M208 10h1M217 10h1M241 10h1M244 10h1M260 10h1M12 11h1M15 11h1M17 11h1M70 11h1M85 11h1M93 11h1M95 11h1M114 11h1M149 11h2M156 11h1M180 11h1M190 11h1M194 11h1M200 11h1M203 11h1M222 11h1M236 11h1M12 12h1M52 12h1M72 12h1M132 12h1M154 12h1M178 12h1M194 12h1M230 12h1M269 12h1M15 13h1M22 13h1M65 13h1M81 13h1M145 13h1M189 13h1M196 13h1M259 13h2M18 14h1M52 14h1M68 14h1M70 14h1M74 14h1M128 14h1M134 14h1M154 14h1M177 14h1M181 14h1M184 14h1M196 14h1M208 14h1M215 14h1M237 14h1M243 14h1M259 14h1M266 14h1M276 14h1M154 15h1M184 15h1M207 15h1M214 15h1M229 15h1M237 15h1M243 15h1M250 15h1M259 15h1M264 15h1M266 15h1M268 15h1M166 16h1M189 16h1M207 16h1M229 16h1M269 16h1M94 17h1M161 17h1M189 17h1M278 17h1M41 18h1M89 18h1M131 18h1M172 18h1M189 18h1M195 18h1M225 18h1M234 18h1M242 18h1M244 18h1M246 18h1M3 19h1M209 19h1M30 20h1M39 20h1M50 20h1M82 20h1M98 20h1M106 20h1M117 20h1M142 20h1M156 20h1M166 20h1M169 20h1M172 20h1M178 20h1M212 20h1M237 20h1M241 20h1M244 20h1M257 20h1M259 20h1M270 20h1M1 21h1M41 21h1M77 21h1M110 21h1M135 21h1M151 21h1M165 21h1M189 21h1M195 21h1M218 21h1M226 21h2M237 21h1M241 21h1M12 22h1M17 22h1M19 22h1M38 22h1M108 22h1M111 22h1M145 22h1M164 22h1M167 22h1M178 22h1M187 22h1M194 22h1M220 22h1M227 22h1M232 22h1M234 22h1M236 22h1M238 22h1M262 22h1M265 22h1M267 22h1M49 24h1M270 24h1M276 24h1M3 25h1M5 25h1M11 25h1M160 25h1M180 25h1M208 25h1M214 25h1M227 25h1M232 25h1M238 25h1M169 26h1M178 26h1M198 26h1M204 26h1M213 26h3M235 26h1M237 26h2M243 26h1M5 27h1M70 27h1M136 27h1M141 27h1M155 27h1M212 27h1M216 27h1M231 27h1M173 28h1M175 28h1M196 28h1M220 28h1M229 28h1M237 28h1M24 29h1M168 29h1M134 30h1M172 30h1M249 30h1M4 31h1M27 31h1M69 31h1M74 31h1M84 31h1M92 31h1M148 31h1M166 31h1M169 31h1M181 31h1M217 31h1M229 31h1M5 32h1M32 32h1M35 32h1M68 32h1M71 32h1M79 32h1M105 32h1M142 32h1M172 32h1M184 32h1M187 32h1M195 32h1M230 32h1M262 32h1M12 33h1M31 33h1M35 33h1M47 33h1M54 33h1M69 33h2M79 33h1M83 33h1M125 33h2M154 33h1M181 33h2M206 33h1M213 33h1M217 33h1M222 33h1M232 33h1M239 33h3M243 33h1M255 33h1M265 33h1M11 34h1M16 34h1M19 34h1M21 34h1M24 34h1M30 34h1M40 34h1M60 34h1M62 34h1M71 34h1M76 34h1M80 34h1M85 34h1M87 34h1M89 34h2M104 34h1M109 34h1M111 34h1M118 34h1M121 34h1M141 34h2M154 34h1M158 34h1M165 34h1M169 34h1M171 34h1M178 34h1M181 34h1M189 34h1M195 34h2M198 34h1M204 34h1M206 34h1M209 34h1M211 34h1M216 34h1M220 34h3M224 34h1M229 34h1M234 34h2M256 34h2M260 34h1M270 34h1M274 34h1M54 35h1M96 35h1M124 35h1M174 35h1M190 35h1M201 35h1M218 35h1M244 35h1M67 36h1M70 36h1M74 36h1M91 36h1M93 36h1M110 36h2M145 36h1M180 36h1M192 36h1M209 36h1M216 36h1M229 36h1M247 36h1M70 37h1M119 37h1M128 37h1M162 37h1M217 37h1M70 38h1M82 38h1M94 38h1M112 38h1M140 38h1M162 38h1M172 38h1M204 38h1M207 38h1M213 38h1M216 38h1M226 38h1M247 38h1M260 38h1M269 38h1M3 39h2M52 39h1M70 39h1M73 39h1M97 39h1M100 39h1M112 39h1M123 39h1M148 39h1M152 39h1M157 39h1M170 39h1M198 39h1M205 39h1M215 39h1M217 39h1M241 39h1M259 39h1M264 39h1M276 39h2M22 40h1M46 40h1M71 40h1M73 40h1M140 40h1M145 40h1M153 40h1M156 40h1M166 40h1M222 40h1M237 40h1M11 41h1M131 41h1M200 41h1M208 41h1M210 41h1M215 41h1M14 42h1M132 42h1M165 42h1M199 42h1M213 42h1M240 42h1M244 42h1M3 43h1M5 43h1M17 43h1M39 43h1M111 43h1M131 43h1M137 43h1M157 43h1M162 43h1M168 43h1M195 43h2M198 43h1M213 43h1M215 43h1M265 43h1M270 43h1M20 44h1M63 44h1M70 44h1M73 44h1M93 44h1M127 44h2M141 44h1M150 44h1M185 44h1M190 44h1M202 44h1M215 44h1M221 44h1M239 44h1M267 44h1M12 45h1M71 45h1M74 45h1M97 45h1M150 45h1M188 45h1M199 45h1M217 45h1M231 45h1M260 45h1M263 45h1M265 45h1M278 45h1M7 46h1M32 46h1M63 46h1M71 46h1M97 46h1M130 46h1M266 46h1M95 47h1M112 47h1M142 47h1M166 47h1M173 47h1M184 47h1M209 47h1M222 47h1M225 47h1M234 47h1M260 47h1M182 48h1M195 48h1M202 48h1M205 48h1M222 48h1M227 48h1M240 48h1M272 48h1M69 49h1M217 49h1M235 49h1M260 49h2M38 50h1M133 50h1M154 50h1M172 50h1M206 50h1M216 50h1M236 50h1M238 50h1"/>
<path stroke="#e7d4e8" d="M9 0h1M17 0h1M24 0h1M27 0h1M30 0h1M61 0h1M103 0h1M142 0h1M162 0h1M196 0h1M200 0h1M209 0h1M217 0h1M222 0h1M4 1h1M12 1h1M14 1h1M27 1h1M38 1h1M46 1h2M63 1h1M68 1h1M76 1h1M91 1h1M110 1h1M122 1h1M125 1h1M129 1h1M142 1h1M148 1h2M156 1h2M161 1h1M163 1h1M165 1h1M167 1h1M172 1h1M182 1h1M190 1h1M196 1h1M199 1h1M201 1h1M205 1h1M226 1h2M236 1h2M247 1h1M259 1h1M273 1h1M3 2h1M80 2h1M92 2h1M101 2h1M120 2h1M130 2h1M165 2h1M198 2h1M207 2h1M220 2h1M222 2h2M257 2h1M260 2h1M23 3h1M31 3h1M74 3h1M132 3h1M138 3h1M141 3h1M144 3h1M172 3h1M177 3h1M190 3h1M206 3h2M214 3h1M217 3h1M223 3h1M236 3h1M240 3h1M4 4h1M30 4h1M37 4h1M39 4h1M41 4h2M54 4h1M68 4h1M70 4h2M81 4h2M87 4h1M90 4h1M153 4h1M162 4h1M166 4h1M174 4h1M176 4h1M194 4h1M206 4h2M223 4h1M236 4h1M254 4h2M261 4h1M270 4h1M278 4h1M0 5h1M3 5h1M21 5h1M39 5h1M47 5h1M53 5h1M60 5h1M67 5h1M72 5h1M74 5h1M76 5h1M104 5h1M106 5h1M109 5h1M111 5h1M119 5h1M125 5h1M143 5h1M145 5h1M148 5h2M153 5h1M164 5h2M168 5h1M170 5h1M174 5h1M177 5h1M184 5h1M186 5h1M188 5h3M193 5h1M200 5h1M203 5h1M223 5h1M225 5h1M236 5h1M241 5h1M244 5h1M246 5h1M253 5h1M271 5h1M276 5h1M3 6h1M28 6h1M49 6h2M63 6h1M87 6h1M92 6h1M95 6h1M107 6h1M109 6h1M115 6h1M123 6h1M127 6h1M131 6h1M148 6h2M157 6h1M164 6h1M166 6h1M173 6h1M193 6h1M208 6h1M211 6h1M233 6h1M236 6h1M238 6h1M243 6h1M249 6h1M252 6h1M262 6h1M276 6h1M278 6h2M85 7h1M108 7h1M131 7h1M139 7h1M142 7h1M150 7h1M155 7h1M164 7h1M167 7h1M172 7h2M181 7h1M195 7h1M198 7h1M208 7h1M226 7h1M229 7h1M239 7h2M243 7h1M257 7h1M1 8h1M16 8h1M52 8h1M56 8h1M140 8h1M157 8h1M162 8h1M173 8h1M187 8h1M191 8h1M199 8h2M223 8h1M241 8h1M243 8h1M258 8h1M260 8h2M2 9h1M26 9h1M47 9h1M92 9h1M97 9h1M122 9h1M142 9h1M149 9h1M168 9h1M187 9h1M200 9h1M226 9h1M235 9h1M274 9h1M276 9h2M8 10h1M19 10h1M23 10h1M38 10h1M51 10h2M54 10h1M59 10h1M69 10h1M78 10h1M83 10h1M89 10h2M106 10h1M109 10h1M111 10h1M114 10h1M116 10h1M122 10h2M125 10h1M130 10h1M141 10h1M143 10h1M145 10h1M150 10h1M153 10h1M157 10h2M163 10h2M170 10h1M173 10h1M175 10h1M182 10h1M185 10h1M195 10h1M200 10h2M209 10h1M213 10h1M218 10h1M220 10h2M226 10h1M229 10h1M231 10h1M233 10h1M256 10h1M262 10h1M264 10h1M276 10h1M9 11h1M43 11h1M49 11h1M52 11h1M54 11h1M58 11h1M82 11h2M88 11h1M96 11h1M101 11h1M108 11h1M110 11h1M127 11h1M139 11h1M147 11h1M152 11h1M157 11h2M165 11h1M167 11h1M172 11h1M177 11h1M189 11h1M192 11h1M198 11h1M201 11h1M211 11h1M214 11h1M217 11h2M223 11h1M225 11h1M240 11h1M243 11h1M253 11h1M256 11h1M260 11h2M263 11h1M17 12h1M24 12h1M30 12h2M70 12h1M122 12h1M130 12h1M133 12h1M149 12h1M160 12h2M205 12h1M217 12h1M226 12h2M229 12h1M232 12h1M234 12h1M236 12h1M238 12h1M240 12h1M242 12h1M255 12h1M265 12h2M268 12h1M270 12h2M274 12h1M25 13h1M32 13h1M66 13h1M83 13h1M99 13h1M110 13h2M125 13h1M138 13h1M148 13h1M157 13h1M166 13h3M172 13h1M195 13h1M200 13h1M217 13h1M222 13h1M226 13h3M235 13h1M240 13h1M258 13h1M267 13h1M2 14h1M4 14h1M16 14h2M20 14h1M28 14h2M42 14h1M46 14h1M57 14h1M65 14h1M73 14h1M76 14h1M81 14h2M84 14h2M89 14h1M100 14h1M102 14h1M108 14h1M118 14h2M122 14h1M125 14h1M135 14h1M147 14h1M159 14h1M164 14h1M167 14h1M169 14h1M172 14h1M189 14h1M193 14h1M198 14h1M203 14h1M212 14h3M217 14h1M219 14h1M227 14h1M256 14h1M258 14h1M264 14h1M270 14h1M274 14h2M38 15h3M127 15h1M139 15h3M145 15h1M163 15h1M171 15h1M183 15h1M187 15h1M201 15h1M208 15h2M251 15h1M256 15h1M261 15h2M265 15h1M9 16h1M49 16h1M53 16h1M114 16h1M127 16h1M151 16h1M172 16h1M180 16h2M187 16h1M238 16h1M241 16h1M20 17h1M59 17h1M76 17h1M81 17h1M92 17h2M123 17h1M136 17h1M151 17h1M162 17h1M164 17h1M172 17h1M175 17h1M191 17h1M199 17h1M209 17h1M222 17h1M224 17h1M226 17h1M228 17h1M233 17h1M259 17h3M265 17h1M275 17h1M74 18h1M79 18h1M83 18h1M112 18h1M119 18h1M127 18h1M138 18h1M145 18h1M154 18h1M163 18h1M175 18h1M177 18h1M183 18h1M186 18h1M200 18h1M204 18h1M208 18h1M216 18h1M218 18h1M228 18h1M238 18h1M241 18h1M256 18h1M265 18h1M269 18h1M5 19h1M24 19h1M49 19h1M85 19h1M111 19h1M119 19h1M124 19h1M149 19h1M167 19h1M187 19h1M197 19h1M208 19h1M226 19h1M229 19h2M238 19h1M268 19h1M0 20h1M8 20h1M22 20h1M24 20h1M31 20h1M60 20h1M74 20h1M85 20h1M89 20h1M100 20h1M120 20h1M122 20h1M137 20h1M146 20h1M148 20h1M171 20h1M196 20h2M199 20h1M216 20h1M218 20h1M222 20h1M234 20h1M238 20h1M260 20h1M264 20h1M11 21h1M15 21h1M22 21h1M28 21h1M30 21h1M35 21h1M68 21h3M76 21h1M81 21h1M85 21h1M92 21h1M95 21h1M106 21h1M111 21h1M116 21h1M122 21h1M125 21h1M137 21h2M144 21h1M146 21h1M156 21h1M159 21h1M162 21h1M171 21h1M177 21h2M182 21h1M186 21h1M201 21h1M212 21h1M217 21h1M220 21h1M223 21h2M229 21h2M235 21h2M239 21h1M243 21h1M257 21h1M260 21h1M269 21h1M271 21h1M273 21h1M2 22h1M7 22h1M15 22h1M33 22h1M41 22h1M53 22h3M70 22h1M78 22h1M91 22h1M98 22h1M112 22h1M116 22h1M123 22h1M126 22h2M139 22h1M162 22h1M168 22h2M175 22h1M179 22h1M183 22h1M207 22h1M209 22h1M217 22h2M225 22h2M237 22h1M261 22h1M266 22h1M268 22h2M278 22h1M78 23h1M81 23h1M86 23h1M129 23h1M164 23h1M177 23h1M185 23h2M188 23h1M206 23h1M208 23h1M238 23h2M245 23h1M5 24h1M53 24h1M85 24h1M199 24h1M266 24h2M14 25h1M31 25h1M85 25h1M96 25h1M121 25h2M125 25h1M127 25h1M138 25h1M153 25h1M161 25h1M163 25h1M168 25h1M178 25h1M192 25h1M225 25h2M242 25h1M270 25h1M73 26h2M81 26h1M103 26h1M118 26h1M125 26h1M155 26h1M161 26h2M189 26h2M195 26h1M203 26h1M207 26h1M259 26h1M261 26h1M276 26h2M12 27h1M19 27h1M53 27h1M68 27h1M74 27h1M98 27h1M109 27h1M115 27h1M118 27h1M125 27h1M152 27h1M154 27h1M156 27h1M159 27h1M164 27h1M187 27h1M190 27h1M196 27h1M221 27h1M224 27h1M232 27h1M240 27h1M257 27h1M265 27h1M3 28h1M37 28h1M41 28h1M43 28h1M60 28h1M70 28h2M114 28h1M116 28h1M155 28h1M157 28h1M174 28h1M179 28h1M189 28h1M202 28h1M213 28h1M223 28h1M235 28h1M240 28h1M256 28h1M273 28h1M20 29h1M53 29h1M64 29h1M70 29h2M92 29h1M134 29h1M154 29h1M161 29h1M177 29h1M184 29h1M195 29h1M198 29h1M200 29h1M202 29h1M234 29h1M269 29h1M15 30h1M30 30h1M49 30h1M78 30h1M81 30h1M107 30h1M138 30h1M154 30h1M165 30h1M167 30h1M189 30h1M195 30h1M199 30h1M202 30h2M216 30h1M222 30h1M227 30h1M235 30h1M252 30h1M260 30h1M269 30h1M18 31h1M24 31h1M32 31h1M47 31h1M62 31h1M70 31h1M93 31h2M101 31h1M107 31h1M122 31h1M129 31h1M138 31h1M142 31h1M157 31h1M159 31h1M170 31h1M172 31h1M187 31h1M189 31h1M194 31h1M200 31h1M204 31h1M206 31h1M208 31h1M210 31h1M212 31h1M223 31h1M225 31h1M230 31h1M233 31h1M237 31h1M240 31h1M267 31h1M36 32h1M49 32h1M54 32h1M70 32h1M73 32h1M83 32h1M111 32h1M114 32h1M122 32h1M124 32h1M130 32h1M151 32h1M155 32h1M161 32h1M163 32h1M174 32h1M208 32h1M215 32h1M218 32h2M223 32h1M238 32h1M261 32h1M269 32h1M1 33h1M3 33h1M9 33h3M15 33h1M17 33h1M21 33h1M43 33h1M52 33h2M61 33h1M75 33h1M87 33h1M91 33h1M94 33h1M115 33h1M119 33h1M133 33h1M152 33h2M162 33h1M165 33h1M169 33h1M171 33h3M184 33h1M187 33h2M191 33h1M197 33h3M202 33h1M208 33h1M212 33h1M215 33h1M226 33h1M234 33h1M254 33h1M257 33h1M262 33h2M266 33h1M271 33h1M3 34h1M17 34h1M22 34h2M27 34h1M31 34h1M35 34h4M43 34h1M49 34h1M55 34h1M63 34h2M74 34h1M81 34h1M83 34h1M88 34h1M93 34h1M95 34h1M100 34h1M103 34h1M106 34h1M108 34h1M112 34h1M117 34h1M127 34h3M136 34h1M139 34h2M143 34h1M148 34h1M152 34h2M156 34h1M160 34h3M164 34h1M177 34h1M179 34h1M184 34h2M187 34h1M191 34h1M197 34h1M200 34h1M202 34h2M205 34h1M210 34h1M215 34h1M226 34h1M228 34h1M242 34h1M255 34h1M261 34h3M268 34h1M276 34h1M0 35h1M5 35h1M7 35h1M12 35h1M14 35h1M41 35h1M46 35h1M52 35h1M56 35h1M68 35h1M76 35h1M83 35h1M106 35h1M135 35h1M144 35h2M149 35h1M159 35h1M163 35h1M167 35h1M199 35h1M210 35h1M212 35h1M215 35h1M219 35h1M235 35h1M259 35h1M262 35h1M272 35h1M10 36h1M25 36h1M36 36h1M39 36h1M46 36h1M50 36h1M58 36h1M82 36h1M95 36h1M117 36h1M122 36h1M126 36h1M135 36h1M137 36h1M141 36h1M149 36h2M157 36h2M160 36h1M162 36h1M167 36h1M178 36h1M189 36h2M202 36h1M208 36h1M218 36h1M224 36h1M238 36h1M242 36h1M255 36h1M259 36h1M264 36h1M266 36h1M270 36h1M275 36h1M278 36h1M17 37h1M40 37h2M54 37h1M67 37h1M72 37h1M84 37h1M89 37h1M93 37h1M96 37h2M133 37h1M147 37h1M151 37h1M154 37h1M172 37h1M183 37h1M191 37h1M194 37h1M198 37h1M227 37h1M235 37h2M241 37h1M244 37h1M274 37h1M276 37h1M12 38h1M17 38h1M24 38h1M49 38h2M53 38h2M57 38h1M111 38h1M129 38h1M141 38h1M150 38h1M155 38h1M161 38h1M170 38h1M174 38h1M178 38h1M190 38h1M198 38h1M200 38h1M202 38h1M210 38h1M236 38h1M239 38h2M255 38h1M259 38h1M262 38h2M265 38h1M0 39h1M10 39h1M15 39h1M38 39h1M43 39h1M53 39h1M55 39h1M66 39h1M71 39h1M76 39h1M83 39h2M94 39h1M99 39h1M114 39h1M120 39h1M125 39h1M132 39h2M135 39h2M138 39h1M141 39h2M145 39h1M153 39h1M159 39h1M161 39h1M163 39h1M169 39h1M177 39h1M180 39h1M184 39h1M189 39h1M195 39h1M199 39h1M201 39h1M206 39h1M208 39h1M216 39h1M223 39h1M230 39h1M243 39h1M245 39h1M256 39h1M263 39h1M266 39h1M271 39h2M274 39h1M1 40h1M5 40h2M30 40h1M49 40h1M59 40h1M69 40h1M74 40h1M76 40h1M81 40h1M97 40h1M100 40h1M103 40h1M105 40h1M114 40h1M131 40h1M139 40h1M155 40h1M160 40h2M165 40h1M177 40h1M185 40h1M189 40h1M195 40h1M198 40h1M206 40h1M208 40h2M241 40h2M258 40h1M9 41h1M12 41h1M20 41h1M36 41h1M63 41h1M69 41h2M74 41h1M81 41h1M92 41h2M96 41h1M122 41h1M130 41h1M148 41h2M163 41h1M165 41h2M175 41h1M190 41h1M201 41h1M204 41h1M214 41h1M243 41h2M264 41h1M8 42h1M31 42h1M37 42h1M49 42h1M56 42h1M70 42h1M101 42h1M110 42h1M112 42h1M118 42h1M121 42h1M127 42h1M133 42h1M148 42h2M154 42h2M166 42h1M172 42h1M179 42h1M184 42h1M188 42h2M194 42h1M200 42h2M207 42h1M209 42h2M222 42h1M234 42h1M241 42h1M258 42h1M10 43h1M24 43h1M31 43h1M36 43h2M49 43h2M73 43h1M75 43h1M78 43h1M81 43h1M84 43h1M108 43h1M125 43h1M139 43h1M142 43h1M149 43h1M155 43h1M163 43h1M166 43h1M172 43h1M184 43h1M188 43h1M190 43h1M203 43h1M208 43h2M217 43h1M227 43h1M233 43h1M235 43h1M238 43h6M257 43h1M262 43h1M3 44h1M14 44h1M24 44h1M47 44h1M49 44h1M53 44h1M55 44h2M68 44h1M71 44h1M78 44h1M95 44h1M97 44h1M99 44h1M101 44h1M107 44h1M131 44h1M154 44h1M156 44h1M162 44h2M173 44h1M183 44h1M194 44h1M196 44h1M201 44h1M208 44h1M222 44h1M240 44h2M278 44h1M3 45h1M27 45h1M53 45h1M111 45h1M116 45h1M130 45h1M139 45h1M152 45h1M154 45h1M159 45h1M165 45h1M167 45h1M202 45h1M210 45h1M218 45h1M238 45h2M250 45h1M276 45h1M5 46h1M25 46h1M74 46h1M78 46h1M92 46h1M105 46h1M116 46h1M142 46h1M154 46h1M157 46h1M174 46h1M179 46h1M182 46h1M190 46h1M194 46h1M196 46h1M201 46h1M210 46h1M212 46h1M215 46h1M273 46h1M277 46h1M5 47h1M46 47h1M51 47h1M68 47h1M74 47h1M82 47h1M97 47h3M105 47h1M118 47h1M152 47h1M154 47h1M163 47h1M167 47h1M197 47h1M207 47h1M239 47h1M241 47h1M247 47h1M256 47h1M258 47h1M263 47h1M266 47h1M269 47h1M16 48h1M27 48h1M35 48h1M43 48h1M71 48h1M76 48h1M82 48h2M101 48h1M108 48h1M111 48h1M138 48h1M143 48h1M157 48h1M160 48h1M164 48h1M169 48h1M176 48h1M179 48h1M189 48h1M192 48h1M197 48h2M204 48h1M206 48h1M216 48h1M218 48h1M225 48h1M229 48h1M233 48h1M239 48h1M241 48h1M266 48h1M277 48h1M3 49h1M7 49h1M33 49h1M42 49h1M81 49h1M95 49h1M123 49h1M140 49h1M171 49h1M204 49h1M210 49h1M221 49h1M225 49h1M233 49h1M241 49h1M266 49h1M3 50h1M17 50h1M30 50h1M41 50h1M53 50h1M63 50h1M68 50h1M75 50h1M93 50h1M105 50h1M108 50h1M110 50h1M132 50h1M143 50h1M147 50h2M173 50h2M179 50h1M182 50h1M184 50h1M190 50h1M192 50h1M196 50h2M199 50h1M225 50h1M231 50h1M241 50h1M245 50h1M264 50h1"/>
<path stroke="#efe6f0" d="M2 0h1M7 0h1M15 0h1M20 0h1M35 0h1M38 0h1M41 0h1M62 0h1M90 0h2M93 0h1M97 0h1M101 0h1M106 0h1M132 0h1M148 0h1M153 0h1M156 0h1M161 0h1M163 0h1M170 0h1M179 0h1M187 0h1M195 0h1M199 0h1M208 0h1M212 0h2M218 0h2M229 0h2M234 0h2M243 0h2M252 0h1M259 0h1M263 0h1M267 0h1M1 1h1M9 1h1M11 1h1M18 1h1M22 1h1M41 1h1M50 1h1M54 1h1M59 1h1M67 1h1M70 1h1M72 1h1M74 1h1M78 1h1M92 1h1M96 1h1M108 1h1M111 1h2M120 1h1M126 1h3M134 1h1M138 1h1M140 1h1M154 1h1M162 1h1M168 1h1M170 1h1M173 1h2M178 1h1M187 1h1M189 1h1M194 1h1M198 1h1M200 1h1M203 1h1M206 1h1M209 1h1M213 1h1M218 1h1M224 1h1M233 1h1M239 1h4M248 1h1M253 1h1M256 1h1M264 1h1M268 1h2M15 2h1M21 2h1M26 2h1M51 2h1M56 2h1M68 2h1M71 2h1M93 2h1M106 2h1M132 2h1M138 2h1M162 2h1M171 2h1M175 2h1M186 2h1M210 2h1M212 2h1M225 2h1M234 2h1M240 2h1M255 2h1M262 2h1M5 3h1M14 3h1M16 3h1M24 3h1M27 3h1M37 3h1M45 3h1M49 3h1M55 3h1M70 3h1M79 3h1M81 3h1M89 3h1M94 3h1M101 3h1M105 3h1M110 3h3M134 3h1M160 3h1M163 3h2M166 3h1M169 3h1M173 3h1M178 3h3M195 3h1M208 3h1M213 3h1M229 3h1M231 3h2M235 3h1M242 3h2M259 3h1M261 3h1M264 3h1M0 4h1M11 4h1M17 4h2M31 4h1M35 4h1M49 4h2M56 4h1M63 4h1M74 4h1M85 4h1M96 4h1M101 4h1M103 4h1M110 4h3M115 4h1M123 4h3M132 4h1M141 4h1M145 4h1M151 4h2M155 4h1M157 4h1M160 4h2M164 4h1M171 4h2M177 4h2M180 4h2M185 4h1M188 4h2M195 4h2M200 4h1M204 4h1M208 4h2M212 4h2M216 4h1M225 4h1M229 4h1M232 4h1M234 4h1M248 4h1M252 4h1M259 4h1M265 4h1M276 4h2M1 5h1M9 5h3M14 5h2M18 5h1M20 5h1M24 5h2M30 5h2M35 5h1M46 5h1M59 5h1M63 5h1M65 5h1M71 5h1M73 5h1M92 5h2M98 5h1M100 5h1M116 5h2M121 5h2M124 5h1M128 5h2M131 5h2M135 5h1M138 5h2M147 5h1M150 5h1M155 5h1M162 5h2M167 5h1M173 5h1M175 5h2M181 5h3M191 5h2M195 5h1M202 5h1M204 5h1M211 5h2M217 5h1M222 5h1M240 5h1M245 5h1M254 5h1M257 5h1M264 5h1M275 5h1M0 6h1M2 6h1M11 6h1M18 6h1M30 6h1M38 6h1M42 6h1M58 6h1M64 6h1M66 6h1M70 6h1M74 6h1M83 6h1M89 6h1M101 6h1M105 6h1M111 6h1M119 6h1M122 6h1M138 6h1M141 6h2M146 6h1M150 6h3M161 6h1M170 6h2M177 6h1M179 6h2M185 6h4M191 6h1M194 6h1M196 6h1M200 6h1M203 6h1M212 6h3M217 6h1M219 6h1M226 6h1M232 6h1M234 6h1M240 6h1M255 6h1M260 6h2M266 6h1M277 6h1M1 7h1M3 7h1M6 7h1M14 7h3M19 7h2M25 7h1M30 7h1M32 7h1M39 7h1M48 7h1M55 7h1M62 7h2M71 7h1M73 7h1M77 7h1M81 7h1M86 7h1M88 7h1M96 7h1M99 7h1M103 7h1M105 7h1M110 7h1M123 7h1M136 7h1M140 7h1M144 7h3M152 7h1M156 7h1M166 7h1M169 7h2M182 7h3M194 7h1M199 7h2M205 7h1M209 7h1M212 7h1M216 7h1M218 7h2M227 7h1M230 7h1M232 7h1M234 7h2M237 7h1M241 7h1M247 7h1M258 7h3M262 7h1M269 7h1M273 7h2M278 7h1M3 8h1M7 8h1M11 8h1M18 8h1M31 8h1M69 8h1M77 8h1M80 8h2M90 8h1M95 8h1M97 8h2M104 8h1M106 8h1M116 8h1M148 8h1M150 8h1M163 8h2M179 8h1M181 8h1M192 8h1M201 8h2M211 8h1M220 8h1M222 8h1M225 8h1M232 8h1M240 8h1M244 8h1M254 8h1M259 8h1M262 8h1M266 8h1M268 8h1M278 8h1M40 9h2M55 9h1M60 9h1M63 9h1M74 9h1M81 9h1M101 9h1M108 9h1M123 9h3M127 9h1M129 9h1M134 9h1M139 9h2M157 9h1M166 9h1M177 9h1M184 9h1M188 9h1M192 9h1M195 9h2M198 9h1M201 9h2M205 9h2M210 9h1M212 9h2M215 9h1M223 9h2M227 9h2M233 9h1M236 9h1M241 9h1M259 9h2M265 9h2M268 9h2M272 9h1M279 9h1M1 10h1M3 10h1M5 10h1M13 10h1M16 10h1M24 10h1M27 10h2M32 10h1M34 10h1M36 10h1M39 10h1M43 10h1M56 10h1M65 10h1M70 10h1M91 10h2M96 10h1M99 10h1M101 10h1M103 10h1M105 10h1M107 10h1M110 10h1M112 10h1M115 10h1M120 10h2M127 10h2M137 10h1M142 10h1M146 10h1M154 10h2M161 10h1M169 10h1M178 10h1M180 10h2M187 10h1M204 10h2M207 10h1M214 10h1M219 10h1M227 10h2M242 10h1M255 10h1M257 10h2M266 10h1M271 10h2M274 10h2M1 11h1M4 11h1M11 11h1M18 11h1M28 11h1M37 11h3M53 11h1M56 11h1M59 11h1M65 11h5M71 11h1M74 11h1M81 11h1M92 11h1M97 11h1M104 11h2M111 11h1M117 11h1M125 11h1M130 11h1M136 11h1M140 11h1M142 11h1M153 11h1M159 11h1M161 11h1M166 11h1M170 11h2M176 11h1M183 11h1M186 11h2M197 11h1M206 11h1M209 11h2M226 11h4M231 11h1M237 11h1M244 11h3M257 11h1M259 11h1M266 11h1M269 11h2M273 11h1M275 11h1M277 11h1M5 12h1M20 12h1M22 12h1M25 12h1M42 12h1M53 12h1M88 12h1M97 12h1M103 12h1M116 12h1M119 12h1M140 12h1M143 12h1M145 12h2M150 12h1M168 12h1M171 12h1M173 12h1M184 12h1M193 12h1M195 12h1M197 12h1M203 12h1M210 12h1M214 12h1M216 12h1M221 12h1M237 12h1M259 12h2M262 12h1M267 12h1M2 13h1M6 13h1M9 13h1M21 13h1M26 13h1M35 13h1M45 13h1M63 13h1M70 13h1M97 13h1M106 13h2M112 13h1M114 13h2M120 13h1M123 13h1M131 13h1M133 13h1M139 13h2M144 13h1M153 13h1M158 13h1M163 13h1M165 13h1M169 13h2M176 13h2M193 13h2M202 13h1M212 13h1M221 13h1M223 13h1M229 13h1M233 13h1M237 13h2M244 13h1M247 13h1M261 13h1M279 13h1M0 14h1M5 14h2M8 14h1M11 14h1M15 14h1M25 14h1M27 14h1M31 14h1M35 14h1M39 14h1M41 14h1M53 14h1M55 14h1M71 14h1M78 14h2M97 14h1M101 14h1M106 14h1M109 14h1M113 14h1M115 14h2M124 14h1M127 14h1M139 14h2M145 14h1M148 14h3M156 14h1M165 14h2M168 14h1M175 14h2M180 14h1M183 14h1M187 14h1M190 14h2M195 14h1M201 14h1M205 14h1M211 14h1M216 14h1M220 14h1M224 14h1M226 14h1M230 14h1M241 14h1M244 14h1M247 14h1M251 14h1M255 14h1M262 14h1M265 14h1M269 14h1M278 14h1M3 15h1M23 15h1M52 15h1M62 15h2M70 15h2M73 15h1M87 15h1M93 15h1M98 15h1M152 15h1M155 15h1M157 15h1M160 15h1M166 15h2M173 15h1M176 15h1M181 15h2M189 15h1M213 15h1M215 15h1M223 15h1M226 15h1M230 15h1M236 15h1M244 15h1M246 15h2M276 15h1M3 16h1M5 16h1M19 16h3M23 16h1M27 16h1M39 16h1M67 16h1M74 16h1M93 16h2M118 16h1M122 16h2M125 16h1M130 16h1M133 16h1M138 16h1M146 16h2M149 16h1M154 16h1M161 16h1M164 16h1M168 16h2M173 16h1M176 16h2M199 16h1M202 16h1M208 16h3M216 16h1M225 16h1M232 16h1M259 16h3M3 17h1M10 17h1M12 17h1M24 17h2M43 17h1M50 17h1M69 17h2M73 17h1M99 17h1M106 17h1M109 17h1M115 17h1M128 17h1M134 17h1M139 17h1M147 17h1M152 17h1M154 17h1M158 17h1M163 17h1M166 17h1M168 17h2M178 17h1M184 17h1M193 17h1M195 17h1M197 17h1M204 17h1M214 17h1M232 17h1M235 17h1M238 17h1M243 17h2M19 18h1M23 18h1M31 18h1M37 18h1M39 18h1M42 18h1M53 18h1M58 18h2M76 18h1M82 18h1M85 18h1M92 18h2M100 18h1M111 18h1M113 18h1M122 18h1M125 18h1M128 18h1M137 18h1M142 18h1M146 18h1M150 18h1M152 18h2M156 18h1M159 18h1M166 18h1M168 18h1M185 18h1M187 18h1M198 18h1M201 18h1M205 18h2M211 18h1M221 18h4M229 18h1M232 18h1M239 18h1M247 18h1M258 18h1M267 18h1M274 18h1M8 19h1M10 19h1M14 19h1M21 19h1M27 19h1M53 19h2M56 19h1M60 19h1M62 19h1M67 19h1M70 19h2M121 19h1M130 19h2M133 19h1M148 19h1M152 19h1M155 19h1M158 19h1M162 19h1M170 19h1M190 19h1M196 19h1M201 19h1M205 19h1M217 19h1M232 19h2M235 19h1M237 19h1M269 19h1M3 20h1M18 20h1M28 20h1M32 20h3M36 20h1M46 20h1M49 20h1M52 20h1M54 20h1M57 20h1M64 20h1M69 20h3M73 20h1M75 20h1M79 20h1M83 20h1M87 20h1M94 20h1M105 20h1M108 20h1M111 20h1M118 20h2M121 20h1M150 20h1M154 20h2M157 20h1M159 20h1M162 20h1M164 20h2M175 20h1M177 20h1M179 20h1M184 20h1M189 20h2M198 20h1M200 20h1M203 20h1M206 20h2M213 20h2M219 20h1M224 20h1M226 20h1M239 20h1M242 20h1M269 20h1M272 20h3M276 20h1M279 20h1M3 21h1M14 21h1M18 21h1M20 21h1M42 21h2M46 21h1M48 21h1M50 21h1M53 21h1M56 21h2M59 21h3M63 21h1M71 21h1M87 21h1M89 21h1M98 21h1M101 21h1M104 21h1M114 21h1M119 21h3M123 21h2M127 21h1M129 21h1M132 21h2M140 21h2M147 21h1M152 21h1M157 21h2M160 21h2M163 21h2M172 21h1M174 21h1M187 21h1M190 21h1M194 21h1M200 21h1M202 21h1M208 21h1M210 21h1M213 21h1M216 21h1M219 21h1M221 21h2M231 21h1M238 21h1M240 21h1M242 21h1M244 21h2M255 21h2M259 21h1M263 21h1M268 21h1M278 21h1M10 22h1M25 22h1M31 22h1M35 22h1M44 22h1M47 22h1M50 22h1M52 22h1M56 22h1M63 22h1M68 22h2M74 22h1M76 22h1M89 22h2M92 22h1M94 22h2M100 22h1M110 22h1M122 22h1M124 22h1M130 22h2M133 22h2M146 22h1M150 22h1M155 22h1M161 22h1M166 22h1M170 22h3M180 22h1M192 22h1M195 22h1M204 22h1M206 22h1M208 22h1M213 22h1M216 22h1M222 22h2M229 22h2M235 22h1M239 22h1M247 22h1M257 22h1M259 22h2M263 22h2M274 22h1M5 23h1M19 23h1M39 23h1M41 23h1M60 23h1M67 23h1M74 23h1M87 23h1M95 23h1M97 23h1M116 23h1M122 23h1M130 23h2M162 23h2M168 23h1M197 23h2M204 23h1M212 23h1M220 23h1M233 23h2M258 23h1M265 23h1M3 24h2M23 24h1M28 24h1M30 24h1M35 24h1M39 24h1M48 24h1M54 24h2M60 24h1M77 24h1M81 24h1M90 24h1M104 24h1M110 24h1M112 24h1M135 24h1M146 24h1M153 24h1M157 24h1M164 24h1M169 24h1M175 24h1M177 24h1M198 24h1M201 24h1M223 24h1M230 24h1M243 24h1M13 25h1M15 25h1M18 25h1M22 25h1M24 25h1M27 25h1M30 25h1M48 25h2M51 25h1M56 25h1M69 25h2M72 25h1M87 25h1M92 25h1M94 25h2M101 25h1M109 25h1M111 25h2M123 25h1M131 25h2M139 25h1M146 25h1M149 25h1M154 25h1M165 25h1M170 25h1M183 25h1M194 25h2M197 25h1M200 25h1M207 25h1M220 25h1M230 25h2M235 25h1M237 25h1M239 25h1M247 25h1M256 25h3M262 25h1M264 25h1M266 25h1M268 25h2M274 25h1M276 25h1M278 25h1M17 26h1M38 26h1M49 26h1M56 26h1M70 26h1M94 26h1M97 26h1M105 26h1M110 26h3M115 26h1M122 26h2M128 26h1M132 26h1M136 26h1M138 26h1M142 26h1M146 26h1M152 26h1M171 26h1M176 26h1M194 26h1M196 26h1M200 26h2M206 26h1M209 26h1M218 26h1M220 26h1M241 26h1M246 26h1M254 26h1M262 26h1M265 26h1M267 26h1M269 26h1M17 27h1M24 27h1M32 27h1M39 27h1M51 27h1M57 27h1M59 27h1M75 27h1M82 27h1M86 27h1M96 27h1M104 27h1M108 27h1M116 27h1M142 27h1M163 27h1M172 27h1M177 27h1M186 27h1M195 27h1M198 27h1M200 27h1M204 27h1M213 27h1M220 27h1M227 27h1M241 27h1M244 27h1M249 27h1M256 27h1M261 27h2M266 27h1M271 27h1M5 28h1M21 28h1M24 28h1M26 28h1M58 28h1M84 28h1M93 28h1M96 28h1M99 28h1M108 28h1M122 28h2M142 28h1M148 28h1M161 28h1M166 28h1M171 28h1M184 28h3M192 28h1M195 28h1M198 28h2M206 28h1M208 28h1M211 28h2M218 28h1M225 28h1M227 28h1M233 28h1M244 28h1M255 28h1M258 28h1M260 28h1M264 28h1M269 28h1M278 28h1M2 29h1M16 29h1M34 29h1M58 29h1M63 29h1M75 29h1M77 29h2M83 29h1M90 29h1M95 29h1M101 29h1M119 29h1M142 29h1M149 29h1M155 29h1M159 29h1M167 29h1M169 29h1M180 29h1M185 29h1M213 29h1M219 29h1M239 29h1M244 29h1M261 29h1M265 29h1M5 30h1M20 30h1M25 30h1M27 30h1M32 30h1M38 30h1M41 30h1M50 30h1M61 30h1M70 30h1M91 30h1M101 30h1M103 30h4M132 30h1M142 30h1M145 30h1M148 30h1M157 30h1M162 30h1M185 30h1M192 30h1M204 30h1M206 30h1M211 30h1M221 30h1M241 30h1M243 30h2M251 30h1M253 30h1M259 30h1M265 30h1M273 30h4M0 31h1M3 31h1M5 31h1M10 31h1M30 31h1M46 31h1M53 31h1M61 31h1M71 31h1M73 31h1M82 31h1M87 31h2M95 31h2M104 31h1M111 31h1M118 31h1M123 31h1M140 31h1M144 31h1M146 31h1M149 31h1M151 31h2M158 31h1M162 31h1M168 31h1M174 31h2M180 31h1M184 31h2M188 31h1M190 31h1M196 31h2M199 31h1M201 31h3M207 31h1M209 31h1M215 31h1M227 31h1M234 31h2M242 31h3M246 31h1M255 31h2M259 31h1M268 31h1M276 31h3M14 32h1M19 32h1M21 32h1M39 32h1M47 32h1M52 32h2M59 32h3M69 32h1M74 32h2M91 32h1M98 32h2M101 32h1M104 32h1M108 32h3M113 32h1M126 32h1M132 32h2M137 32h1M141 32h1M144 32h2M150 32h1M154 32h1M170 32h1M183 32h1M185 32h1M191 32h1M199 32h2M203 32h2M207 32h1M214 32h1M216 32h2M221 32h2M232 32h1M235 32h3M240 32h1M244 32h4M256 32h2M259 32h1M266 32h2M273 32h1M275 32h1M5 33h2M18 33h1M20 33h1M23 33h2M27 33h1M32 33h1M38 33h1M41 33h1M44 33h3M49 33h3M56 33h1M74 33h1M77 33h2M80 33h1M82 33h1M84 33h1M86 33h1M88 33h1M90 33h1M96 33h1M98 33h4M105 33h1M108 33h1M111 33h2M118 33h1M128 33h3M132 33h1M134 33h1M145 33h1M149 33h1M155 33h3M159 33h1M161 33h1M164 33h1M166 33h1M168 33h1M175 33h1M189 33h1M196 33h1M201 33h1M204 33h1M209 33h1M211 33h1M214 33h1M216 33h1M219 33h1M227 33h2M230 33h1M235 33h1M238 33h1M245 33h1M248 33h1M258 33h1M268 33h1M273 33h1M277 33h2M0 34h1M4 34h1M13 34h2M20 34h1M26 34h1M28 34h1M50 34h3M54 34h1M57 34h1M67 34h3M72 34h2M78 34h1M84 34h1M86 34h1M91 34h1M94 34h1M96 34h2M105 34h1M113 34h1M125 34h1M131 34h2M135 34h1M138 34h1M149 34h3M157 34h1M159 34h1M168 34h1M170 34h1M175 34h1M182 34h1M186 34h1M192 34h2M201 34h1M207 34h1M212 34h2M225 34h1M227 34h1M230 34h3M237 34h1M239 34h1M244 34h4M249 34h1M253 34h1M258 34h2M266 34h2M269 34h1M273 34h1M275 34h1M277 34h1M2 35h1M4 35h1M8 35h1M10 35h2M21 35h3M39 35h1M42 35h1M49 35h2M57 35h1M60 35h1M74 35h1M85 35h1M92 35h1M107 35h1M150 35h1M152 35h1M158 35h1M165 35h1M168 35h1M170 35h1M173 35h1M182 35h1M185 35h1M187 35h2M195 35h1M213 35h1M228 35h1M231 35h1M234 35h1M240 35h3M249 35h1M256 35h1M263 35h1M268 35h1M273 35h1M276 35h1M2 36h1M5 36h1M16 36h2M19 36h1M22 36h1M27 36h2M31 36h2M38 36h1M47 36h1M54 36h3M63 36h1M77 36h1M83 36h3M94 36h1M98 36h1M101 36h8M112 36h1M116 36h1M119 36h1M125 36h1M132 36h1M146 36h1M154 36h1M156 36h1M159 36h1M163 36h1M168 36h1M173 36h1M176 36h1M181 36h4M196 36h2M199 36h1M204 36h1M206 36h1M210 36h2M214 36h1M217 36h1M219 36h3M223 36h1M227 36h1M230 36h1M236 36h1M240 36h1M244 36h1M257 36h2M267 36h1M276 36h1M0 37h1M5 37h1M13 37h1M15 37h2M30 37h1M38 37h2M46 37h2M59 37h1M62 37h1M69 37h1M73 37h2M76 37h1M92 37h1M100 37h1M106 37h1M109 37h1M117 37h1M144 37h3M152 37h2M157 37h2M163 37h1M168 37h1M171 37h1M178 37h1M181 37h1M185 37h1M188 37h1M193 37h1M195 37h1M200 37h1M204 37h1M207 37h1M212 37h1M214 37h1M223 37h1M225 37h1M228 37h1M237 37h1M239 37h1M247 37h1M257 37h1M277 37h1M4 38h1M8 38h2M14 38h1M21 38h2M31 38h1M51 38h2M55 38h1M67 38h1M79 38h1M84 38h1M93 38h1M95 38h1M99 38h1M102 38h1M110 38h1M122 38h1M136 38h1M146 38h1M157 38h3M163 38h1M165 38h3M169 38h1M171 38h1M180 38h2M183 38h4M199 38h1M205 38h1M212 38h1M221 38h1M223 38h2M234 38h1M238 38h1M242 38h2M257 38h2M261 38h1M264 38h1M266 38h1M278 38h1M1 39h1M5 39h2M22 39h1M34 39h1M39 39h1M41 39h2M46 39h1M49 39h1M51 39h1M54 39h1M56 39h2M62 39h1M68 39h2M72 39h1M74 39h1M81 39h1M85 39h1M90 39h1M92 39h1M96 39h1M101 39h4M107 39h1M110 39h1M119 39h1M127 39h2M131 39h1M147 39h1M150 39h1M154 39h1M156 39h1M158 39h1M165 39h3M171 39h4M176 39h1M178 39h1M181 39h1M183 39h1M185 39h1M187 39h1M193 39h1M196 39h1M202 39h1M207 39h1M210 39h2M213 39h1M222 39h1M228 39h1M231 39h1M235 39h4M240 39h1M242 39h1M246 39h1M255 39h1M260 39h3M269 39h1M275 39h1M278 39h1M11 40h1M21 40h1M24 40h1M32 40h1M39 40h1M47 40h2M52 40h1M54 40h1M60 40h1M63 40h1M65 40h1M70 40h1M72 40h1M83 40h1M89 40h1M92 40h1M98 40h1M107 40h1M113 40h1M119 40h1M122 40h1M125 40h3M129 40h1M132 40h1M141 40h1M148 40h1M157 40h1M164 40h1M168 40h1M170 40h1M178 40h1M180 40h3M184 40h1M191 40h1M200 40h2M203 40h1M207 40h1M215 40h1M217 40h1M224 40h4M233 40h1M238 40h2M244 40h2M255 40h1M261 40h1M264 40h1M272 40h1M274 40h1M2 41h1M23 41h2M26 41h1M40 41h1M42 41h2M46 41h1M53 41h1M55 41h1M61 41h2M68 41h1M72 41h1M79 41h1M90 41h1M110 41h2M115 41h3M138 41h2M161 41h1M164 41h1M167 41h1M173 41h1M179 41h2M187 41h1M195 41h1M202 41h1M207 41h1M221 41h1M228 41h1M234 41h1M258 41h2M269 41h1M274 41h1M276 41h1M15 42h2M21 42h2M35 42h1M46 42h1M50 42h4M64 42h1M80 42h1M83 42h2M86 42h1M91 42h1M95 42h2M102 42h1M105 42h1M109 42h1M122 42h2M128 42h1M134 42h1M136 42h1M139 42h1M147 42h1M162 42h1M168 42h1M176 42h3M181 42h2M186 42h1M193 42h1M198 42h1M202 42h1M206 42h1M208 42h1M216 42h1M221 42h1M223 42h4M229 42h1M232 42h1M239 42h1M242 42h1M245 42h3M255 42h1M260 42h1M264 42h1M268 42h1M270 42h1M276 42h1M4 43h1M9 43h1M15 43h1M19 43h1M21 43h1M27 43h1M33 43h1M35 43h1M38 43h1M46 43h1M53 43h1M56 43h1M60 43h1M63 43h1M67 43h1M74 43h1M86 43h1M89 43h1M94 43h2M100 43h1M106 43h1M110 43h1M112 43h1M122 43h1M124 43h1M127 43h1M133 43h1M148 43h1M152 43h1M159 43h1M165 43h1M167 43h1M170 43h1M173 43h2M179 43h1M182 43h1M186 43h1M192 43h1M204 43h2M207 43h1M210 43h1M216 43h1M221 43h1M223 43h1M229 43h1M231 43h2M237 43h1M246 43h1M259 43h1M261 43h1M272 43h1M275 43h2M4 44h1M7 44h1M16 44h3M21 44h1M28 44h1M31 44h1M43 44h1M54 44h1M60 44h1M62 44h1M74 44h1M83 44h1M90 44h1M98 44h1M110 44h2M115 44h1M118 44h1M121 44h1M129 44h1M134 44h1M138 44h2M157 44h1M164 44h3M172 44h1M177 44h1M187 44h1M189 44h1M198 44h1M209 44h2M216 44h2M219 44h2M223 44h1M226 44h3M234 44h1M245 44h1M259 44h1M263 44h1M268 44h1M279 44h1M4 45h1M6 45h2M14 45h1M16 45h1M46 45h2M56 45h1M63 45h1M77 45h1M88 45h1M92 45h1M96 45h1M104 45h1M108 45h1M119 45h1M122 45h1M124 45h1M126 45h1M138 45h1M142 45h1M146 45h1M151 45h1M164 45h1M166 45h1M172 45h1M177 45h1M183 45h2M186 45h1M195 45h1M198 45h1M206 45h1M208 45h1M221 45h1M224 45h1M229 45h1M236 45h1M243 45h1M258 45h1M269 45h1M37 46h1M46 46h2M53 46h1M67 46h1M69 46h1M84 46h2M89 46h1M101 46h1M108 46h1M110 46h2M118 46h1M123 46h1M127 46h1M132 46h1M152 46h1M155 46h1M164 46h3M172 46h1M184 46h2M187 46h1M195 46h1M199 46h1M202 46h1M217 46h1M228 46h1M231 46h1M244 46h1M262 46h2M8 47h1M11 47h1M18 47h1M22 47h1M37 47h1M50 47h1M52 47h1M54 47h1M60 47h1M63 47h1M69 47h2M73 47h1M76 47h1M78 47h1M83 47h1M101 47h1M111 47h1M134 47h1M162 47h1M168 47h2M172 47h1M182 47h1M198 47h1M200 47h1M213 47h1M217 47h1M221 47h1M224 47h1M233 47h1M242 47h1M270 47h1M276 47h1M7 48h2M11 48h1M20 48h1M23 48h1M30 48h1M60 48h1M69 48h2M85 48h1M95 48h1M97 48h1M105 48h1M107 48h1M110 48h1M130 48h1M134 48h1M139 48h1M146 48h1M148 48h1M150 48h2M166 48h1M170 48h2M177 48h2M184 48h1M194 48h1M208 48h3M217 48h1M219 48h1M232 48h1M234 48h1M236 48h3M245 48h1M257 48h1M273 48h2M276 48h1M278 48h1M1 49h1M5 49h1M8 49h1M22 49h1M28 49h1M32 49h1M39 49h1M53 49h2M57 49h2M70 49h1M82 49h1M104 49h1M111 49h1M127 49h1M131 49h1M133 49h1M138 49h1M141 49h1M145 49h1M151 49h1M157 49h2M164 49h1M166 49h3M177 49h1M179 49h1M185 49h1M187 49h1M191 49h1M194 49h1M197 49h2M205 49h1M207 49h1M216 49h1M219 49h1M223 49h1M231 49h1M234 49h1M242 49h2M251 49h1M262 49h2M268 49h1M270 49h1M277 49h1M5 50h1M7 50h1M14 50h1M16 50h1M19 50h1M31 50h2M49 50h3M56 50h1M60 50h1M73 50h2M77 50h1M87 50h1M92 50h1M94 50h1M96 50h1M101 50h3M116 50h1M120 50h1M142 50h1M146 50h1M151 50h1M156 50h1M159 50h1M163 50h1M168 50h1M183 50h1M185 50h1M188 50h2M202 50h1M204 50h1M207 50h1M210 50h1M218 50h1M223 50h2M227 50h2M234 50h2M242 50h2M257 50h1M260 50h1M269 50h1M276 50h1M278 50h2"/>
<path stroke="#f7f7f7" d="M1 0h1M6 0h1M28 0h1M37 0h1M42 0h1M47 0h1M49 0h1M51 0h1M68 0h2M74 0h1M77 0h1M79 0h2M85 0h1M94 0h2M105 0h1M112 0h1M115 0h1M117 0h1M120 0h1M128 0h2M134 0h1M139 0h1M145 0h1M155 0h1M158 0h2M169 0h1M175 0h1M180 0h1M183 0h1M185 0h1M190 0h2M198 0h1M204 0h1M215 0h1M221 0h1M224 0h2M231 0h2M236 0h1M240 0h1M248 0h2M254 0h1M265 0h1M270 0h1M274 0h3M0 1h1M2 1h2M5 1h1M8 1h1M10 1h1M13 1h1M20 1h1M25 1h1M28 1h1M42 1h1M52 1h2M62 1h1M66 1h1M69 1h1M77 1h1M79 1h1M81 1h1M83 1h2M97 1h1M99 1h2M102 1h2M106 1h2M118 1h2M133 1h1M135 1h1M139 1h1M143 1h1M147 1h1M150 1h4M155 1h1M158 1h3M164 1h1M176 1h2M180 1h2M184 1h3M188 1h1M191 1h1M193 1h1M195 1h1M202 1h1M204 1h1M207 1h2M212 1h1M215 1h1M220 1h1M228 1h1M232 1h1M235 1h1M246 1h1M255 1h1M262 1h2M265 1h1M279 1h1M6 2h1M16 2h1M18 2h1M20 2h1M31 2h2M49 2h2M52 2h1M57 2h1M63 2h1M67 2h1M81 2h1M83 2h1M95 2h1M97 2h1M102 2h1M111 2h1M117 2h2M125 2h1M128 2h1M133 2h2M139 2h1M159 2h1M164 2h1M166 2h1M169 2h1M172 2h1M181 2h1M183 2h3M196 2h2M200 2h1M203 2h2M213 2h1M215 2h4M221 2h1M226 2h1M236 2h1M244 2h1M264 2h1M269 2h1M276 2h1M278 2h1M25 3h1M35 3h2M40 3h1M46 3h1M52 3h1M54 3h1M63 3h1M69 3h1M71 3h2M78 3h1M82 3h2M86 3h1M92 3h1M95 3h1M97 3h4M103 3h1M109 3h1M114 3h1M122 3h1M125 3h1M130 3h2M135 3h2M146 3h1M148 3h2M152 3h3M158 3h2M165 3h1M168 3h1M170 3h1M183 3h2M191 3h1M194 3h1M196 3h1M198 3h1M200 3h1M202 3h2M209 3h1M226 3h1M228 3h1M237 3h3M241 3h1M244 3h2M247 3h1M257 3h1M260 3h1M262 3h1M268 3h1M278 3h1M3 4h1M12 4h1M16 4h1M20 4h1M22 4h3M26 4h2M43 4h1M47 4h1M51 4h1M53 4h1M55 4h1M67 4h1M72 4h1M80 4h1M89 4h1M92 4h1M94 4h2M98 4h1M105 4h2M109 4h1M113 4h1M116 4h3M135 4h1M139 4h2M142 4h1M144 4h1M148 4h3M165 4h1M168 4h1M170 4h1M173 4h1M184 4h1M191 4h1M199 4h1M211 4h1M214 4h2M219 4h1M221 4h1M226 4h2M231 4h1M233 4h1M237 4h3M256 4h1M258 4h1M266 4h1M268 4h1M273 4h1M275 4h1M8 5h1M16 5h2M32 5h1M34 5h1M36 5h2M41 5h1M49 5h1M52 5h1M55 5h1M57 5h1M61 5h2M68 5h1M83 5h3M88 5h1M94 5h1M97 5h1M102 5h1M107 5h1M110 5h1M114 5h1M123 5h1M127 5h1M130 5h1M133 5h1M140 5h2M146 5h1M151 5h1M159 5h2M169 5h1M172 5h1M179 5h1M194 5h1M196 5h1M208 5h1M213 5h2M216 5h1M219 5h1M224 5h1M227 5h3M233 5h1M242 5h1M248 5h2M252 5h1M255 5h2M260 5h1M263 5h1M266 5h1M268 5h1M273 5h1M278 5h1M12 6h1M15 6h2M19 6h1M22 6h2M25 6h1M29 6h1M35 6h1M41 6h1M48 6h1M59 6h3M69 6h1M71 6h3M77 6h1M79 6h1M84 6h1M93 6h1M97 6h1M99 6h2M104 6h1M106 6h1M110 6h1M113 6h1M121 6h1M124 6h1M140 6h1M144 6h2M163 6h1M167 6h1M169 6h1M176 6h1M184 6h1M190 6h1M192 6h1M195 6h1M197 6h1M199 6h1M201 6h1M209 6h1M218 6h1M220 6h1M228 6h1M235 6h1M247 6h2M256 6h1M273 6h2M0 7h1M4 7h1M9 7h2M13 7h1M18 7h1M23 7h2M26 7h1M31 7h1M42 7h2M46 7h2M52 7h1M56 7h1M67 7h4M74 7h1M76 7h1M80 7h1M82 7h1M84 7h1M90 7h1M92 7h1M94 7h2M111 7h1M116 7h1M121 7h2M130 7h1M133 7h1M137 7h1M141 7h1M148 7h2M159 7h2M162 7h1M179 7h1M186 7h2M191 7h1M202 7h1M211 7h1M213 7h1M215 7h1M217 7h1M220 7h3M224 7h1M244 7h1M256 7h1M261 7h1M263 7h1M265 7h1M270 7h1M272 7h1M5 8h2M13 8h1M21 8h1M24 8h2M35 8h1M49 8h1M54 8h1M57 8h1M65 8h1M73 8h1M83 8h1M86 8h1M91 8h1M103 8h1M109 8h2M117 8h2M120 8h1M128 8h1M138 8h1M144 8h3M152 8h1M154 8h1M156 8h1M161 8h1M166 8h3M172 8h1M175 8h1M177 8h2M180 8h1M182 8h1M184 8h1M188 8h1M196 8h1M198 8h1M204 8h1M207 8h1M215 8h2M218 8h2M224 8h1M234 8h2M246 8h1M256 8h1M271 8h1M274 8h2M0 9h1M4 9h1M10 9h1M12 9h1M14 9h1M24 9h2M28 9h1M32 9h1M42 9h1M48 9h1M56 9h1M59 9h1M68 9h2M77 9h1M87 9h1M89 9h1M91 9h1M99 9h1M103 9h1M113 9h1M118 9h1M120 9h1M133 9h1M137 9h2M141 9h1M148 9h1M150 9h2M154 9h1M159 9h1M165 9h1M167 9h1M181 9h1M185 9h1M190 9h2M203 9h1M208 9h1M216 9h5M234 9h1M238 9h3M243 9h2M246 9h1M257 9h2M262 9h1M264 9h1M270 9h1M0 10h1M9 10h3M17 10h1M30 10h1M41 10h1M50 10h1M53 10h1M55 10h1M60 10h2M71 10h2M75 10h1M79 10h2M82 10h1M85 10h2M97 10h2M100 10h1M104 10h1M108 10h1M118 10h1M132 10h1M134 10h1M144 10h1M148 10h1M152 10h1M156 10h1M159 10h1M165 10h1M167 10h1M171 10h1M176 10h1M184 10h1M186 10h1M189 10h2M193 10h1M197 10h2M202 10h1M206 10h1M210 10h2M215 10h1M222 10h2M234 10h1M245 10h1M247 10h1M259 10h1M261 10h1M268 10h1M273 10h1M277 10h1M279 10h1M2 11h2M6 11h2M13 11h2M16 11h1M19 11h1M21 11h2M24 11h2M27 11h1M30 11h2M33 11h1M36 11h1M46 11h2M50 11h1M55 11h1M72 11h2M77 11h2M89 11h1M94 11h1M103 11h1M112 11h2M115 11h1M118 11h2M123 11h1M132 11h1M134 11h2M137 11h1M162 11h1M173 11h3M178 11h1M181 11h1M184 11h1M195 11h2M202 11h1M205 11h1M212 11h1M215 11h1M221 11h1M230 11h1M232 11h2M239 11h1M254 11h2M258 11h1M264 11h2M271 11h1M274 11h1M279 11h1M3 12h1M6 12h1M8 12h4M14 12h1M35 12h1M38 12h2M41 12h1M48 12h1M69 12h1M74 12h4M79 12h1M81 12h1M84 12h1M89 12h1M91 12h2M98 12h2M107 12h1M121 12h1M123 12h1M125 12h1M134 12h1M141 12h2M151 12h1M162 12h3M167 12h1M169 12h1M172 12h1M174 12h2M177 12h1M189 12h1M196 12h1M198 12h1M200 12h1M204 12h1M215 12h1M258 12h1M275 12h2M278 12h1M0 13h2M12 13h1M19 13h1M24 13h1M31 13h1M37 13h1M39 13h1M42 13h1M48 13h1M54 13h1M59 13h1M72 13h1M75 13h1M77 13h2M85 13h1M87 13h1M89 13h1M92 13h2M101 13h1M116 13h1M135 13h2M141 13h1M146 13h1M149 13h2M154 13h3M161 13h1M175 13h1M178 13h1M182 13h1M185 13h2M190 13h2M199 13h1M207 13h2M213 13h1M215 13h1M220 13h1M225 13h1M239 13h1M253 13h1M263 13h3M275 13h3M1 14h1M10 14h1M12 14h1M14 14h1M21 14h1M32 14h1M34 14h1M45 14h1M47 14h1M56 14h1M61 14h1M64 14h1M66 14h2M69 14h1M87 14h1M96 14h1M104 14h2M107 14h1M112 14h1M114 14h1M129 14h1M132 14h1M137 14h2M151 14h1M153 14h1M155 14h1M157 14h2M160 14h1M171 14h1M185 14h2M188 14h1M199 14h1M207 14h1M222 14h2M225 14h1M236 14h1M242 14h1M246 14h1M248 14h2M253 14h2M257 14h1M267 14h1M273 14h1M277 14h1M279 14h1M6 15h1M12 15h1M18 15h1M28 15h1M31 15h1M36 15h1M41 15h1M44 15h1M46 15h1M49 15h2M55 15h2M64 15h1M66 15h1M72 15h1M74 15h1M105 15h1M107 15h1M110 15h1M112 15h1M114 15h2M117 15h1M120 15h1M126 15h1M133 15h1M136 15h1M138 15h1M143 15h2M146 15h1M150 15h1M153 15h1M156 15h1M158 15h1M177 15h2M185 15h1M196 15h1M200 15h1M203 15h1M210 15h1M217 15h1M219 15h1M234 15h2M255 15h1M279 15h1M1 16h1M6 16h1M10 16h3M15 16h1M17 16h1M30 16h1M41 16h1M43 16h1M46 16h1M48 16h1M55 16h1M61 16h1M71 16h1M77 16h2M86 16h1M90 16h1M98 16h1M100 16h1M103 16h1M106 16h1M108 16h1M121 16h1M126 16h1M131 16h1M134 16h1M140 16h1M157 16h2M167 16h1M174 16h2M182 16h1M185 16h1M190 16h1M192 16h1M195 16h1M200 16h1M204 16h1M220 16h1M224 16h1M230 16h2M235 16h1M239 16h1M242 16h1M246 16h1M258 16h1M263 16h1M266 16h1M274 16h1M277 16h2M14 17h2M29 17h1M31 17h1M35 17h1M37 17h1M48 17h2M52 17h1M58 17h1M63 17h1M65 17h3M79 17h1M82 17h1M95 17h1M97 17h2M107 17h1M118 17h1M122 17h1M130 17h1M132 17h1M135 17h1M148 17h2M153 17h1M156 17h2M160 17h1M165 17h1M167 17h1M179 17h2M183 17h1M185 17h1M194 17h1M206 17h3M230 17h1M236 17h1M245 17h1M257 17h1M263 17h1M267 17h1M270 17h2M279 17h1M2 18h2M5 18h1M9 18h3M15 18h1M22 18h1M32 18h1M48 18h1M52 18h1M55 18h1M57 18h1M63 18h1M68 18h1M73 18h1M77 18h1M87 18h1M95 18h2M101 18h1M107 18h1M109 18h2M114 18h2M118 18h1M120 18h1M132 18h2M135 18h1M139 18h1M144 18h1M148 18h1M151 18h1M157 18h2M167 18h1M171 18h1M173 18h1M179 18h1M190 18h2M193 18h2M199 18h1M202 18h2M210 18h1M212 18h1M217 18h1M230 18h1M235 18h1M237 18h1M240 18h1M260 18h2M263 18h2M270 18h1M272 18h2M277 18h1M6 19h1M16 19h1M31 19h1M40 19h1M43 19h3M69 19h1M76 19h1M82 19h1M87 19h1M98 19h1M100 19h1M110 19h1M118 19h1M125 19h1M138 19h1M140 19h2M150 19h1M156 19h1M159 19h1M165 19h1M169 19h1M171 19h1M173 19h1M180 19h1M182 19h3M189 19h1M193 19h1M202 19h2M206 19h1M211 19h2M215 19h1M218 19h1M239 19h3M257 19h5M277 19h1M2 20h1M11 20h1M14 20h2M17 20h1M26 20h2M35 20h1M42 20h2M53 20h1M61 20h1M67 20h1M72 20h1M80 20h2M84 20h1M86 20h1M90 20h1M97 20h1M99 20h1M104 20h1M112 20h1M114 20h1M123 20h3M127 20h1M130 20h1M132 20h1M139 20h3M152 20h2M158 20h1M163 20h1M167 20h1M170 20h1M173 20h1M183 20h1M185 20h1M191 20h3M202 20h1M209 20h2M215 20h1M227 20h4M232 20h1M236 20h1M243 20h1M247 20h1M255 20h2M263 20h1M265 20h1M277 20h2M2 21h1M5 21h2M24 21h1M26 21h2M31 21h1M39 21h1M45 21h1M49 21h1M51 21h2M54 21h1M73 21h1M78 21h1M84 21h1M86 21h1M90 21h2M94 21h1M102 21h2M108 21h1M115 21h1M139 21h1M142 21h1M145 21h1M155 21h1M166 21h1M170 21h1M176 21h1M179 21h1M183 21h2M198 21h1M204 21h2M215 21h1M228 21h1M232 21h1M234 21h1M264 21h1M266 21h1M272 21h1M276 21h1M9 22h1M18 22h1M23 22h1M26 22h2M30 22h1M36 22h1M40 22h1M45 22h1M48 22h1M58 22h4M64 22h1M67 22h1M71 22h1M75 22h1M79 22h1M82 22h1M85 22h3M97 22h1M99 22h1M101 22h1M103 22h1M105 22h3M114 22h2M119 22h2M136 22h1M143 22h2M151 22h1M157 22h2M163 22h1M165 22h1M177 22h1M185 22h1M188 22h1M191 22h1M196 22h1M198 22h2M201 22h3M210 22h2M219 22h1M224 22h1M241 22h2M244 22h1M246 22h1M256 22h1M270 22h1M272 22h2M276 22h1M2 23h1M6 23h1M17 23h1M22 23h1M31 23h1M40 23h1M46 23h1M51 23h1M58 23h2M76 23h2M99 23h1M104 23h2M112 23h1M119 23h1M126 23h2M135 23h1M145 23h1M148 23h1M152 23h1M154 23h1M156 23h1M159 23h2M165 23h1M169 23h1M178 23h1M183 23h1M194 23h2M199 23h2M205 23h1M215 23h3M221 23h1M227 23h2M230 23h1M235 23h1M241 23h1M244 23h1M247 23h1M260 23h1M266 23h1M270 23h1M272 23h1M275 23h1M278 23h1M2 24h1M15 24h1M31 24h2M36 24h1M42 24h1M51 24h1M58 24h1M68 24h1M70 24h1M80 24h1M86 24h1M92 24h2M96 24h1M102 24h1M108 24h1M111 24h1M117 24h1M119 24h1M126 24h1M131 24h1M133 24h1M140 24h1M142 24h1M150 24h1M156 24h1M158 24h1M180 24h1M184 24h1M187 24h1M195 24h1M203 24h1M205 24h1M209 24h1M214 24h3M219 24h1M221 24h1M224 24h4M231 24h2M236 24h1M240 24h1M247 24h1M259 24h1M261 24h1M273 24h1M277 24h1M1 25h2M4 25h1M6 25h1M20 25h2M25 25h1M41 25h1M44 25h1M46 25h1M53 25h2M57 25h1M81 25h1M100 25h1M103 25h2M116 25h1M126 25h1M137 25h1M141 25h1M145 25h1M151 25h1M162 25h1M164 25h1M166 25h1M172 25h1M174 25h1M185 25h1M203 25h1M205 25h2M210 25h1M218 25h2M224 25h1M228 25h2M234 25h1M236 25h1M240 25h1M243 25h1M263 25h1M267 25h1M271 25h1M275 25h1M279 25h1M0 26h1M3 26h1M5 26h1M7 26h1M9 26h1M14 26h1M16 26h1M19 26h1M24 26h2M30 26h4M36 26h1M39 26h1M50 26h2M53 26h1M59 26h1M63 26h1M69 26h1M71 26h1M76 26h1M79 26h2M83 26h1M89 26h1M91 26h3M99 26h1M101 26h2M104 26h1M116 26h1M127 26h1M135 26h1M140 26h1M143 26h1M148 26h1M151 26h1M154 26h1M156 26h1M163 26h1M166 26h2M172 26h2M177 26h1M179 26h1M182 26h3M187 26h1M191 26h1M197 26h1M212 26h1M217 26h1M222 26h1M231 26h2M236 26h1M239 26h1M250 26h1M255 26h1M258 26h1M263 26h2M266 26h1M268 26h1M274 26h1M279 26h1M0 27h1M26 27h1M30 27h1M50 27h1M55 27h1M60 27h1M66 27h1M73 27h1M78 27h1M83 27h1M101 27h1M106 27h2M119 27h1M127 27h1M130 27h4M138 27h1M143 27h1M145 27h1M149 27h1M151 27h1M153 27h1M166 27h1M178 27h2M181 27h1M188 27h2M192 27h1M194 27h1M201 27h1M208 27h1M225 27h1M233 27h1M239 27h1M242 27h1M246 27h1M260 27h1M264 27h1M273 27h1M1 28h2M4 28h1M10 28h1M14 28h1M27 28h1M30 28h1M38 28h2M49 28h2M56 28h1M63 28h1M67 28h1M69 28h1M73 28h2M79 28h2M89 28h1M92 28h1M98 28h1M101 28h1M104 28h2M112 28h1M118 28h1M120 28h1M124 28h2M127 28h1M129 28h2M132 28h1M134 28h1M137 28h3M141 28h1M143 28h3M147 28h1M152 28h1M154 28h1M159 28h1M162 28h3M172 28h1M176 28h1M187 28h1M190 28h1M200 28h1M203 28h1M205 28h1M207 28h1M214 28h1M217 28h1M219 28h1M224 28h1M228 28h1M238 28h1M257 28h1M272 28h1M274 28h4M14 29h2M21 29h1M30 29h1M38 29h2M44 29h1M48 29h3M54 29h1M60 29h1M81 29h2M85 29h1M106 29h1M109 29h1M114 29h1M117 29h1M122 29h1M127 29h1M132 29h2M138 29h3M145 29h1M150 29h1M153 29h1M170 29h2M196 29h1M199 29h1M204 29h1M209 29h1M217 29h1M229 29h1M231 29h1M233 29h1M238 29h1M240 29h4M249 29h1M254 29h1M256 29h1M263 29h1M268 29h1M270 29h1M274 29h1M276 29h1M0 30h1M2 30h1M4 30h1M6 30h1M8 30h2M18 30h1M39 30h2M47 30h1M51 30h1M53 30h2M59 30h1M63 30h1M65 30h1M79 30h2M82 30h1M87 30h1M90 30h1M92 30h1M94 30h1M96 30h1M99 30h1M109 30h1M115 30h1M117 30h1M119 30h1M122 30h3M130 30h1M136 30h1M141 30h1M146 30h1M149 30h1M155 30h1M158 30h3M163 30h1M168 30h1M173 30h1M177 30h1M184 30h1M187 30h2M190 30h1M198 30h1M200 30h1M209 30h1M214 30h1M218 30h1M223 30h1M225 30h2M228 30h1M231 30h3M238 30h2M255 30h1M261 30h1M2 31h1M8 31h1M12 31h2M19 31h4M33 31h1M37 31h4M44 31h1M48 31h1M51 31h2M54 31h2M57 31h1M59 31h1M65 31h2M68 31h1M77 31h2M83 31h1M85 31h2M89 31h1M97 31h2M100 31h1M102 31h1M106 31h1M109 31h1M115 31h2M121 31h1M126 31h1M128 31h1M130 31h1M132 31h2M136 31h1M143 31h1M145 31h1M147 31h1M150 31h1M155 31h1M161 31h1M164 31h1M192 31h2M198 31h1M205 31h1M211 31h1M213 31h2M236 31h1M238 31h1M247 31h1M249 31h1M251 31h3M257 31h1M260 31h3M266 31h1M271 31h1M274 31h1M0 32h2M4 32h1M10 32h1M12 32h1M16 32h1M26 32h1M29 32h1M57 32h1M62 32h1M72 32h1M76 32h1M80 32h1M84 32h1M86 32h1M88 32h2M95 32h1M97 32h1M117 32h1M120 32h1M123 32h1M125 32h1M128 32h1M138 32h1M146 32h2M152 32h2M157 32h1M162 32h1M164 32h2M167 32h2M175 32h1M179 32h1M182 32h1M190 32h1M193 32h1M197 32h1M201 32h1M206 32h1M210 32h3M228 32h1M234 32h1M243 32h1M255 32h1M263 32h1M272 32h1M277 32h2M4 33h1M7 33h2M14 33h1M19 33h1M25 33h1M28 33h1M42 33h1M58 33h1M60 33h1M63 33h1M76 33h1M81 33h1M92 33h1M95 33h1M97 33h1M102 33h1M107 33h1M109 33h1M113 33h1M116 33h2M121 33h2M131 33h1M139 33h1M142 33h3M148 33h1M150 33h1M158 33h1M170 33h1M174 33h1M177 33h2M185 33h2M190 33h1M192 33h1M194 33h2M200 33h1M203 33h1M205 33h1M207 33h1M218 33h1M220 33h1M236 33h1M242 33h1M247 33h1M249 33h1M251 33h1M261 33h1M264 33h1M274 33h1M2 34h1M6 34h1M8 34h2M12 34h1M15 34h1M25 34h1M32 34h1M34 34h1M41 34h1M46 34h3M53 34h1M75 34h1M79 34h1M98 34h1M102 34h1M110 34h1M114 34h2M120 34h1M126 34h1M130 34h1M137 34h1M144 34h1M167 34h1M173 34h1M180 34h1M183 34h1M188 34h1M190 34h1M208 34h1M218 34h2M223 34h1M236 34h1M243 34h1M264 34h2M278 34h2M15 35h1M17 35h1M19 35h1M27 35h1M32 35h1M37 35h2M45 35h1M58 35h1M62 35h2M69 35h2M73 35h1M80 35h1M82 35h1M94 35h1M98 35h1M102 35h1M104 35h1M108 35h1M110 35h1M146 35h1M155 35h3M160 35h1M162 35h1M164 35h1M171 35h2M175 35h1M179 35h1M184 35h1M205 35h2M222 35h3M226 35h2M229 35h1M232 35h1M237 35h3M247 35h2M252 35h1M254 35h1M278 35h1M1 36h1M8 36h1M18 36h1M26 36h1M35 36h1M42 36h3M51 36h2M57 36h1M59 36h2M64 36h1M71 36h1M73 36h1M75 36h2M79 36h2M92 36h1M96 36h2M100 36h1M133 36h1M147 36h1M152 36h2M155 36h1M161 36h1M164 36h2M170 36h2M174 36h2M177 36h1M179 36h1M185 36h2M201 36h1M203 36h1M215 36h1M222 36h1M225 36h1M231 36h1M233 36h2M239 36h1M241 36h1M245 36h1M261 36h2M268 36h1M271 36h1M273 36h2M277 36h1M3 37h1M9 37h1M18 37h1M26 37h1M28 37h1M33 37h1M49 37h1M58 37h1M64 37h2M78 37h1M81 37h1M88 37h1M94 37h2M103 37h1M110 37h3M116 37h1M138 37h1M148 37h1M155 37h2M160 37h1M165 37h2M170 37h1M175 37h1M179 37h1M184 37h1M190 37h1M197 37h1M201 37h1M203 37h1M209 37h1M213 37h1M215 37h1M218 37h2M221 37h1M232 37h1M238 37h1M240 37h1M242 37h2M245 37h2M259 37h1M262 37h2M265 37h1M279 37h1M2 38h1M19 38h2M28 38h1M30 38h1M32 38h1M38 38h2M42 38h1M45 38h1M56 38h1M69 38h1M72 38h1M74 38h1M76 38h1M80 38h1M83 38h1M85 38h1M87 38h1M91 38h2M96 38h1M98 38h1M100 38h1M103 38h1M105 38h1M107 38h2M117 38h1M144 38h2M148 38h1M151 38h3M156 38h1M164 38h1M177 38h1M179 38h1M182 38h1M187 38h1M191 38h1M194 38h3M203 38h1M206 38h1M219 38h1M222 38h1M227 38h1M229 38h2M235 38h1M246 38h1M256 38h1M273 38h2M277 38h1M2 39h1M7 39h1M9 39h1M11 39h3M16 39h1M23 39h2M27 39h2M31 39h1M36 39h1M45 39h1M47 39h1M50 39h1M63 39h1M67 39h1M77 39h1M79 39h1M82 39h1M86 39h2M89 39h1M91 39h1M105 39h2M113 39h1M117 39h2M121 39h2M126 39h1M129 39h2M137 39h1M139 39h2M143 39h1M146 39h1M151 39h1M160 39h1M164 39h1M168 39h1M175 39h1M179 39h1M186 39h1M188 39h1M192 39h1M214 39h1M219 39h1M224 39h1M226 39h1M232 39h1M234 39h1M239 39h1M244 39h1M247 39h1M257 39h2M267 39h1M273 39h1M8 40h1M10 40h1M12 40h1M14 40h3M19 40h1M23 40h1M26 40h2M29 40h1M31 40h1M36 40h1M40 40h2M43 40h1M50 40h1M55 40h2M58 40h1M66 40h1M82 40h1M96 40h1M99 40h1M101 40h1M108 40h2M111 40h2M123 40h1M128 40h1M130 40h1M134 40h1M143 40h1M146 40h1M152 40h1M159 40h1M163 40h1M171 40h1M173 40h1M175 40h1M179 40h1M183 40h1M190 40h1M194 40h1M197 40h1M199 40h1M204 40h2M211 40h2M214 40h1M219 40h1M221 40h1M228 40h2M231 40h2M235 40h2M243 40h1M246 40h1M256 40h1M259 40h2M265 40h2M276 40h1M5 41h1M14 41h5M30 41h1M33 41h1M45 41h1M50 41h1M54 41h1M57 41h1M60 41h1M65 41h1M78 41h1M82 41h1M84 41h1M86 41h2M91 41h1M100 41h1M103 41h1M105 41h5M112 41h1M114 41h1M118 41h2M127 41h1M135 41h2M141 41h1M147 41h1M153 41h2M156 41h1M158 41h1M168 41h1M176 41h1M183 41h1M189 41h1M196 41h1M209 41h1M212 41h2M217 41h4M224 41h4M229 41h1M236 41h1M241 41h1M247 41h1M253 41h1M262 41h2M273 41h1M278 41h1M3 42h1M7 42h1M12 42h1M18 42h1M23 42h1M26 42h2M36 42h1M38 42h1M47 42h2M55 42h1M60 42h1M62 42h2M67 42h1M69 42h1M76 42h2M81 42h2M90 42h1M97 42h2M100 42h1M103 42h1M108 42h1M120 42h1M124 42h2M130 42h1M152 42h2M156 42h1M158 42h2M163 42h2M169 42h1M173 42h1M175 42h1M180 42h1M203 42h2M212 42h1M215 42h1M218 42h1M220 42h1M238 42h1M256 42h1M261 42h1M265 42h2M273 42h1M1 43h1M7 43h1M20 43h1M26 43h1M28 43h1M30 43h1M48 43h1M51 43h2M55 43h1M58 43h1M68 43h3M72 43h1M77 43h1M87 43h2M90 43h2M97 43h1M99 43h1M103 43h3M107 43h1M115 43h4M120 43h1M128 43h1M130 43h1M140 43h2M144 43h3M153 43h1M160 43h2M164 43h1M175 43h1M185 43h1M187 43h1M194 43h1M197 43h1M199 43h1M201 43h1M206 43h1M222 43h1M224 43h3M234 43h1M247 43h1M249 43h1M252 43h1M254 43h1M258 43h1M264 43h1M266 43h1M268 43h2M271 43h1M5 44h1M11 44h3M15 44h1M23 44h1M30 44h1M32 44h1M36 44h1M41 44h1M46 44h1M52 44h1M72 44h1M75 44h1M84 44h1M86 44h4M91 44h2M94 44h1M102 44h1M109 44h1M114 44h1M116 44h2M122 44h2M125 44h2M133 44h1M136 44h1M144 44h1M148 44h1M151 44h1M155 44h1M158 44h1M167 44h2M174 44h2M178 44h4M205 44h1M207 44h1M211 44h1M213 44h1M231 44h2M242 44h1M247 44h1M258 44h1M260 44h1M265 44h2M271 44h1M1 45h1M19 45h1M21 45h2M32 45h1M36 45h3M44 45h1M50 45h1M52 45h1M72 45h1M83 45h1M87 45h1M93 45h1M95 45h1M118 45h1M123 45h1M131 45h1M140 45h1M143 45h2M149 45h1M153 45h1M155 45h1M169 45h3M173 45h2M176 45h1M178 45h1M182 45h1M185 45h1M189 45h3M196 45h2M207 45h1M215 45h1M219 45h1M222 45h1M232 45h2M242 45h1M244 45h2M262 45h1M266 45h1M273 45h1M275 45h1M0 46h1M2 46h2M6 46h1M10 46h1M15 46h2M20 46h1M22 46h1M24 46h1M27 46h2M34 46h1M42 46h1M45 46h1M49 46h1M51 46h1M56 46h2M59 46h1M65 46h1M70 46h1M77 46h1M81 46h2M91 46h1M96 46h1M100 46h1M103 46h1M106 46h1M119 46h1M122 46h1M124 46h1M135 46h1M139 46h2M146 46h1M153 46h1M156 46h1M167 46h1M170 46h2M176 46h3M180 46h2M197 46h1M200 46h1M203 46h1M205 46h1M207 46h2M219 46h2M223 46h4M229 46h1M239 46h2M243 46h1M260 46h2M275 46h1M279 46h1M12 47h1M17 47h1M20 47h1M26 47h2M29 47h2M32 47h1M34 47h1M43 47h1M48 47h1M53 47h1M55 47h1M58 47h1M62 47h1M80 47h1M93 47h1M96 47h1M107 47h1M114 47h1M121 47h1M123 47h1M126 47h1M129 47h1M132 47h2M136 47h1M139 47h1M148 47h1M150 47h1M160 47h2M170 47h1M175 47h1M177 47h5M183 47h1M186 47h1M192 47h1M194 47h1M199 47h1M215 47h2M220 47h1M227 47h1M232 47h1M236 47h1M240 47h1M245 47h1M262 47h1M274 47h2M1 48h1M5 48h2M10 48h1M14 48h2M18 48h2M31 48h3M37 48h2M41 48h1M45 48h1M53 48h1M55 48h1M58 48h2M61 48h1M66 48h1M73 48h3M79 48h3M84 48h1M92 48h1M94 48h1M98 48h1M106 48h1M112 48h1M118 48h1M120 48h2M123 48h3M135 48h1M137 48h1M141 48h2M145 48h1M147 48h1M152 48h1M154 48h3M159 48h1M161 48h2M167 48h2M174 48h2M185 48h1M191 48h1M200 48h1M203 48h1M211 48h1M213 48h1M215 48h1M220 48h1M228 48h1M231 48h1M235 48h1M244 48h1M247 48h1M264 48h2M268 48h1M275 48h1M0 49h1M6 49h1M18 49h2M23 49h1M31 49h1M49 49h1M61 49h2M74 49h1M77 49h1M80 49h1M83 49h2M89 49h2M96 49h2M99 49h1M103 49h1M108 49h1M113 49h1M117 49h1M122 49h1M128 49h1M137 49h1M139 49h1M142 49h1M148 49h1M155 49h2M162 49h1M169 49h1M174 49h1M181 49h1M184 49h1M186 49h1M190 49h1M193 49h1M196 49h1M199 49h2M208 49h2M214 49h2M222 49h1M228 49h2M236 49h1M244 49h1M247 49h2M254 49h1M257 49h1M264 49h1M273 49h3M279 49h1M4 50h1M9 50h2M15 50h1M21 50h2M25 50h1M34 50h3M46 50h1M48 50h1M58 50h1M72 50h1M78 50h1M82 50h2M86 50h1M95 50h1M100 50h1M109 50h1M112 50h3M117 50h2M123 50h1M126 50h2M136 50h1M152 50h1M162 50h1M164 50h1M169 50h3M175 50h1M178 50h1M181 50h1M186 50h1M193 50h1M200 50h1M203 50h1M205 50h1M208 50h1M212 50h1M214 50h1M221 50h1M239 50h2M247 50h1M249 50h1M251 50h1M255 50h1M261 50h1M266 50h1M270 50h1M274 50h1M277 50h1"/>
<path stroke="#e8f4e5" d="M3 0h1M14 0h1M16 0h1M22 0h2M25 0h1M29 0h1M32 0h1M39 0h1M52 0h2M55 0h1M70 0h1M73 0h1M75 0h2M96 0h1M100 0h1M102 0h1M107 0h1M110 0h1M114 0h1M118 0h2M123 0h1M126 0h1M130 0h1M133 0h1M135 0h4M147 0h1M151 0h1M157 0h1M160 0h1M164 0h2M168 0h1M171 0h1M177 0h1M181 0h2M184 0h1M188 0h1M193 0h1M197 0h1M201 0h1M205 0h1M207 0h1M210 0h1M216 0h1M223 0h1M237 0h1M242 0h1M245 0h2M250 0h1M253 0h1M255 0h1M257 0h1M262 0h1M266 0h1M273 0h1M277 0h1M279 0h1M16 1h2M21 1h1M23 1h1M26 1h1M29 1h1M31 1h1M33 1h1M35 1h1M39 1h2M48 1h2M56 1h1M58 1h1M60 1h1M75 1h1M80 1h1M82 1h1M85 1h2M94 1h2M98 1h1M104 1h2M109 1h1M113 1h1M115 1h2M130 1h3M137 1h1M141 1h1M144 1h1M146 1h1M175 1h1M210 1h1M214 1h1M219 1h1M221 1h3M225 1h1M245 1h1M249 1h1M251 1h1M257 1h2M260 1h1M270 1h1M272 1h1M275 1h2M0 2h2M7 2h1M11 2h1M22 2h1M27 2h2M34 2h2M37 2h1M59 2h2M69 2h2M72 2h2M82 2h1M84 2h1M87 2h2M91 2h1M96 2h1M98 2h1M104 2h1M116 2h1M119 2h1M126 2h1M131 2h1M140 2h2M150 2h2M153 2h1M155 2h1M158 2h1M167 2h2M170 2h1M176 2h1M178 2h1M180 2h1M187 2h1M195 2h1M199 2h1M201 2h1M205 2h1M209 2h1M224 2h1M230 2h2M233 2h1M235 2h1M239 2h1M242 2h1M246 2h1M256 2h1M259 2h1M261 2h1M266 2h1M268 2h1M270 2h1M274 2h1M0 3h4M7 3h1M10 3h1M15 3h1M18 3h2M22 3h1M26 3h1M32 3h2M38 3h1M41 3h4M47 3h1M50 3h1M56 3h1M62 3h1M64 3h1M67 3h2M75 3h2M80 3h1M88 3h1M96 3h1M102 3h1M104 3h1M106 3h1M108 3h1M116 3h1M123 3h1M127 3h1M129 3h1M142 3h2M145 3h1M147 3h1M155 3h1M157 3h1M162 3h1M167 3h1M171 3h1M175 3h1M181 3h1M188 3h1M199 3h1M215 3h2M221 3h1M224 3h1M227 3h1M233 3h1M255 3h1M263 3h1M265 3h1M267 3h1M269 3h2M273 3h1M276 3h2M2 4h1M5 4h1M8 4h1M10 4h1M29 4h1M32 4h1M38 4h1M40 4h1M45 4h2M48 4h1M52 4h1M58 4h4M65 4h1M73 4h1M78 4h1M83 4h1M86 4h1M91 4h1M93 4h1M100 4h1M104 4h1M107 4h2M114 4h1M119 4h4M126 4h1M129 4h1M134 4h1M136 4h2M147 4h1M156 4h1M159 4h1M179 4h1M186 4h1M190 4h1M192 4h2M205 4h1M222 4h1M224 4h1M228 4h1M251 4h1M253 4h1M260 4h1M264 4h1M272 4h1M274 4h1M279 4h1M5 5h2M26 5h1M70 5h1M75 5h1M77 5h1M79 5h1M90 5h2M101 5h1M103 5h1M105 5h1M118 5h1M120 5h1M144 5h1M157 5h2M180 5h1M197 5h1M201 5h1M206 5h2M210 5h1M218 5h1M258 5h1M267 5h1M270 5h1M279 5h1M7 6h2M13 6h2M26 6h2M36 6h2M39 6h1M53 6h1M62 6h1M76 6h1M78 6h1M102 6h2M108 6h1M117 6h2M128 6h1M130 6h1M133 6h1M135 6h1M153 6h1M162 6h1M175 6h1M182 6h1M205 6h1M210 6h1M244 6h1M250 6h2M253 6h1M264 6h2M267 6h1M271 6h2M5 7h1M7 7h1M11 7h2M17 7h1M21 7h1M27 7h2M35 7h1M37 7h2M41 7h1M49 7h3M53 7h1M58 7h1M60 7h1M64 7h2M75 7h1M78 7h2M89 7h1M91 7h1M93 7h1M100 7h3M106 7h1M109 7h1M114 7h2M118 7h3M124 7h1M127 7h2M134 7h1M143 7h1M161 7h1M163 7h1M174 7h1M176 7h1M180 7h1M189 7h2M196 7h1M203 7h1M206 7h1M223 7h1M231 7h1M233 7h1M236 7h1M238 7h1M242 7h1M245 7h1M255 7h1M264 7h1M266 7h1M276 7h2M0 8h1M4 8h1M19 8h1M22 8h2M26 8h2M32 8h1M34 8h1M39 8h2M46 8h1M48 8h1M50 8h1M53 8h1M66 8h1M71 8h1M76 8h1M78 8h2M82 8h1M94 8h1M96 8h1M99 8h1M108 8h1M113 8h2M121 8h2M124 8h1M127 8h1M129 8h1M133 8h1M135 8h1M139 8h1M158 8h1M174 8h1M185 8h1M193 8h1M197 8h1M206 8h1M213 8h2M221 8h1M226 8h1M233 8h1M247 8h1M249 8h2M257 8h1M267 8h1M272 8h1M277 8h1M1 9h1M6 9h1M11 9h1M17 9h2M20 9h2M35 9h1M37 9h1M39 9h1M43 9h2M58 9h1M62 9h1M65 9h3M73 9h1M75 9h2M80 9h1M86 9h1M93 9h1M96 9h1M102 9h1M106 9h1M111 9h2M119 9h1M128 9h1M145 9h3M152 9h1M158 9h1M161 9h2M164 9h1M169 9h1M171 9h4M178 9h1M194 9h1M204 9h1M207 9h1M209 9h1M214 9h1M221 9h2M229 9h2M237 9h1M242 9h1M256 9h1M263 9h1M271 9h1M273 9h1M4 10h1M7 10h1M20 10h3M25 10h1M31 10h1M33 10h1M35 10h1M40 10h1M44 10h1M46 10h1M48 10h2M63 10h1M66 10h1M76 10h2M95 10h1M117 10h1M124 10h1M131 10h1M136 10h1M138 10h3M160 10h1M172 10h1M174 10h1M183 10h1M192 10h1M212 10h1M216 10h1M224 10h2M230 10h1M232 10h1M236 10h1M246 10h1M267 10h1M269 10h2M278 10h1M0 11h1M10 11h1M23 11h1M26 11h1M32 11h1M40 11h1M42 11h1M45 11h1M51 11h1M60 11h3M75 11h2M79 11h1M86 11h1M90 11h2M98 11h3M102 11h1M116 11h1M120 11h1M126 11h1M128 11h1M131 11h1M133 11h1M143 11h1M151 11h1M164 11h1M191 11h1M219 11h1M234 11h1M242 11h1M247 11h1M249 11h1M251 11h2M268 11h1M278 11h1M0 12h1M4 12h1M19 12h1M26 12h2M29 12h1M37 12h1M46 12h1M49 12h3M54 12h1M56 12h2M59 12h2M63 12h1M66 12h1M71 12h1M82 12h2M96 12h1M106 12h1M109 12h2M113 12h2M124 12h1M127 12h1M137 12h1M147 12h1M152 12h1M155 12h5M165 12h1M176 12h1M182 12h1M188 12h1M192 12h1M199 12h1M201 12h1M206 12h2M220 12h1M231 12h1M235 12h1M279 12h1M4 13h1M7 13h1M10 13h1M17 13h1M23 13h1M28 13h3M33 13h1M38 13h1M49 13h2M53 13h1M64 13h1M67 13h2M71 13h1M73 13h2M79 13h2M84 13h1M86 13h1M88 13h1M94 13h3M98 13h1M100 13h1M103 13h1M108 13h2M119 13h1M122 13h1M126 13h1M129 13h1M132 13h1M134 13h1M137 13h1M143 13h1M147 13h1M162 13h1M171 13h1M173 13h2M179 13h1M181 13h1M183 13h1M188 13h1M201 13h1M204 13h1M206 13h1M211 13h1M214 13h1M218 13h1M224 13h1M231 13h1M249 13h2M252 13h1M254 13h2M257 13h1M266 13h1M268 13h1M271 13h1M278 13h1M3 14h1M7 14h1M9 14h1M19 14h1M24 14h1M26 14h1M33 14h1M38 14h1M40 14h1M43 14h1M49 14h1M60 14h1M62 14h2M75 14h1M77 14h1M80 14h1M83 14h1M90 14h1M92 14h1M95 14h1M99 14h1M110 14h1M120 14h1M126 14h1M130 14h2M142 14h1M144 14h1M152 14h1M161 14h1M163 14h1M174 14h1M179 14h1M182 14h1M194 14h1M210 14h1M232 14h1M235 14h1M245 14h1M250 14h1M261 14h1M263 14h1M271 14h1M2 15h1M5 15h1M8 15h4M15 15h1M19 15h2M25 15h1M34 15h2M42 15h1M54 15h1M60 15h1M68 15h1M75 15h1M77 15h1M80 15h1M82 15h1M84 15h1M89 15h2M92 15h1M94 15h1M104 15h1M106 15h1M108 15h1M118 15h2M121 15h1M128 15h1M131 15h1M134 15h1M137 15h1M142 15h1M161 15h1M168 15h1M174 15h2M192 15h4M199 15h1M212 15h1M216 15h1M218 15h1M220 15h1M224 15h1M228 15h1M231 15h3M242 15h1M272 15h2M277 15h2M7 16h1M13 16h1M16 16h1M22 16h1M28 16h2M32 16h1M36 16h1M44 16h1M47 16h1M51 16h1M57 16h1M59 16h1M62 16h1M64 16h1M68 16h2M72 16h1M76 16h1M79 16h1M83 16h1M87 16h2M92 16h1M96 16h2M99 16h1M101 16h1M105 16h1M110 16h3M117 16h1M128 16h2M132 16h1M139 16h1M141 16h3M145 16h1M150 16h1M153 16h1M156 16h1M170 16h2M178 16h2M183 16h1M188 16h1M198 16h1M201 16h1M206 16h1M213 16h2M219 16h1M226 16h1M228 16h1M234 16h1M237 16h1M244 16h1M256 16h2M264 16h1M268 16h1M275 16h1M2 17h1M4 17h1M6 17h1M9 17h1M21 17h1M23 17h1M27 17h1M32 17h2M39 17h1M41 17h1M45 17h2M53 17h1M56 17h2M75 17h1M78 17h1M91 17h1M104 17h2M110 17h1M113 17h1M124 17h1M126 17h2M133 17h1M138 17h1M143 17h1M150 17h1M173 17h1M176 17h2M181 17h1M186 17h1M192 17h1M196 17h1M198 17h1M212 17h2M216 17h1M218 17h1M220 17h1M223 17h1M225 17h1M229 17h1M247 17h1M262 17h1M264 17h1M266 17h1M269 17h1M272 17h1M277 17h1M0 18h2M4 18h1M12 18h1M17 18h2M21 18h1M24 18h3M28 18h1M40 18h1M44 18h1M47 18h1M49 18h1M54 18h1M56 18h1M61 18h2M64 18h1M69 18h1M72 18h1M75 18h1M78 18h1M84 18h1M86 18h1M97 18h1M99 18h1M103 18h1M105 18h1M116 18h1M123 18h1M129 18h2M134 18h1M140 18h1M147 18h1M149 18h1M160 18h1M165 18h1M176 18h1M181 18h1M184 18h1M188 18h1M196 18h1M207 18h1M219 18h2M231 18h1M233 18h1M245 18h1M255 18h1M257 18h1M259 18h1M268 18h1M276 18h1M278 18h1M0 19h1M20 19h1M23 19h1M25 19h2M30 19h1M32 19h1M34 19h2M38 19h2M47 19h1M57 19h1M73 19h1M81 19h1M84 19h1M88 19h2M92 19h1M97 19h1M105 19h1M107 19h1M112 19h1M120 19h1M122 19h2M127 19h1M137 19h1M151 19h1M153 19h1M172 19h1M175 19h2M181 19h1M185 19h2M188 19h1M191 19h2M210 19h1M219 19h1M221 19h1M225 19h1M227 19h1M243 19h1M245 19h1M262 19h4M267 19h1M270 19h1M274 19h2M278 19h1M5 20h1M7 20h1M10 20h1M12 20h2M19 20h1M21 20h1M40 20h1M44 20h1M47 20h1M55 20h2M63 20h1M65 20h1M76 20h3M91 20h1M93 20h1M96 20h1M101 20h1M103 20h1M110 20h1M115 20h1M128 20h1M134 20h1M136 20h1M143 20h1M145 20h1M149 20h1M161 20h1M174 20h1M176 20h1M182 20h1M194 20h2M204 20h1M220 20h1M233 20h1M240 20h1M262 20h1M266 20h1M268 20h1M271 20h1M7 21h3M12 21h2M16 21h2M21 21h1M25 21h1M29 21h1M32 21h2M40 21h1M55 21h1M62 21h1M67 21h1M72 21h1M75 21h1M80 21h1M82 21h1M99 21h1M105 21h1M107 21h1M109 21h1M117 21h1M131 21h1M134 21h1M143 21h1M173 21h1M188 21h1M191 21h2M197 21h1M206 21h2M211 21h1M214 21h1M258 21h1M261 21h1M274 21h2M277 21h1M0 22h2M5 22h2M8 22h1M11 22h1M13 22h1M16 22h1M20 22h3M24 22h1M28 22h1M34 22h1M37 22h1M39 22h1M42 22h1M49 22h1M57 22h1M80 22h1M83 22h1M88 22h1M118 22h1M121 22h1M132 22h1M142 22h1M149 22h1M152 22h1M159 22h2M173 22h2M181 22h2M189 22h2M197 22h1M221 22h1M233 22h1M243 22h1M255 22h1M258 22h1M271 22h1M275 22h1M279 22h1M12 23h1M14 23h1M16 23h1M21 23h1M25 23h5M32 23h2M49 23h1M52 23h1M56 23h1M65 23h1M68 23h2M72 23h2M82 23h1M93 23h1M103 23h1M107 23h1M113 23h1M125 23h1M128 23h1M134 23h1M140 23h1M142 23h1M149 23h1M153 23h1M157 23h1M170 23h2M174 23h1M176 23h1M181 23h1M202 23h1M207 23h1M210 23h1M213 23h2M219 23h1M223 23h1M229 23h1M231 23h1M236 23h2M240 23h1M246 23h1M259 23h1M261 23h1M264 23h1M268 23h1M274 23h1M277 23h1M0 24h1M7 24h2M12 24h1M14 24h1M16 24h1M22 24h1M24 24h2M37 24h2M45 24h1M47 24h1M50 24h1M52 24h1M63 24h1M69 24h1M73 24h2M78 24h1M82 24h1M87 24h1M89 24h1M101 24h1M103 24h1M105 24h1M107 24h1M113 24h1M118 24h1M124 24h1M134 24h1M137 24h2M141 24h1M148 24h1M161 24h2M165 24h1M168 24h1M171 24h4M179 24h1M183 24h1M189 24h1M191 24h1M196 24h1M200 24h1M202 24h1M207 24h2M210 24h1M212 24h1M217 24h1M222 24h1M229 24h1M235 24h1M239 24h1M245 24h1M255 24h1M257 24h1M260 24h1M263 24h1M265 24h1M269 24h1M274 24h1M0 25h1M9 25h2M12 25h1M17 25h1M45 25h1M50 25h1M58 25h4M63 25h1M76 25h2M80 25h1M82 25h1M89 25h1M93 25h1M97 25h2M106 25h1M108 25h1M110 25h1M114 25h2M117 25h1M119 25h2M130 25h1M134 25h1M140 25h1M143 25h2M147 25h2M150 25h1M167 25h1M173 25h1M177 25h1M179 25h1M182 25h1M184 25h1M188 25h1M201 25h1M204 25h1M213 25h1M217 25h1M223 25h1M245 25h1M259 25h3M265 25h1M4 26h1M12 26h2M15 26h1M21 26h1M23 26h1M34 26h2M42 26h1M45 26h1M47 26h1M52 26h1M55 26h1M57 26h2M64 26h2M67 26h2M85 26h2M88 26h1M90 26h1M95 26h1M106 26h2M109 26h1M117 26h1M130 26h1M134 26h1M141 26h1M147 26h1M157 26h1M159 26h2M170 26h1M174 26h1M180 26h1M185 26h1M188 26h1M202 26h1M223 26h1M248 26h2M251 26h3M256 26h2M271 26h1M1 27h1M3 27h2M9 27h2M13 27h1M15 27h2M25 27h1M28 27h1M35 27h1M37 27h2M58 27h1M61 27h1M63 27h2M69 27h1M72 27h1M80 27h1M85 27h1M97 27h1M99 27h2M117 27h1M121 27h2M129 27h1M137 27h1M150 27h1M167 27h1M169 27h1M183 27h1M185 27h1M205 27h1M210 27h1M214 27h1M218 27h2M223 27h1M226 27h1M230 27h1M234 27h2M238 27h1M247 27h1M254 27h1M268 27h1M270 27h1M275 27h2M279 27h1M0 28h1M6 28h1M17 28h1M25 28h1M36 28h1M42 28h1M44 28h1M47 28h2M51 28h1M53 28h1M55 28h1M57 28h1M62 28h1M72 28h1M77 28h1M81 28h3M85 28h1M88 28h1M91 28h1M100 28h1M106 28h1M111 28h1M115 28h1M117 28h1M121 28h1M140 28h1M146 28h1M150 28h1M153 28h1M160 28h1M165 28h1M169 28h1M177 28h2M180 28h2M183 28h1M194 28h1M201 28h1M204 28h1M209 28h2M221 28h1M230 28h1M232 28h1M234 28h1M239 28h1M242 28h1M247 28h1M259 28h1M262 28h2M265 28h2M268 28h1M270 28h1M1 29h1M4 29h3M13 29h1M17 29h2M25 29h1M32 29h1M35 29h2M41 29h2M46 29h2M59 29h1M61 29h1M69 29h1M76 29h1M89 29h1M93 29h1M97 29h1M123 29h1M126 29h1M144 29h1M146 29h1M156 29h1M160 29h1M176 29h1M178 29h2M181 29h1M186 29h1M192 29h3M203 29h1M210 29h1M214 29h1M218 29h1M221 29h1M223 29h2M227 29h2M230 29h1M235 29h1M247 29h1M251 29h1M253 29h1M259 29h2M264 29h1M266 29h1M271 29h1M7 30h1M10 30h3M14 30h1M16 30h1M22 30h2M33 30h3M43 30h1M45 30h2M52 30h1M56 30h2M66 30h1M68 30h1M71 30h1M76 30h1M83 30h4M93 30h1M95 30h1M98 30h1M100 30h1M108 30h1M111 30h2M114 30h1M116 30h1M118 30h1M120 30h2M125 30h1M128 30h2M139 30h1M147 30h1M150 30h1M156 30h1M161 30h1M169 30h1M171 30h1M175 30h2M179 30h1M193 30h2M197 30h1M205 30h1M210 30h1M215 30h1M220 30h1M224 30h1M234 30h1M236 30h1M245 30h2M248 30h1M256 30h2M262 30h2M270 30h1M277 30h3M1 31h1M14 31h1M17 31h1M25 31h1M29 31h1M35 31h1M41 31h2M50 31h1M58 31h1M67 31h1M72 31h1M75 31h1M79 31h1M90 31h2M99 31h1M108 31h1M110 31h1M112 31h1M117 31h1M120 31h1M124 31h1M127 31h1M134 31h2M137 31h1M139 31h1M141 31h1M153 31h2M163 31h1M167 31h1M171 31h1M173 31h1M176 31h1M178 31h2M183 31h1M191 31h1M218 31h2M231 31h2M239 31h1M241 31h1M245 31h1M248 31h1M254 31h1M258 31h1M263 31h1M269 31h1M272 31h2M275 31h1M2 32h1M7 32h1M11 32h1M20 32h1M23 32h1M27 32h2M33 32h1M38 32h1M40 32h1M44 32h1M46 32h1M51 32h1M55 32h1M64 32h2M78 32h1M90 32h1M102 32h2M107 32h1M134 32h1M136 32h1M149 32h1M158 32h2M169 32h1M177 32h1M186 32h1M188 32h1M196 32h1M205 32h1M227 32h1M241 32h1M260 32h1M268 32h1M271 32h1M279 32h1M22 33h1M34 33h1M37 33h1M39 33h1M55 33h1M57 33h1M59 33h1M65 33h1M72 33h2M85 33h1M89 33h1M93 33h1M103 33h2M106 33h1M114 33h1M120 33h1M124 33h1M135 33h1M137 33h1M140 33h1M146 33h1M163 33h1M176 33h1M179 33h1M224 33h2M229 33h1M231 33h1M237 33h1M244 33h1M267 33h1M269 33h1M279 33h1M7 34h1M42 34h1M56 34h1M133 34h1M146 34h1M155 34h1M194 34h1M248 34h1M250 34h1M252 34h1M271 34h2M9 35h1M16 35h1M24 35h3M28 35h1M30 35h2M43 35h1M51 35h1M53 35h1M61 35h1M71 35h1M77 35h1M86 35h1M88 35h1M100 35h1M117 35h1M123 35h1M128 35h1M147 35h1M151 35h1M180 35h1M183 35h1M186 35h1M197 35h1M203 35h1M208 35h2M211 35h1M216 35h1M220 35h1M225 35h1M233 35h1M243 35h1M245 35h1M255 35h1M267 35h1M0 36h1M3 36h1M6 36h2M9 36h1M11 36h2M14 36h1M20 36h2M29 36h2M33 36h2M37 36h1M41 36h1M45 36h1M49 36h1M61 36h2M65 36h2M68 36h1M81 36h1M86 36h2M89 36h2M99 36h1M109 36h1M115 36h1M123 36h1M140 36h1M148 36h1M187 36h2M191 36h1M193 36h3M205 36h1M212 36h1M228 36h1M232 36h1M265 36h1M269 36h1M272 36h1M12 37h1M19 37h3M23 37h1M25 37h1M29 37h1M45 37h1M48 37h1M50 37h1M61 37h1M75 37h1M80 37h1M82 37h1M86 37h1M98 37h1M104 37h2M108 37h1M125 37h1M129 37h1M149 37h1M159 37h1M164 37h1M169 37h1M174 37h1M176 37h1M180 37h1M182 37h1M186 37h2M192 37h1M202 37h1M206 37h1M208 37h1M211 37h1M222 37h1M229 37h3M233 37h1M256 37h1M261 37h1M266 37h2M270 37h1M272 37h1M1 38h1M6 38h1M10 38h2M26 38h1M29 38h1M35 38h3M43 38h1M46 38h1M48 38h1M58 38h1M68 38h1M71 38h1M75 38h1M77 38h1M89 38h2M97 38h1M125 38h1M137 38h1M149 38h1M160 38h1M173 38h1M175 38h1M188 38h1M193 38h1M197 38h1M201 38h1M209 38h1M214 38h2M218 38h1M220 38h1M228 38h1M231 38h2M237 38h1M245 38h1M270 38h1M275 38h1M14 39h1M17 39h3M21 39h1M25 39h1M30 39h1M37 39h1M40 39h1M60 39h2M75 39h1M93 39h1M98 39h1M108 39h2M115 39h2M124 39h1M134 39h1M149 39h1M155 39h1M162 39h1M182 39h1M194 39h1M197 39h1M220 39h1M225 39h1M229 39h1M268 39h1M270 39h1M0 40h1M2 40h1M4 40h1M9 40h1M17 40h1M25 40h1M33 40h1M38 40h1M42 40h1M53 40h1M62 40h1M64 40h1M67 40h1M75 40h1M78 40h1M80 40h1M84 40h3M93 40h2M104 40h1M106 40h1M110 40h1M116 40h3M136 40h1M144 40h1M150 40h1M154 40h1M158 40h1M162 40h1M167 40h1M169 40h1M174 40h1M186 40h1M188 40h1M192 40h1M216 40h1M223 40h1M230 40h1M240 40h1M247 40h1M262 40h1M267 40h1M273 40h1M275 40h1M279 40h1M1 41h1M7 41h1M10 41h1M22 41h1M28 41h1M31 41h2M37 41h1M41 41h1M44 41h1M47 41h1M59 41h1M76 41h1M83 41h1M85 41h1M94 41h2M99 41h1M125 41h1M128 41h1M133 41h1M137 41h1M140 41h1M146 41h1M150 41h1M170 41h3M181 41h2M184 41h1M191 41h1M194 41h1M206 41h1M211 41h1M216 41h1M222 41h2M230 41h1M232 41h1M238 41h3M245 41h1M248 41h1M255 41h1M260 41h1M265 41h1M270 41h2M277 41h1M279 41h1M1 42h1M4 42h1M10 42h2M13 42h1M28 42h1M30 42h1M32 42h1M40 42h2M54 42h1M57 42h1M61 42h1M66 42h1M68 42h1M71 42h4M78 42h2M89 42h1M92 42h2M104 42h1M106 42h2M111 42h1M116 42h2M119 42h1M129 42h1M135 42h1M138 42h1M142 42h2M146 42h1M160 42h1M167 42h1M170 42h1M174 42h1M183 42h1M190 42h2M195 42h2M205 42h1M214 42h1M231 42h1M233 42h1M243 42h1M250 42h1M252 42h1M257 42h1M259 42h1M269 42h1M271 42h1M274 42h1M0 43h1M6 43h1M8 43h1M13 43h2M16 43h1M22 43h1M29 43h1M32 43h1M41 43h1M43 43h1M45 43h1M54 43h1M59 43h1M61 43h1M66 43h1M71 43h1M76 43h1M83 43h1M85 43h1M92 43h2M96 43h1M98 43h1M101 43h2M109 43h1M113 43h1M121 43h1M123 43h1M126 43h1M134 43h3M150 43h1M156 43h1M178 43h1M183 43h1M191 43h1M193 43h1M214 43h1M218 43h3M228 43h1M230 43h1M236 43h1M244 43h1M250 43h2M253 43h1M263 43h1M267 43h1M273 43h1M278 43h1M0 44h3M8 44h1M10 44h1M26 44h1M34 44h1M40 44h1M44 44h1M57 44h1M59 44h1M76 44h2M80 44h1M82 44h1M85 44h1M96 44h1M100 44h1M103 44h3M108 44h1M112 44h1M120 44h1M132 44h1M135 44h1M140 44h1M153 44h1M169 44h1M171 44h1M182 44h1M193 44h1M206 44h1M218 44h1M237 44h2M244 44h1M246 44h1M248 44h1M252 44h1M255 44h1M257 44h1M261 44h1M270 44h1M0 45h1M2 45h1M5 45h1M10 45h2M15 45h1M24 45h1M31 45h1M33 45h3M43 45h1M54 45h1M57 45h1M59 45h1M61 45h1M65 45h1M80 45h1M85 45h1M91 45h1M102 45h2M106 45h1M112 45h1M114 45h2M117 45h1M120 45h1M125 45h1M128 45h2M133 45h1M135 45h1M141 45h1M148 45h1M156 45h2M160 45h1M162 45h1M168 45h1M175 45h1M181 45h1M205 45h1M211 45h1M230 45h1M235 45h1M237 45h1M240 45h2M246 45h1M249 45h1M259 45h1M267 45h1M272 45h1M11 46h1M23 46h1M26 46h1M30 46h1M35 46h2M39 46h3M48 46h1M55 46h1M58 46h1M60 46h1M62 46h1M72 46h1M75 46h1M86 46h1M93 46h1M95 46h1M102 46h1M104 46h1M107 46h1M109 46h1M114 46h1M117 46h1M120 46h1M126 46h1M149 46h3M159 46h4M168 46h2M173 46h1M183 46h1M186 46h1M188 46h1M191 46h2M198 46h1M206 46h1M214 46h1M222 46h1M232 46h1M235 46h1M241 46h1M245 46h4M255 46h1M257 46h2M267 46h2M270 46h2M276 46h1M1 47h2M13 47h2M19 47h1M21 47h1M23 47h1M31 47h1M39 47h1M41 47h1M44 47h1M56 47h2M61 47h1M65 47h1M77 47h1M84 47h2M89 47h1M108 47h1M115 47h3M124 47h2M127 47h1M131 47h1M135 47h1M137 47h1M141 47h1M143 47h1M145 47h1M147 47h1M149 47h1M151 47h1M158 47h2M188 47h1M202 47h2M212 47h1M223 47h1M226 47h1M228 47h1M235 47h1M238 47h1M243 47h1M249 47h1M259 47h1M3 48h2M13 48h1M17 48h1M22 48h1M25 48h2M29 48h1M34 48h1M36 48h1M40 48h1M42 48h1M44 48h1M46 48h1M48 48h1M50 48h1M52 48h1M57 48h1M62 48h1M65 48h1M67 48h1M78 48h1M87 48h1M93 48h1M96 48h1M99 48h2M103 48h2M113 48h4M126 48h2M129 48h1M136 48h1M140 48h1M149 48h1M158 48h1M163 48h1M172 48h2M190 48h1M193 48h1M196 48h1M199 48h1M201 48h1M207 48h1M212 48h1M221 48h1M224 48h1M230 48h1M242 48h2M251 48h1M254 48h1M262 48h1M267 48h1M4 49h1M9 49h2M14 49h2M17 49h1M21 49h1M25 49h1M30 49h1M35 49h1M37 49h2M41 49h1M45 49h3M51 49h2M55 49h2M60 49h1M64 49h1M71 49h1M75 49h2M85 49h2M92 49h1M98 49h1M100 49h1M105 49h1M110 49h1M112 49h1M114 49h2M119 49h1M125 49h2M146 49h1M150 49h1M153 49h2M160 49h1M163 49h1M165 49h1M172 49h2M180 49h1M183 49h1M188 49h1M195 49h1M201 49h1M206 49h1M211 49h1M213 49h1M224 49h1M226 49h1M230 49h1M232 49h1M245 49h1M252 49h1M259 49h1M265 49h1M267 49h1M269 49h1M272 49h1M276 49h1M0 50h1M8 50h1M11 50h1M18 50h1M27 50h1M37 50h1M39 50h1M43 50h1M47 50h1M55 50h1M62 50h1M66 50h2M69 50h1M71 50h1M80 50h1M85 50h1M89 50h1M98 50h1M119 50h1M122 50h1M125 50h1M128 50h1M134 50h2M137 50h5M144 50h1M150 50h1M160 50h1M165 50h3M176 50h1M187 50h1M191 50h1M201 50h1M209 50h1M211 50h1M215 50h1M219 50h1M222 50h1M226 50h1M229 50h1M232 50h1M246 50h1M248 50h1M252 50h2M256 50h1M258 50h2M263 50h1M265 50h1M271 50h1M273 50h1"/>
<path stroke="#d9f0d3" d="M8 0h1M11 0h2M18 0h1M21 0h1M31 0h1M33 0h1M40 0h1M43 0h4M50 0h1M57 0h1M59 0h2M63 0h1M66 0h2M78 0h1M81 0h1M84 0h1M88 0h1M98 0h2M104 0h1M108 0h2M111 0h1M113 0h1M116 0h1M121 0h2M131 0h1M140 0h1M144 0h1M149 0h2M167 0h1M173 0h2M176 0h1M186 0h1M202 0h2M211 0h1M214 0h1M226 0h3M233 0h1M239 0h1M251 0h1M264 0h1M268 0h1M6 1h2M19 1h1M32 1h1M36 1h1M43 1h1M45 1h1M51 1h1M55 1h1M61 1h1M64 1h1M71 1h1M73 1h1M90 1h1M114 1h1M124 1h1M136 1h1M169 1h1M171 1h1M179 1h1M183 1h1M197 1h1M211 1h1M230 1h1M244 1h1M250 1h1M252 1h1M254 1h1M271 1h1M274 1h1M4 2h1M8 2h2M12 2h1M29 2h2M40 2h1M43 2h1M45 2h1M53 2h1M61 2h1M64 2h1M66 2h1M77 2h1M85 2h1M99 2h2M103 2h1M105 2h1M113 2h1M121 2h1M124 2h1M135 2h1M142 2h3M157 2h1M160 2h1M188 2h1M192 2h1M228 2h1M267 2h1M271 2h1M4 3h1M6 3h1M8 3h1M11 3h1M13 3h1M17 3h1M21 3h1M28 3h1M48 3h1M51 3h1M53 3h1M57 3h3M61 3h1M73 3h1M77 3h1M90 3h1M93 3h1M113 3h1M117 3h3M124 3h1M126 3h1M137 3h1M150 3h1M174 3h1M182 3h1M193 3h1M201 3h1M204 3h1M218 3h1M222 3h1M234 3h1M246 3h1M251 3h2M254 3h1M256 3h1M258 3h1M274 3h1M279 3h1M1 4h1M19 4h1M21 4h1M25 4h1M34 4h1M57 4h1M64 4h1M75 4h3M79 4h1M88 4h1M97 4h1M99 4h1M127 4h1M130 4h2M133 4h1M158 4h1M175 4h1M183 4h1M197 4h1M201 4h1M203 4h1M220 4h1M235 4h1M249 4h1M257 4h1M267 4h1M4 5h1M7 5h1M19 5h1M22 5h2M28 5h1M44 5h1M48 5h1M58 5h1M69 5h1M82 5h1M86 5h1M96 5h1M99 5h1M113 5h1M115 5h1M137 5h1M152 5h1M156 5h1M187 5h1M220 5h1M226 5h1M231 5h1M234 5h1M261 5h1M269 5h1M272 5h1M274 5h1M5 6h1M31 6h1M34 6h1M44 6h2M55 6h1M65 6h1M80 6h1M91 6h1M96 6h1M116 6h1M126 6h1M129 6h1M147 6h1M160 6h1M174 6h1M178 6h1M181 6h1M204 6h1M206 6h1M237 6h1M270 6h1M36 7h1M40 7h1M44 7h1M59 7h1M61 7h1M72 7h1M87 7h1M98 7h1M107 7h1M126 7h1M135 7h1M138 7h1M147 7h1M151 7h1M153 7h1M157 7h1M171 7h1M175 7h1M178 7h1M188 7h1M207 7h1M210 7h1M214 7h1M228 7h1M246 7h1M268 7h1M279 7h1M9 8h2M14 8h2M28 8h1M33 8h1M38 8h1M42 8h2M51 8h1M58 8h5M68 8h1M70 8h1M75 8h1M85 8h1M87 8h1M89 8h1M100 8h3M105 8h1M115 8h1M123 8h1M126 8h1M136 8h2M142 8h1M147 8h1M149 8h1M155 8h1M165 8h1M171 8h1M176 8h1M183 8h1M190 8h1M212 8h1M227 8h2M236 8h1M242 8h1M251 8h2M276 8h1M5 9h1M9 9h1M13 9h1M16 9h1M19 9h1M22 9h1M27 9h1M33 9h1M45 9h2M53 9h1M57 9h1M61 9h1M72 9h1M78 9h2M82 9h1M84 9h2M94 9h2M98 9h1M107 9h1M109 9h1M114 9h1M121 9h1M126 9h1M131 9h1M135 9h1M143 9h1M156 9h1M160 9h1M170 9h1M175 9h2M179 9h2M182 9h1M193 9h1M225 9h1M231 9h2M245 9h1M255 9h1M267 9h1M2 10h1M6 10h1M29 10h1M37 10h1M47 10h1M57 10h1M73 10h1M84 10h1M102 10h1M113 10h1M177 10h1M235 10h1M263 10h1M20 11h1M63 11h1M84 11h1M87 11h1M107 11h1M109 11h1M124 11h1M129 11h1M144 11h1M155 11h1M163 11h1M220 11h1M224 11h1M235 11h1M250 11h1M2 12h1M7 12h1M13 12h1M28 12h1M61 12h2M65 12h1M73 12h1M78 12h1M80 12h1M86 12h1M94 12h2M111 12h1M117 12h1M120 12h1M128 12h1M135 12h1M138 12h2M144 12h1M180 12h1M183 12h1M209 12h1M219 12h1M223 12h2M273 12h1M11 13h1M27 13h1M36 13h1M40 13h2M44 13h1M52 13h1M55 13h4M60 13h1M62 13h1M76 13h1M104 13h2M113 13h1M121 13h1M128 13h1M184 13h1M187 13h1M192 13h1M197 13h1M203 13h1M232 13h1M248 13h1M262 13h1M270 13h1M13 14h1M36 14h1M51 14h1M58 14h2M72 14h1M86 14h1M88 14h1M94 14h1M117 14h1M133 14h1M136 14h1M143 14h1M173 14h1M200 14h1M233 14h1M238 14h1M0 15h1M13 15h1M29 15h1M33 15h1M43 15h1M45 15h1M47 15h2M53 15h1M57 15h1M59 15h1M78 15h1M81 15h1M83 15h1M86 15h1M88 15h1M91 15h1M103 15h1M111 15h1M113 15h1M123 15h1M129 15h2M148 15h1M159 15h1M164 15h1M170 15h1M191 15h1M204 15h2M227 15h1M0 16h1M8 16h1M25 16h2M31 16h1M35 16h1M45 16h1M54 16h1M60 16h1M65 16h1M73 16h1M75 16h1M80 16h2M85 16h1M89 16h1M95 16h1M115 16h2M135 16h3M144 16h1M148 16h1M155 16h1M162 16h2M165 16h1M186 16h1M196 16h1M203 16h1M211 16h1M243 16h1M245 16h1M247 16h1M265 16h1M5 17h1M13 17h1M28 17h1M40 17h1M42 17h1M55 17h1M62 17h1M80 17h1M85 17h3M101 17h1M119 17h1M141 17h1M174 17h1M210 17h2M219 17h1M268 17h1M273 17h1M7 18h1M30 18h1M33 18h2M36 18h1M50 18h1M60 18h1M65 18h2M88 18h1M90 18h2M102 18h1M121 18h1M124 18h1M143 18h1M155 18h1M174 18h1M180 18h1M192 18h1M197 18h1M209 18h1M226 18h1M275 18h1M279 18h1M7 19h1M11 19h1M13 19h1M15 19h1M18 19h1M22 19h1M36 19h2M41 19h1M50 19h1M58 19h2M61 19h1M66 19h1M68 19h1M90 19h2M103 19h1M108 19h2M113 19h1M117 19h1M126 19h1M128 19h2M134 19h2M147 19h1M174 19h1M198 19h2M204 19h1M214 19h1M220 19h1M223 19h1M228 19h1M231 19h1M242 19h1M246 19h1M266 19h1M271 19h1M23 20h1M41 20h1M45 20h1M48 20h1M51 20h1M66 20h1M88 20h1M95 20h1M107 20h1M126 20h1M129 20h1M147 20h1M188 20h1M221 20h1M225 20h1M231 20h1M245 20h2M258 20h1M261 20h1M275 20h1M0 21h1M4 21h1M23 21h1M37 21h1M65 21h1M79 21h1M83 21h1M97 21h1M100 21h1M113 21h1M126 21h1M128 21h1M153 21h1M175 21h1M196 21h1M203 21h1M225 21h1M262 21h1M265 21h1M267 21h1M3 22h1M29 22h1M32 22h1M84 22h1M96 22h1M104 22h1M109 22h1M113 22h1M117 22h1M128 22h1M135 22h1M140 22h1M147 22h2M205 22h1M231 22h1M245 22h1M277 22h1M1 23h1M8 23h1M11 23h1M13 23h1M18 23h1M37 23h2M42 23h1M45 23h1M57 23h1M62 23h1M64 23h1M75 23h1M84 23h2M88 23h2M100 23h2M106 23h1M111 23h1M115 23h1M123 23h1M132 23h1M136 23h1M144 23h1M146 23h1M150 23h1M161 23h1M166 23h1M175 23h1M179 23h2M182 23h1M190 23h1M193 23h1M232 23h1M242 23h2M255 23h1M273 23h1M276 23h1M10 24h1M17 24h1M27 24h1M41 24h1M43 24h1M56 24h1M59 24h1M61 24h1M71 24h2M75 24h2M84 24h1M88 24h1M94 24h1M100 24h1M109 24h1M116 24h1M122 24h1M125 24h1M127 24h1M129 24h2M132 24h1M136 24h1M139 24h1M144 24h2M151 24h1M154 24h1M159 24h1M167 24h1M170 24h1M176 24h1M178 24h1M181 24h1M185 24h2M188 24h1M190 24h1M193 24h1M197 24h1M218 24h1M220 24h1M228 24h1M233 24h1M237 24h2M242 24h1M258 24h1M262 24h1M264 24h1M272 24h1M278 24h2M8 25h1M19 25h1M23 25h1M28 25h2M37 25h1M40 25h1M55 25h1M75 25h1M79 25h1M90 25h1M102 25h1M105 25h1M113 25h1M128 25h2M133 25h1M135 25h2M159 25h1M187 25h1M191 25h1M193 25h1M196 25h1M199 25h1M209 25h1M211 25h1M233 25h1M249 25h1M272 25h1M1 26h2M10 26h2M27 26h1M46 26h1M60 26h1M62 26h1M78 26h1M100 26h1M113 26h1M119 26h3M124 26h1M133 26h1M137 26h1M144 26h1M150 26h1M153 26h1M165 26h1M175 26h1M186 26h1M192 26h2M205 26h1M221 26h1M225 26h1M245 26h1M272 26h2M278 26h1M6 27h1M8 27h1M11 27h1M14 27h1M20 27h1M22 27h1M27 27h1M36 27h1M41 27h1M48 27h2M56 27h1M71 27h1M88 27h1M91 27h2M94 27h1M110 27h1M124 27h1M126 27h1M128 27h1M144 27h1M147 27h1M171 27h1M174 27h1M176 27h1M193 27h1M202 27h1M207 27h1M211 27h1M215 27h1M222 27h1M228 27h1M245 27h1M250 27h1M8 28h2M11 28h3M15 28h1M20 28h1M23 28h1M35 28h1M45 28h2M54 28h1M59 28h1M61 28h1M64 28h3M76 28h1M78 28h1M86 28h1M90 28h1M94 28h1M97 28h1M107 28h1M110 28h1M113 28h1M131 28h1M133 28h1M149 28h1M151 28h1M156 28h1M170 28h1M182 28h1M188 28h1M191 28h1M197 28h1M216 28h1M241 28h1M245 28h1M267 28h1M271 28h1M279 28h1M8 29h2M11 29h1M28 29h1M31 29h1M40 29h1M51 29h1M55 29h3M62 29h1M73 29h1M80 29h1M91 29h1M94 29h1M99 29h1M102 29h1M104 29h1M108 29h1M112 29h1M118 29h1M124 29h1M131 29h1M135 29h1M143 29h1M151 29h1M162 29h1M164 29h2M183 29h1M188 29h1M197 29h1M205 29h2M211 29h1M222 29h1M232 29h1M246 29h1M252 29h1M267 29h1M272 29h1M275 29h1M277 29h1M1 30h1M24 30h1M26 30h1M29 30h1M44 30h1M48 30h1M55 30h1M60 30h1M64 30h1M67 30h1M69 30h1M77 30h1M102 30h1M110 30h1M113 30h1M127 30h1M133 30h1M135 30h1M140 30h1M151 30h1M153 30h1M170 30h1M174 30h1M180 30h1M207 30h1M219 30h1M229 30h1M240 30h1M242 30h1M250 30h1M254 30h1M258 30h1M264 30h1M267 30h1M6 31h2M11 31h1M26 31h1M28 31h1M43 31h1M49 31h1M56 31h1M60 31h1M80 31h2M103 31h1M113 31h2M119 31h1M125 31h1M131 31h1M177 31h1M182 31h1M186 31h1M216 31h1M222 31h1M224 31h1M264 31h2M270 31h1M279 31h1M15 32h1M17 32h1M25 32h1M31 32h1M42 32h1M48 32h1M67 32h1M100 32h1M116 32h1M129 32h1M143 32h1M156 32h1M160 32h1M176 32h1M180 32h2M192 32h1M225 32h1M258 32h1M265 32h1M276 32h1M0 33h1M13 33h1M16 33h1M26 33h1M29 33h2M33 33h1M36 33h1M40 33h1M62 33h1M64 33h1M123 33h1M136 33h1M180 33h1M193 33h1M233 33h1M246 33h1M253 33h1M256 33h1M33 34h1M44 34h2M65 34h2M82 34h1M124 34h1M147 34h1M176 34h1M251 34h1M1 35h1M3 35h1M6 35h1M20 35h1M67 35h1M87 35h1M91 35h1M105 35h1M109 35h1M148 35h1M192 35h1M194 35h1M230 35h1M246 35h1M250 35h1M270 35h1M274 35h1M4 36h1M13 36h1M24 36h1M40 36h1M48 36h1M53 36h1M72 36h1M78 36h1M113 36h1M128 36h1M130 36h1M139 36h1M144 36h1M151 36h1M213 36h1M226 36h1M260 36h1M4 37h1M6 37h1M8 37h1M14 37h1M31 37h2M34 37h1M37 37h1M42 37h1M55 37h1M57 37h1M60 37h1M63 37h1M68 37h1M71 37h1M79 37h1M85 37h1M87 37h1M90 37h1M99 37h1M102 37h1M107 37h1M132 37h1M134 37h1M136 37h1M139 37h1M161 37h1M210 37h1M224 37h1M226 37h1M234 37h1M264 37h1M268 37h1M0 38h1M5 38h1M7 38h1M15 38h1M18 38h1M27 38h1M33 38h2M44 38h1M47 38h1M61 38h6M78 38h1M101 38h1M106 38h1M109 38h1M115 38h2M119 38h1M124 38h1M134 38h1M138 38h2M143 38h1M147 38h1M176 38h1M192 38h1M276 38h1M279 38h1M35 39h1M48 39h1M59 39h1M64 39h2M144 39h1M203 39h2M218 39h1M221 39h1M13 40h1M34 40h1M44 40h1M51 40h1M68 40h1M77 40h1M79 40h1M87 40h1M90 40h2M102 40h1M115 40h1M124 40h1M135 40h1M138 40h1M147 40h1M151 40h1M193 40h1M257 40h1M268 40h1M271 40h1M0 41h1M4 41h1M13 41h1M19 41h1M21 41h1M25 41h1M49 41h1M58 41h1M66 41h2M75 41h1M120 41h2M132 41h1M144 41h2M178 41h1M193 41h1M205 41h1M231 41h1M237 41h1M242 41h1M246 41h1M251 41h2M254 41h1M266 41h2M0 42h1M2 42h1M5 42h1M17 42h1M19 42h2M24 42h2M39 42h1M42 42h1M45 42h1M59 42h1M65 42h1M75 42h1M94 42h1M99 42h1M113 42h2M126 42h1M140 42h1M145 42h1M151 42h1M157 42h1M161 42h1M185 42h1M187 42h1M192 42h1M197 42h1M211 42h1M227 42h1M230 42h1M235 42h1M248 42h2M254 42h1M262 42h2M272 42h1M275 42h1M2 43h1M18 43h1M40 43h1M42 43h1M47 43h1M57 43h1M62 43h1M64 43h2M79 43h1M171 43h1M181 43h1M212 43h1M248 43h1M256 43h1M279 43h1M9 44h1M19 44h1M38 44h1M45 44h1M50 44h1M61 44h1M64 44h1M69 44h1M124 44h1M146 44h1M160 44h1M197 44h1M230 44h1M233 44h1M235 44h1M243 44h1M253 44h1M8 45h1M20 45h1M40 45h2M51 45h1M58 45h1M62 45h1M64 45h1M67 45h2M76 45h1M82 45h1M89 45h2M99 45h1M132 45h1M136 45h1M161 45h1M180 45h1M201 45h1M212 45h3M227 45h2M253 45h2M256 45h1M264 45h1M271 45h1M4 46h1M9 46h1M14 46h1M17 46h2M38 46h1M43 46h2M50 46h1M66 46h1M68 46h1M73 46h1M79 46h2M83 46h1M87 46h1M98 46h1M133 46h1M137 46h1M145 46h1M148 46h1M175 46h1M204 46h1M209 46h1M221 46h1M230 46h1M249 46h2M254 46h1M259 46h1M264 46h1M269 46h1M6 47h1M9 47h2M15 47h1M40 47h1M45 47h1M47 47h1M64 47h1M79 47h1M90 47h2M100 47h1M144 47h1M153 47h1M156 47h1M164 47h1M171 47h1M185 47h1M191 47h1M193 47h1M205 47h1M237 47h1M253 47h1M265 47h1M267 47h1M2 48h1M12 48h1M21 48h1M24 48h1M28 48h1M39 48h1M47 48h1M49 48h1M51 48h1M68 48h1M77 48h1M86 48h1M89 48h1M102 48h1M109 48h1M117 48h1M119 48h1M153 48h1M186 48h1M226 48h1M248 48h1M250 48h1M253 48h1M11 49h1M16 49h1M26 49h2M29 49h1M36 49h1M40 49h1M43 49h2M66 49h2M72 49h1M78 49h1M88 49h1M93 49h2M101 49h1M106 49h1M118 49h1M124 49h1M132 49h1M134 49h3M152 49h1M161 49h1M170 49h1M182 49h1M203 49h1M227 49h1M253 49h1M20 50h1M23 50h2M33 50h1M40 50h1M44 50h2M54 50h1M65 50h1M76 50h1M79 50h1M81 50h1M88 50h1M124 50h1M130 50h1M145 50h1M149 50h1M153 50h1M254 50h1M267 50h1"/>
<path stroke="#c0e6ba" d="M0 0h1M4 0h1M26 0h1M34 0h1M48 0h1M56 0h1M58 0h1M83 0h1M86 0h1M141 0h1M206 0h1M241 0h1M271 0h1M278 0h1M34 1h1M37 1h1M44 1h1M57 1h1M88 1h1M93 1h1M117 1h1M121 1h1M192 1h1M231 1h1M10 2h1M13 2h1M33 2h1M36 2h1M42 2h1M48 2h1M62 2h1M86 2h1M90 2h1M107 2h1M114 2h2M123 2h1M137 2h1M145 2h1M156 2h1M173 2h2M191 2h1M193 2h1M219 2h1M275 2h1M9 3h1M12 3h1M20 3h1M34 3h1M60 3h1M87 3h1M115 3h1M121 3h1M128 3h1M140 3h1M151 3h1M161 3h1M185 3h2M197 3h1M211 3h1M219 3h2M253 3h1M271 3h1M275 3h1M6 4h2M9 4h1M14 4h1M33 4h1M36 4h1M66 4h1M84 4h1M102 4h1M263 4h1M269 4h1M271 4h1M2 5h1M13 5h1M64 5h1M89 5h1M4 6h1M6 6h1M33 6h1M46 6h1M82 6h1M8 7h1M33 7h2M45 7h1M83 7h1M104 7h1M117 7h1M125 7h1M165 7h1M185 7h1M197 7h1M204 7h1M267 7h1M8 8h1M20 8h1M45 8h1M55 8h1M67 8h1M72 8h1M84 8h1M88 8h1M93 8h1M125 8h1M132 8h1M205 8h1M248 8h1M255 8h1M263 8h1M265 8h1M279 8h1M7 9h1M15 9h1M34 9h1M36 9h1M49 9h2M104 9h2M115 9h3M136 9h1M153 9h1M155 9h1M186 9h1M199 9h1M247 9h1M275 9h1M62 10h1M29 11h1M44 11h1M80 11h1M267 11h1M15 12h1M18 12h1M23 12h1M33 12h1M36 12h1M40 12h1M45 12h1M64 12h1M93 12h1M108 12h1M136 12h1M170 12h1M181 12h1M191 12h1M211 12h1M228 12h1M245 12h1M263 12h1M8 13h1M13 13h1M16 13h1M43 13h1M51 13h1M61 13h1M102 13h1M205 13h1M210 13h1M245 13h1M48 14h1M141 14h1M162 14h1M178 14h1M221 14h1M228 14h1M252 14h1M58 15h1M61 15h1M67 15h1M102 15h1M147 15h1M197 15h1M221 15h1M239 15h1M263 15h1M271 15h1M2 16h1M18 16h1M24 16h1M33 16h2M37 16h1M40 16h1M50 16h1M91 16h1M102 16h1M104 16h1M109 16h1M113 16h1M119 16h1M124 16h1M152 16h1M160 16h1M191 16h1M205 16h1M221 16h1M223 16h1M227 16h1M240 16h1M251 16h1M271 16h1M1 17h1M7 17h1M34 17h1M61 17h1M68 17h1M72 17h1M84 17h1M88 17h2M112 17h1M144 17h1M155 17h1M159 17h1M248 17h1M251 17h1M258 17h1M6 18h1M13 18h1M20 18h1M29 18h1M43 18h1M51 18h1M104 18h1M106 18h1M117 18h1M126 18h1M141 18h1M161 18h1M213 18h1M236 18h1M271 18h1M9 19h1M63 19h2M75 19h1M77 19h1M83 19h1M99 19h1M115 19h1M132 19h1M144 19h1M178 19h2M194 19h1M9 20h1M20 20h1M29 20h1M37 20h1M58 20h1M144 20h1M180 20h1M267 20h1M19 21h1M44 21h1M47 21h1M66 21h1M88 21h1M251 21h1M270 21h1M279 21h1M72 22h1M77 22h1M81 22h1M102 22h1M193 22h1M252 22h1M254 22h1M3 23h1M43 23h2M50 23h1M55 23h1M66 23h1M80 23h1M94 23h1M102 23h1M110 23h1M133 23h1M137 23h1M147 23h1M187 23h1M211 23h1M218 23h1M269 23h1M6 24h1M9 24h1M20 24h2M26 24h1M29 24h1M44 24h1M64 24h2M67 24h1M83 24h1M91 24h1M99 24h1M115 24h1M123 24h1M152 24h1M155 24h1M234 24h1M241 24h1M244 24h1M246 24h1M271 24h1M275 24h1M34 25h1M73 25h1M84 25h1M91 25h1M155 25h1M273 25h1M29 26h1M44 26h1M61 26h1M87 26h1M129 26h1M139 26h1M210 26h2M275 26h1M29 27h1M34 27h1M40 27h1M42 27h2M45 27h1M89 27h1M93 27h1M272 27h1M16 28h1M29 28h1M32 28h1M34 28h1M40 28h1M52 28h1M68 28h1M75 28h1M95 28h1M109 28h1M119 28h1M128 28h1M135 28h2M193 28h1M236 28h1M7 29h1M22 29h2M26 29h1M65 29h1M72 29h1M88 29h1M115 29h1M121 29h1M136 29h1M175 29h1M191 29h1M215 29h1M248 29h1M13 30h1M21 30h1M62 30h1M72 30h1M88 30h2M131 30h1M144 30h1M186 30h1M237 30h1M247 30h1M9 31h1M45 31h1M156 31h1M160 31h1M220 31h1M228 31h1M250 31h1M82 32h1M274 32h1M48 33h1M147 33h1M250 33h1M252 33h1M270 33h1M272 33h1M275 33h1M1 34h1M59 34h1M77 34h1M99 34h1M107 34h1M36 35h1M48 35h1M64 35h1M75 35h1M78 35h1M99 35h1M116 35h1M120 35h1M122 35h1M251 35h1M271 35h1M15 36h1M23 36h1M120 36h1M127 36h1M129 36h1M235 36h1M263 36h1M279 36h1M7 37h1M10 37h1M36 37h1M66 37h1M101 37h1M118 37h1M126 37h1M135 37h1M205 37h1M255 37h1M258 37h1M275 37h1M13 38h1M16 38h1M40 38h1M81 38h1M114 38h1M123 38h1M233 38h1M267 38h1M271 38h1M8 39h1M20 39h1M26 39h1M29 39h1M33 39h1M44 39h1M78 39h1M80 39h1M265 39h1M7 40h1M57 40h1M88 40h1M120 40h2M210 40h1M29 41h1M34 41h1M51 41h1M64 41h1M73 41h1M77 41h1M101 41h1M124 41h1M134 41h1M185 41h1M233 41h1M249 41h1M6 42h1M34 42h1M43 42h2M58 42h1M85 42h1M87 42h1M115 42h1M131 42h1M137 42h1M144 42h1M219 42h1M228 42h1M251 42h1M267 42h1M279 42h1M23 43h1M44 43h1M80 43h1M129 43h1M143 43h1M6 44h1M29 44h1M65 44h2M200 44h1M254 44h1M18 45h1M55 45h1M179 45h1M193 45h1M203 45h1M248 45h1M251 45h2M274 45h1M279 45h1M8 46h1M19 46h1M64 46h1M90 46h1M115 46h1M131 46h1M147 46h1M211 46h1M227 46h1M234 46h1M251 46h1M3 47h1M81 47h1M94 47h1M102 47h1M113 47h1M248 47h1M250 47h2M254 47h2M277 47h1M63 48h1M144 48h1M180 48h1M223 48h1M252 48h1M258 48h1M261 48h1M263 48h1M48 49h1M59 49h1M63 49h1M87 49h1M91 49h1M102 49h1M109 49h1M120 49h2M129 49h2M175 49h1M246 49h1M249 49h1M255 49h1M1 50h1M13 50h1M29 50h1M52 50h1M90 50h1M97 50h1M129 50h1M131 50h1M220 50h1M250 50h1M268 50h1M272 50h1"/>
<path stroke="#a6dba0" d="M13 0h1M54 0h1M82 0h1M87 0h1M152 0h1M261 0h1M266 1h1M19 2h1M75 2h1M89 2h1M136 2h1M146 2h2M179 2h1M190 2h1M208 2h1M214 2h1M247 2h1M263 2h1M29 3h1M91 3h1M107 3h1M249 3h1M272 3h1M44 4h1M182 4h1M250 4h1M29 5h1M54 5h1M66 5h1M80 5h1M112 5h1M86 6h1M90 6h1M172 6h1M198 6h1M222 6h2M259 6h1M29 7h1M113 7h1M129 7h1M36 8h1M92 8h1M134 8h1M151 8h1M153 8h1M194 8h2M203 8h1M217 8h1M239 8h1M8 9h1M29 9h1M38 9h1M51 9h1M64 9h1M71 9h1M83 9h1M90 9h1M100 9h1M144 9h1M211 9h1M45 10h1M88 10h1M185 11h1M213 11h1M216 11h1M1 12h1M85 12h1M187 12h1M213 12h1M218 12h1M225 12h1M46 13h1M130 13h1M152 13h1M230 13h1M241 13h1M243 13h1M1 15h1M7 15h1M26 15h1M151 15h1M172 15h1M202 15h1M206 15h1M222 15h1M225 15h1M245 15h1M267 15h1M38 16h1M58 16h1M84 16h1M159 16h1M184 16h1M193 16h2M212 16h1M218 16h1M252 16h1M254 16h1M267 16h1M270 16h1M272 16h2M279 16h1M19 17h1M60 17h1M96 17h1M120 17h1M170 17h2M246 17h1M249 17h1M253 17h1M42 19h1M65 19h1M72 19h1M94 19h1M161 19h1M177 19h1M200 19h1M216 19h1M6 20h1M131 20h1M186 20h1M217 20h1M10 21h1M64 21h1M209 21h1M248 21h3M253 21h2M66 22h1M240 22h1M249 22h3M253 22h1M20 23h1M35 23h1M79 23h1M83 23h1M117 23h1M139 23h1M151 23h1M155 23h1M191 23h1M203 23h1M226 23h1M263 23h1M271 23h1M1 24h1M11 24h1M18 24h1M57 24h1M66 24h1M120 24h2M128 24h1M143 24h1M147 24h1M166 24h1M182 24h1M194 24h1M206 24h1M268 24h1M35 25h1M42 25h1M64 25h1M176 25h1M222 25h1M252 25h1M18 26h1M26 26h1M234 26h1M44 27h1M182 27h1M184 27h1M237 27h1M251 27h1M87 28h1M102 28h1M158 28h1M222 28h1M33 29h1M87 29h1M120 29h1M128 29h1M158 29h1M182 29h1M279 29h1M28 30h1M143 30h1M181 30h1M183 30h1M271 30h1M23 31h1M34 31h1M36 31h1M64 31h1M76 31h1M105 31h1M106 32h1M119 32h1M66 33h1M260 33h1M29 34h1M29 35h1M129 35h1M132 35h1M142 35h1M169 35h1M177 35h2M189 35h1M191 35h1M261 35h1M88 36h1M118 36h1M142 36h1M44 37h1M115 37h1M131 37h1M271 37h1M273 37h1M142 38h1M88 39h1M45 40h1M187 40h1M8 41h1M126 41h1M155 41h1M250 41h1M29 42h1M88 42h1M253 42h1M211 43h1M260 43h1M119 44h1M224 44h1M249 44h1M272 44h1M26 45h1M28 45h1M84 45h1M107 45h1M147 45h1M192 45h1M204 45h1M220 45h1M13 46h1M88 46h1M128 46h1M163 46h1M237 46h1M252 46h2M272 46h1M120 47h1M122 47h1M138 47h1M176 47h1M219 47h1M231 47h1M244 47h1M272 47h1M165 48h1M260 48h1M271 48h1M13 49h1M34 49h1M159 49h1M189 49h1M212 49h1M220 49h1M250 49h1M26 50h1M64 50h1M111 50h1M115 50h1M121 50h1M161 50h1M237 50h1"/>
<path stroke="#80c480" d="M89 0h1M247 0h1M258 0h1M269 0h1M272 0h1M30 1h1M267 1h1M2 2h1M17 2h1M24 2h1M44 2h1M65 2h1M76 2h1M78 2h1M202 2h1M227 2h1M229 2h1M272 2h1M66 3h1M84 3h1M120 3h1M210 3h1M248 3h1M143 4h1M171 5h1M205 5h1M1 6h1M24 6h1M47 6h1M159 6h1M227 6h1M63 8h2M107 8h1M130 8h1M141 8h1M159 8h1M186 8h1M230 8h1M253 8h1M264 8h1M122 11h1M44 12h1M55 12h1M90 12h1M102 12h1M179 12h1M185 12h2M247 12h1M34 13h1M90 13h2M44 14h1M231 14h1M17 15h1M22 15h1M85 15h1M101 15h1M124 15h1M165 15h1M180 15h1M190 15h1M238 15h1M241 15h1M257 15h1M56 16h1M66 16h1M107 16h1M120 16h1M253 16h1M22 17h1M36 17h1M38 17h1M51 17h1M54 17h1M77 17h1M83 17h1M108 17h1M116 17h1M142 17h1M182 17h1M190 17h1M201 17h1M231 17h1M240 17h1M250 17h1M45 18h1M67 18h1M71 18h1M80 18h1M98 18h1M254 18h1M51 19h1M55 19h1M74 19h1M114 19h1M154 19h1M166 19h1M253 19h1M272 19h2M276 19h1M16 20h1M25 20h1M151 20h1M160 20h1M223 20h1M112 21h1M181 21h1M43 22h1M65 22h1M129 22h1M137 22h1M248 22h1M9 23h1M23 23h2M34 23h1M53 23h1M108 23h2M138 23h1M143 23h1M158 23h1M173 23h1M184 23h1M196 23h1M248 23h1M254 23h1M256 23h1M262 23h1M34 24h1M40 24h1M98 24h1M192 24h1M211 24h1M252 24h1M32 25h2M36 25h1M39 25h1M47 25h1M62 25h1M71 25h1M142 25h1M158 25h1M215 25h1M250 25h1M254 25h2M6 26h1M43 26h1M108 26h1M131 26h1M164 26h1M181 26h1M233 26h1M2 27h1M7 27h1M31 27h1M33 27h1M67 27h1M112 27h1M148 27h1M165 27h1M206 27h1M18 28h1M33 28h1M126 28h1M167 28h1M226 28h1M246 28h1M12 29h1M19 29h1M79 29h1M86 29h1M96 29h1M110 29h2M129 29h2M163 29h1M173 29h1M190 29h1M216 29h1M226 29h1M262 29h1M73 30h1M126 30h1M152 30h1M217 30h1M13 32h1M22 32h1M30 32h1M92 32h1M194 32h1M242 32h1M270 32h1M72 35h1M79 35h1M84 35h1M89 35h1M112 35h1M115 35h1M130 35h2M141 35h1M166 35h1M181 35h1M253 35h1M260 35h1M265 35h1M53 37h1M77 37h1M124 37h1M127 37h1M130 37h1M142 37h1M260 37h1M41 38h1M86 38h1M135 38h1M211 38h1M268 38h1M279 39h1M95 40h1M234 40h1M269 40h1M88 41h1M102 41h1M152 41h1M169 41h1M198 41h1M235 41h1M33 42h1M236 42h2M114 43h1M169 43h1M79 44h1M186 44h1M188 44h1M191 44h1M250 44h2M269 44h1M25 45h1M86 45h1M101 45h1M234 45h1M268 45h1M12 46h1M31 46h1M113 46h1M129 46h1M143 46h1M213 46h1M236 46h1M242 46h1M256 46h1M265 46h1M274 46h1M0 47h1M7 47h1M33 47h1M42 47h1M49 47h1M75 47h1M128 47h1M155 47h1M174 47h1M201 47h1M204 47h1M211 47h1M229 47h2M252 47h1M279 47h1M0 48h1M181 48h1M246 48h1M255 48h1M12 49h1M24 49h1M68 49h1M178 49h1M192 49h1M202 49h1M218 49h1M256 49h1M271 49h1M2 50h1M99 50h1M155 50h1M198 50h1M217 50h1"/>
<path stroke="#5aae61" d="M5 0h1M36 0h1M72 0h1M143 0h1M146 0h1M166 0h1M194 0h1M220 0h1M260 0h1M14 2h1M41 2h1M110 2h1M152 2h1M163 2h1M177 2h1M194 2h1M273 2h1M212 3h1M225 3h1M250 3h1M167 4h1M169 4h1M108 5h1M250 5h2M265 5h1M40 6h1M67 6h1M81 6h1M158 6h1M165 6h1M216 6h1M263 6h1M57 7h1M154 7h1M251 7h1M17 8h1M111 8h1M189 8h1M237 8h1M245 8h1M88 9h1M163 9h1M26 10h1M147 10h1M106 11h1M138 11h1M262 11h1M272 11h1M34 12h1M58 12h1M112 12h1M115 12h1M126 12h1M129 12h1M166 12h1M190 12h1M202 12h1M18 13h1M47 13h1M82 13h1M117 13h1M256 13h1M206 14h1M16 15h1M100 15h1M125 15h1M132 15h1M135 15h1M186 15h1M211 15h1M240 15h1M14 16h1M82 16h1M217 16h1M222 16h1M248 16h3M0 17h1M26 17h1M71 17h1M100 17h1M111 17h1M200 17h1M203 17h1M205 17h1M221 17h1M241 17h1M252 17h1M254 17h1M276 17h1M35 18h1M94 18h1M215 18h1M243 18h1M262 18h1M28 19h2M52 19h1M79 19h1M93 19h1M101 19h1M160 19h1M207 19h1M224 19h1M38 20h1M211 20h1M169 21h1M233 21h1M252 21h1M62 22h1M156 22h1M176 22h1M214 22h1M0 23h1M7 23h1M10 23h1M48 23h1M90 23h1M114 23h1M121 23h1M253 23h1M267 23h1M19 24h1M38 25h1M83 25h1M107 25h1M171 25h1M190 25h1M248 25h1M253 25h1M75 26h1M96 26h1M126 26h1M145 26h1M208 26h1M216 26h1M219 26h1M224 26h1M18 27h1M46 27h1M87 27h1M123 27h1M140 27h1M162 27h1M191 27h1M197 27h1M203 27h1M248 27h1M253 27h1M269 27h1M19 28h1M31 28h1M0 29h1M66 29h1M103 29h1M137 29h1M141 29h1M148 29h1M152 29h1M157 29h1M201 29h1M237 29h1M278 29h1M17 30h1M19 30h1M97 30h1M41 32h1M121 32h1M135 32h1M140 32h1M213 32h1M210 33h1M61 34h1M66 35h1M95 35h1M97 35h1M126 35h1M200 35h1M204 35h1M257 35h1M246 36h1M1 37h1M24 37h1M121 37h1M143 37h1M177 37h1M189 37h1M216 37h1M220 37h1M23 38h1M176 40h1M277 40h1M27 41h1M80 41h1M89 41h1M123 41h1M143 41h1M157 41h1M188 41h1M203 41h1M11 43h1M176 43h1M37 44h1M113 44h1M145 44h1M159 44h1M176 44h1M195 44h1M199 44h1M229 44h1M262 44h1M30 45h1M94 45h1M109 45h1M127 45h1M277 45h1M61 46h1M94 46h1M99 46h1M136 46h1M158 46h1M216 46h1M218 46h1M4 47h1M25 47h1M92 47h1M110 47h1M130 47h1M196 47h1M246 47h1M261 47h1M64 48h1M90 48h1M122 48h1M132 48h2M183 48h1M214 48h1M249 48h1M269 48h1M20 49h1M79 49h1M149 49h1M42 50h1M70 50h1M84 50h1M104 50h1M180 50h1M275 50h1"/>
<path stroke="#3a934c" d="M10 0h1M64 0h1M127 0h1M89 1h1M23 2h1M39 2h1M55 2h1M58 2h1M109 2h1M112 2h1M122 2h1M148 2h1M154 2h1M182 2h1M211 2h1M245 2h1M65 3h1M205 3h1M230 3h1M28 4h1M62 4h1M128 4h1M230 4h1M45 5h1M136 5h1M243 5h1M52 6h1M94 6h1M136 6h1M230 6h1M2 7h1M192 7h1M249 7h2M29 8h2M41 8h1M74 8h1M131 8h1M143 8h1M160 8h1M209 8h1M231 8h1M132 9h1M5 11h1M48 11h1M146 11h1M32 12h1M100 12h2M118 12h1M131 12h1M69 13h1M142 13h1M159 13h1M236 13h1M251 13h1M93 14h1M260 14h1M179 15h1M275 15h1M42 16h1M52 16h1M70 16h1M233 16h1M8 17h1M125 17h1M131 17h1M237 17h1M38 18h1M214 18h1M2 19h1M17 19h1M19 19h1M46 19h1M78 19h1M104 19h1M106 19h1M136 19h1M142 19h1M145 19h2M157 19h1M195 19h1M247 19h1M255 19h1M4 20h1M249 20h1M253 20h1M149 21h1M199 21h1M4 22h1M228 22h1M4 23h1M30 23h1M36 23h1M63 23h1M71 23h1M91 23h1M96 23h1M118 23h1M167 23h1M189 23h1M224 23h2M249 23h1M252 23h1M257 23h1M279 23h1M33 24h1M79 24h1M163 24h1M213 24h1M250 24h1M256 24h1M7 25h1M52 25h1M67 25h1M86 25h1M124 25h1M157 25h1M244 25h1M251 25h1M8 26h1M54 26h1M168 26h1M226 26h2M244 26h1M21 27h1M62 27h1M65 27h1M76 27h1M81 27h1M84 27h1M103 27h1M105 27h1M120 27h1M134 27h1M158 27h1M160 27h2M168 27h1M170 27h1M175 27h1M180 27h1M209 27h1M252 27h1M274 27h1M277 27h1M215 28h1M243 28h1M261 28h1M29 29h1M52 29h1M68 29h1M100 29h1M107 29h1M172 29h1M174 29h1M187 29h1M220 29h1M273 29h1M36 30h2M42 30h1M182 30h1M196 30h1M272 30h1M6 32h1M85 32h1M96 32h1M127 32h1M40 35h1M44 35h1M55 35h1M138 35h1M207 35h1M258 35h1M277 35h1M279 35h1M138 36h1M198 36h1M35 37h1M122 37h1M141 37h1M59 38h2M132 38h1M32 39h1M3 40h1M202 40h1M270 40h1M56 41h1M104 41h1M162 41h1M268 41h1M275 41h1M9 42h1M150 42h1M51 44h1M214 44h1M273 44h1M276 44h2M23 45h1M39 45h1M42 45h1M48 45h2M66 45h1M98 45h1M134 45h1M158 45h1M163 45h1M216 45h1M76 46h1M125 46h1M193 46h1M233 46h1M16 47h1M59 47h1M103 47h2M165 47h1M206 47h1M257 47h1M268 47h1M273 47h1M278 47h1M72 48h1M88 48h1M131 48h1M188 48h1M116 49h1M258 49h1M59 50h1M158 50h1M194 50h1M262 50h1"/>
<path stroke="#1b7837" d="M71 0h1M92 0h1M178 0h1M256 0h1M15 1h1M65 1h1M38 2h1M265 2h1M20 6h1M139 6h1M168 7h1M252 7h1M254 7h1M44 8h1M47 8h1M34 11h1M21 12h1M105 12h1M153 12h1M3 13h1M20 13h1M127 13h1M273 13h1M22 14h1M24 15h1M32 15h1M51 15h1M65 15h1M69 15h1M4 16h1M276 16h1M11 17h1M16 17h1M44 17h1M74 17h1M117 17h1M242 17h1M249 18h1M251 18h1M253 18h1M1 19h1M33 19h1M86 19h1M95 19h1M249 19h1M1 20h1M38 21h1M46 22h1M15 23h1M47 23h1M61 23h1M92 23h1M124 23h1M141 23h1M251 23h1M13 24h1M62 24h1M248 24h1M251 24h1M65 25h1M78 25h1M246 25h1M20 26h1M22 26h1M37 26h1M48 26h1M77 26h1M114 26h1M247 26h1M270 26h1M102 27h1M113 27h1M258 27h2M267 27h1M278 27h1M7 28h1M22 28h1M103 28h1M37 29h1M84 29h1M98 29h1M113 29h1M31 30h1M58 30h1M74 30h1M268 30h1M18 32h1M58 32h1M77 32h1M226 32h1M13 35h1M33 35h1M114 35h1M118 35h1M131 36h1M143 36h1M22 37h1M83 37h1M91 37h1M114 37h1M123 37h1M3 38h1M73 38h1M88 38h1M104 38h1M126 38h2M133 38h1M61 40h1M3 41h1M256 41h1M272 41h1M9 45h1M17 45h1M70 45h1M73 45h1M75 45h1M78 45h2M100 45h1M137 45h1M29 46h1M33 46h1M52 46h1M24 47h1M36 47h1M72 47h1M119 47h1M218 47h1M50 49h1M65 49h1M107 49h1M143 49h1"/>
<path stroke="#0e5e29" d="M248 7h1M253 7h1M248 18h1M250 18h1M248 19h1M250 19h3M254 19h1M248 20h1M252 20h1M254 20h1M253 24h1M125 35h1M134 35h1M143 35h1M131 38h1M237 49h4"/>
<path stroke="#00441b" d="M252 18h1M250 20h2M250 23h1M249 24h1M254 24h1M121 35h1M139 35h1M121 36h1M134 36h1M113 37h1M121 38h1"/>
</g></g></g>
<rect x="778.0" y="95.5" width="978.7" height="538.4" fill="none" stroke="#333" stroke-width="1.6"/>
<path d="M778.0 100.8h3M1756.7 100.8h-3M778.0 111.3h3M1756.7 111.3h-3M778.0 121.9h3M1756.7 121.9h-3M778.0 132.4h3M1756.7 132.4h-3M778.0 143.0h3M1756.7 143.0h-3M778.0 153.6h3M1756.7 153.6h-3M778.0 164.1h3M1756.7 164.1h-3M778.0 174.7h3M1756.7 174.7h-3M778.0 185.2h3M1756.7 185.2h-3M778.0 195.8h3M1756.7 195.8h-3M778.0 206.3h3M1756.7 206.3h-3M778.0 216.9h3M1756.7 216.9h-3M778.0 227.5h3M1756.7 227.5h-3M778.0 238.0h3M1756.7 238.0h-3M778.0 248.6h3M1756.7 248.6h-3M778.0 259.1h3M1756.7 259.1h-3M778.0 269.7h3M1756.7 269.7h-3M778.0 280.2h3M1756.7 280.2h-3M778.0 290.8h3M1756.7 290.8h-3M778.0 301.4h3M1756.7 301.4h-3M778.0 311.9h3M1756.7 311.9h-3M778.0 322.5h3M1756.7 322.5h-3M778.0 333.0h3M1756.7 333.0h-3M778.0 343.6h3M1756.7 343.6h-3M778.0 354.1h3M1756.7 354.1h-3M778.0 364.7h3M1756.7 364.7h-3M778.0 375.3h3M1756.7 375.3h-3M778.0 385.8h3M1756.7 385.8h-3M778.0 396.4h3M1756.7 396.4h-3M778.0 406.9h3M1756.7 406.9h-3M778.0 417.5h3M1756.7 417.5h-3M778.0 428.0h3M1756.7 428.0h-3M778.0 438.6h3M1756.7 438.6h-3M778.0 449.2h3M1756.7 449.2h-3M778.0 459.7h3M1756.7 459.7h-3M778.0 470.3h3M1756.7 470.3h-3M778.0 480.8h3M1756.7 480.8h-3M778.0 491.4h3M1756.7 491.4h-3M778.0 501.9h3M1756.7 501.9h-3M778.0 512.5h3M1756.7 512.5h-3M778.0 523.1h3M1756.7 523.1h-3M778.0 533.6h3M1756.7 533.6h-3M778.0 544.2h3M1756.7 544.2h-3M778.0 554.7h3M1756.7 554.7h-3M778.0 565.3h3M1756.7 565.3h-3M778.0 575.8h3M1756.7 575.8h-3M778.0 586.4h3M1756.7 586.4h-3M778.0 597.0h3M1756.7 597.0h-3M778.0 607.5h3M1756.7 607.5h-3M778.0 618.1h3M1756.7 618.1h-3M778.0 628.6h3M1756.7 628.6h-3" stroke="#222" stroke-width="1"/>
<rect x="778.0" y="663.7" width="978.7" height="537.9" fill="none" stroke="#333" stroke-width="1.6"/>
<path d="M778.0 669.0h3M1756.7 669.0h-3M778.0 679.5h3M1756.7 679.5h-3M778.0 690.1h3M1756.7 690.1h-3M778.0 700.6h3M1756.7 700.6h-3M778.0 711.2h3M1756.7 711.2h-3M778.0 721.7h3M1756.7 721.7h-3M778.0 732.3h3M1756.7 732.3h-3M778.0 742.8h3M1756.7 742.8h-3M778.0 753.4h3M1756.7 753.4h-3M778.0 763.9h3M1756.7 763.9h-3M778.0 774.4h3M1756.7 774.4h-3M778.0 785.0h3M1756.7 785.0h-3M778.0 795.5h3M1756.7 795.5h-3M778.0 806.1h3M1756.7 806.1h-3M778.0 816.6h3M1756.7 816.6h-3M778.0 827.2h3M1756.7 827.2h-3M778.0 837.7h3M1756.7 837.7h-3M778.0 848.3h3M1756.7 848.3h-3M778.0 858.8h3M1756.7 858.8h-3M778.0 869.4h3M1756.7 869.4h-3M778.0 879.9h3M1756.7 879.9h-3M778.0 890.5h3M1756.7 890.5h-3M778.0 901.0h3M1756.7 901.0h-3M778.0 911.6h3M1756.7 911.6h-3M778.0 922.1h3M1756.7 922.1h-3M778.0 932.6h3M1756.7 932.6h-3M778.0 943.2h3M1756.7 943.2h-3M778.0 953.7h3M1756.7 953.7h-3M778.0 964.3h3M1756.7 964.3h-3M778.0 974.8h3M1756.7 974.8h-3M778.0 985.4h3M1756.7 985.4h-3M778.0 995.9h3M1756.7 995.9h-3M778.0 1006.5h3M1756.7 1006.5h-3M778.0 1017.0h3M1756.7 1017.0h-3M778.0 1027.6h3M1756.7 1027.6h-3M778.0 1038.1h3M1756.7 1038.1h-3M778.0 1048.7h3M1756.7 1048.7h-3M778.0 1059.2h3M1756.7 1059.2h-3M778.0 1069.8h3M1756.7 1069.8h-3M778.0 1080.3h3M1756.7 1080.3h-3M778.0 1090.9h3M1756.7 1090.9h-3M778.0 1101.4h3M1756.7 1101.4h-3M778.0 1112.0h3M1756.7 1112.0h-3M778.0 1122.5h3M1756.7 1122.5h-3M778.0 1133.0h3M1756.7 1133.0h-3M778.0 1143.6h3M1756.7 1143.6h-3M778.0 1154.1h3M1756.7 1154.1h-3M778.0 1164.7h3M1756.7 1164.7h-3M778.0 1175.2h3M1756.7 1175.2h-3M778.0 1185.8h3M1756.7 1185.8h-3M778.0 1196.3h3M1756.7 1196.3h-3" stroke="#222" stroke-width="1"/>
<g font-family="DejaVu Sans,sans-serif" font-size="14.5" fill="#222" text-anchor="end">
<text transform="translate(772.5 107.1) scale(1 1.2)">IL5</text>
<text transform="translate(772.5 117.6) scale(1 1.2)">LIF</text>
<text transform="translate(772.5 128.2) scale(1 1.2)">IP10</text>
<text transform="translate(772.5 138.7) scale(1 1.2)">IL2</text>
<text transform="translate(772.5 149.3) scale(1 1.2)">NGF</text>
<text transform="translate(772.5 159.9) scale(1 1.2)">IL4</text>
<text transform="translate(772.5 170.4) scale(1 1.2)">IL17F</text>
<text transform="translate(772.5 181.0) scale(1 1.2)">IL15</text>
<text transform="translate(772.5 191.5) scale(1 1.2)">MCP3</text>
<text transform="translate(772.5 202.1) scale(1 1.2)">IL12P70</text>
<text transform="translate(772.5 212.6) scale(1 1.2)">IFNG</text>
<text transform="translate(772.5 223.2) scale(1 1.2)">IL13</text>
<text transform="translate(772.5 233.8) scale(1 1.2)">SCF</text>
<text transform="translate(772.5 244.3) scale(1 1.2)">EOTAXIN</text>
<text transform="translate(772.5 254.9) scale(1 1.2)">GCSF</text>
<text transform="translate(772.5 265.4) scale(1 1.2)">GROA</text>
<text transform="translate(772.5 276.0) scale(1 1.2)">FGFB</text>
<text transform="translate(772.5 286.5) scale(1 1.2)">FASL</text>
<text transform="translate(772.5 297.1) scale(1 1.2)">IL1B</text>
<text transform="translate(772.5 307.7) scale(1 1.2)">IL17</text>
<text transform="translate(772.5 318.2) scale(1 1.2)">RANTES</text>
<text transform="translate(772.5 328.8) scale(1 1.2)">MCSF</text>
<text transform="translate(772.5 339.3) scale(1 1.2)">TGFA</text>
<text transform="translate(772.5 349.9) scale(1 1.2)">IL1RA</text>
<text transform="translate(772.5 360.4) scale(1 1.2)">IFNB</text>
<text transform="translate(772.5 371.0) scale(1 1.2)">ICAM1</text>
<text transform="translate(772.5 381.6) scale(1 1.2)">PAI1</text>
<text transform="translate(772.5 392.1) scale(1 1.2)">MIP1B</text>
<text transform="translate(772.5 402.7) scale(1 1.2)">RESISTIN</text>
<text transform="translate(772.5 413.2) scale(1 1.2)">MIP1A</text>
<text transform="translate(772.5 423.8) scale(1 1.2)">IL8</text>
<text transform="translate(772.5 434.3) scale(1 1.2)">MIG</text>
<text transform="translate(772.5 444.9) scale(1 1.2)">PDGFBB</text>
<text transform="translate(772.5 455.5) scale(1 1.2)">HGF</text>
<text transform="translate(772.5 466.0) scale(1 1.2)">CD40L</text>
<text transform="translate(772.5 476.6) scale(1 1.2)">IL6</text>
<text transform="translate(772.5 487.1) scale(1 1.2)">IL7</text>
<text transform="translate(772.5 497.7) scale(1 1.2)">VCAM1</text>
<text transform="translate(772.5 508.2) scale(1 1.2)">IL1A</text>
<text transform="translate(772.5 518.8) scale(1 1.2)">IL10</text>
<text transform="translate(772.5 529.4) scale(1 1.2)">IFNA</text>
<text transform="translate(772.5 539.9) scale(1 1.2)">TGFB</text>
<text transform="translate(772.5 550.5) scale(1 1.2)">MCP1</text>
<text transform="translate(772.5 561.0) scale(1 1.2)">LEPTIN</text>
<text transform="translate(772.5 571.6) scale(1 1.2)">ENA78</text>
<text transform="translate(772.5 582.1) scale(1 1.2)">IL12P40</text>
<text transform="translate(772.5 592.7) scale(1 1.2)">GMCSF</text>
<text transform="translate(772.5 603.3) scale(1 1.2)">IL18</text>
<text transform="translate(772.5 613.8) scale(1 1.2)">TNFA</text>
<text transform="translate(772.5 624.4) scale(1 1.2)">TNFB</text>
<text transform="translate(772.5 634.9) scale(1 1.2)">VEGF</text>
</g>
<g font-family="DejaVu Sans,sans-serif" font-size="14.5" fill="#222" text-anchor="end">
<text transform="translate(772.5 675.3) scale(1 1.2)">VEGF</text>
<text transform="translate(772.5 685.8) scale(1 1.2)">IL13</text>
<text transform="translate(772.5 696.4) scale(1 1.2)">IP10</text>
<text transform="translate(772.5 706.9) scale(1 1.2)">IL12P40</text>
<text transform="translate(772.5 717.5) scale(1 1.2)">MCP3</text>
<text transform="translate(772.5 728.0) scale(1 1.2)">MIG</text>
<text transform="translate(772.5 738.6) scale(1 1.2)">MIP1B</text>
<text transform="translate(772.5 749.1) scale(1 1.2)">VCAM1</text>
<text transform="translate(772.5 759.6) scale(1 1.2)">ICAM1</text>
<text transform="translate(772.5 770.2) scale(1 1.2)">GROA</text>
<text transform="translate(772.5 780.7) scale(1 1.2)">HGF</text>
<text transform="translate(772.5 791.3) scale(1 1.2)">RANTES</text>
<text transform="translate(772.5 801.8) scale(1 1.2)">RESISTIN</text>
<text transform="translate(772.5 812.4) scale(1 1.2)">IFNB</text>
<text transform="translate(772.5 822.9) scale(1 1.2)">ENA78</text>
<text transform="translate(772.5 833.5) scale(1 1.2)">NGF</text>
<text transform="translate(772.5 844.0) scale(1 1.2)">LEPTIN</text>
<text transform="translate(772.5 854.6) scale(1 1.2)">SCF</text>
<text transform="translate(772.5 865.1) scale(1 1.2)">IL6</text>
<text transform="translate(772.5 875.7) scale(1 1.2)">IL8</text>
<text transform="translate(772.5 886.2) scale(1 1.2)">CD40L</text>
<text transform="translate(772.5 896.8) scale(1 1.2)">IL1A</text>
<text transform="translate(772.5 907.3) scale(1 1.2)">IL15</text>
<text transform="translate(772.5 917.9) scale(1 1.2)">IL10</text>
<text transform="translate(772.5 928.4) scale(1 1.2)">FGFB</text>
<text transform="translate(772.5 938.9) scale(1 1.2)">IL1B</text>
<text transform="translate(772.5 949.5) scale(1 1.2)">MCP1</text>
<text transform="translate(772.5 960.0) scale(1 1.2)">TGFB</text>
<text transform="translate(772.5 970.6) scale(1 1.2)">GCSF</text>
<text transform="translate(772.5 981.1) scale(1 1.2)">IL7</text>
<text transform="translate(772.5 991.7) scale(1 1.2)">PDGFBB</text>
<text transform="translate(772.5 1002.2) scale(1 1.2)">GMCSF</text>
<text transform="translate(772.5 1012.8) scale(1 1.2)">IL18</text>
<text transform="translate(772.5 1023.3) scale(1 1.2)">TGFA</text>
<text transform="translate(772.5 1033.9) scale(1 1.2)">EOTAXIN</text>
<text transform="translate(772.5 1044.4) scale(1 1.2)">MIP1A</text>
<text transform="translate(772.5 1055.0) scale(1 1.2)">IL2</text>
<text transform="translate(772.5 1065.5) scale(1 1.2)">TNFA</text>
<text transform="translate(772.5 1076.1) scale(1 1.2)">MCSF</text>
<text transform="translate(772.5 1086.6) scale(1 1.2)">TNFB</text>
<text transform="translate(772.5 1097.2) scale(1 1.2)">IL17</text>
<text transform="translate(772.5 1107.7) scale(1 1.2)">FASL</text>
<text transform="translate(772.5 1118.2) scale(1 1.2)">PAI1</text>
<text transform="translate(772.5 1128.8) scale(1 1.2)">IL1RA</text>
<text transform="translate(772.5 1139.3) scale(1 1.2)">IFNG</text>
<text transform="translate(772.5 1149.9) scale(1 1.2)">LIF</text>
<text transform="translate(772.5 1160.4) scale(1 1.2)">IL12P70</text>
<text transform="translate(772.5 1171.0) scale(1 1.2)">IL4</text>
<text transform="translate(772.5 1181.5) scale(1 1.2)">IFNA</text>
<text transform="translate(772.5 1192.1) scale(1 1.2)">IL17F</text>
<text transform="translate(772.5 1202.6) scale(1 1.2)">IL5</text>
</g>
<text transform="translate(682 346) rotate(-90)" font-family="Liberation Sans,Arial,sans-serif" fill="#000" font-size="42" text-anchor="middle">Before correction</text>
<text transform="translate(682 902.2) rotate(-90)" font-family="Liberation Sans,Arial,sans-serif" fill="#000" font-size="41" text-anchor="middle">After correction</text>
<defs><linearGradient id="cb" x1="0" y1="0" x2="0" y2="1"><stop offset="0.00" stop-color="#00441b"/><stop offset="0.10" stop-color="#1b7837"/><stop offset="0.20" stop-color="#5aae61"/><stop offset="0.30" stop-color="#a6dba0"/><stop offset="0.40" stop-color="#d9f0d3"/><stop offset="0.50" stop-color="#f7f7f7"/><stop offset="0.60" stop-color="#e7d4e8"/><stop offset="0.70" stop-color="#c2a5cf"/><stop offset="0.80" stop-color="#9970ab"/><stop offset="0.90" stop-color="#762a83"/><stop offset="1.00" stop-color="#40004b"/></linearGradient></defs>
<rect x="1788.7" y="95.8" width="27.9" height="538.4" fill="url(#cb)" stroke="#444" stroke-width="1.5"/>
<text x="1822" y="98.4" font-family="DejaVu Sans,sans-serif" font-size="13" fill="#3a3a3a">3.0</text>
<text x="1822" y="152.2" font-family="DejaVu Sans,sans-serif" font-size="13" fill="#3a3a3a">2.4</text>
<text x="1822" y="206.1" font-family="DejaVu Sans,sans-serif" font-size="13" fill="#3a3a3a">1.8</text>
<text x="1822" y="259.9" font-family="DejaVu Sans,sans-serif" font-size="13" fill="#3a3a3a">1.2</text>
<text x="1822" y="313.8" font-family="DejaVu Sans,sans-serif" font-size="13" fill="#3a3a3a">0.6</text>
<text x="1822" y="367.6" font-family="DejaVu Sans,sans-serif" font-size="13" fill="#3a3a3a">0.0</text>
<text x="1822" y="421.4" font-family="DejaVu Sans,sans-serif" font-size="13" fill="#3a3a3a">−0.6</text>
<text x="1822" y="475.3" font-family="DejaVu Sans,sans-serif" font-size="13" fill="#3a3a3a">−1.2</text>
<text x="1822" y="529.1" font-family="DejaVu Sans,sans-serif" font-size="13" fill="#3a3a3a">−1.8</text>
<text x="1822" y="583.0" font-family="DejaVu Sans,sans-serif" font-size="13" fill="#3a3a3a">−2.4</text>
<text x="1822" y="636.8" font-family="DejaVu Sans,sans-serif" font-size="13" fill="#3a3a3a">−3.0</text>
<path d="M1816.6 95.8h-3M1816.6 149.6h-3M1816.6 203.5h-3M1816.6 257.3h-3M1816.6 311.2h-3M1816.6 365.0h-3M1816.6 418.8h-3M1816.6 472.7h-3M1816.6 526.5h-3M1816.6 580.4h-3M1816.6 634.2h-3" stroke="#444" stroke-width="1"/>
</svg></body></html>
